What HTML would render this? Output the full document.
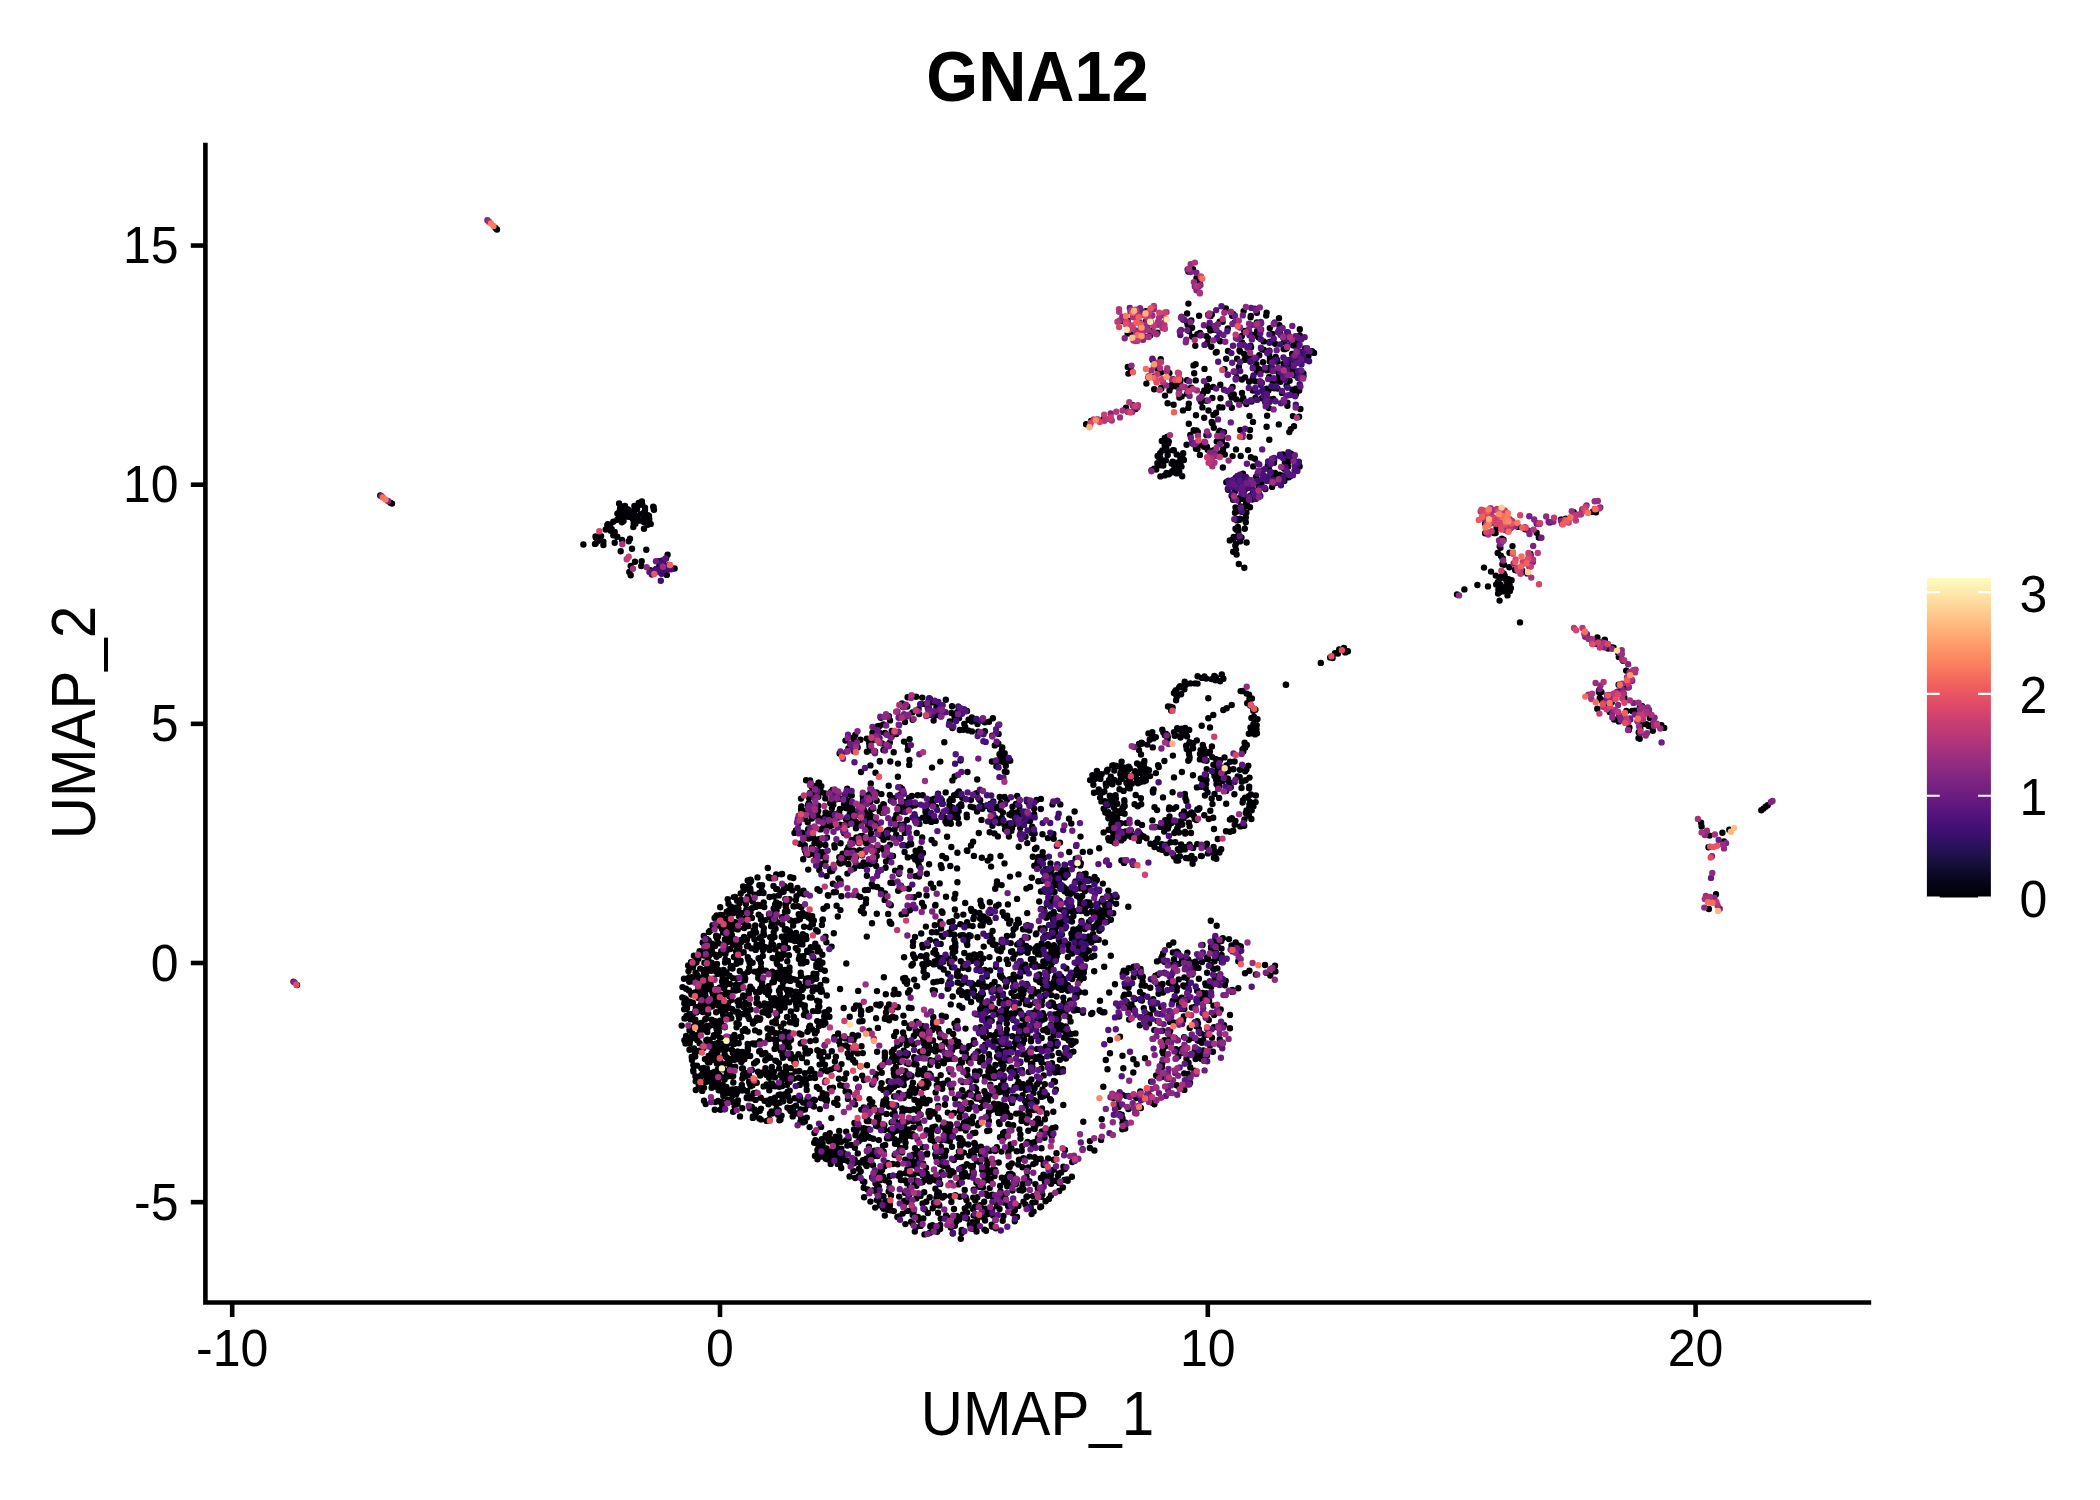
<!DOCTYPE html>
<html><head><meta charset="utf-8"><title>GNA12</title>
<style>
html,body{margin:0;padding:0;background:#fff;}
body{width:2100px;height:1500px;overflow:hidden;}
svg{display:block;font-family:"Liberation Sans",sans-serif;fill:#000;}
</style></head><body>
<svg width="2100" height="1500" viewBox="0 0 2100 1500">
<rect width="2100" height="1500" fill="#fff"/>
<g id="pts" fill="none" stroke-linecap="round" stroke-width="6.4">
<path d="M1193.0 269.2h0M1188.4 271.6h0M1196.5 278.3h0M1199.7 282.4h0M1196.4 285.0h0M1225.9 308.4h0M1150.9 309.0h0M1145.8 311.3h0M1243.6 311.1h0M1256.9 312.7h0M1266.6 312.8h0M1187.1 313.5h0M1208.2 314.7h0M1208.9 314.9h0M1211.8 314.5h0M1233.3 314.3h0M1139.1 315.2h0M1162.3 315.0h0M1199.1 315.7h0M1232.1 315.7h0M1250.8 315.9h0M1266.2 315.6h0M1210.7 316.1h0M1250.6 317.3h0M1279.0 318.3h0M1183.1 319.5h0M1122.3 321.0h0M1127.7 320.8h0M1191.3 320.4h0M1146.1 321.1h0M1219.7 321.6h0M1222.6 321.8h0M1150.1 322.5h0M1187.1 322.4h0M1188.5 322.1h0M1234.6 322.4h0M1256.8 322.5h0M1235.3 323.6h0M1187.6 324.8h0M1188.7 325.9h0M1258.6 325.1h0M1279.4 325.2h0M1208.7 326.6h0M1147.0 328.0h0M1192.1 327.8h0M1227.8 328.4h0M1269.8 328.1h0M1132.6 329.7h0M1212.8 329.8h0M1299.8 329.3h0M1151.0 330.7h0M1210.3 330.6h0M1216.1 330.1h0M1258.0 330.6h0M1189.1 331.3h0M1244.2 331.0h0M1257.2 331.0h0M1157.4 332.7h0M1200.0 332.9h0M1127.7 333.6h0M1280.2 333.4h0M1132.2 334.7h0M1197.4 334.3h0M1253.7 334.9h0M1272.4 334.0h0M1150.3 335.3h0M1241.8 335.9h0M1299.8 335.4h0M1141.0 336.2h0M1192.1 336.6h0M1206.3 336.1h0M1252.7 336.6h0M1299.4 336.1h0M1258.8 337.5h0M1208.0 338.1h0M1217.0 338.6h0M1237.2 338.6h0M1134.5 339.3h0M1290.9 339.9h0M1297.9 339.4h0M1220.2 341.2h0M1263.7 341.4h0M1271.3 341.8h0M1297.7 341.9h0M1242.0 342.5h0M1269.6 342.0h0M1283.9 342.4h0M1207.2 343.2h0M1275.1 343.7h0M1295.7 343.9h0M1195.3 345.7h0M1250.6 345.8h0M1293.5 345.5h0M1211.3 346.8h0M1251.1 347.2h0M1261.7 348.9h0M1286.5 348.5h0M1305.0 348.4h0M1263.7 349.8h0M1283.6 349.1h0M1285.5 349.1h0M1228.0 351.0h0M1239.5 350.4h0M1269.4 350.7h0M1304.2 350.6h0M1216.7 351.9h0M1240.1 351.5h0M1302.9 352.0h0M1312.0 351.2h0M1215.8 352.6h0M1314.1 352.9h0M1244.2 354.0h0M1269.2 354.6h0M1292.1 354.0h0M1259.3 355.3h0M1299.4 355.8h0M1245.6 356.5h0M1250.0 356.8h0M1275.7 356.9h0M1308.4 356.3h0M1226.2 358.7h0M1237.1 358.8h0M1269.9 358.4h0M1295.8 358.9h0M1296.0 358.5h0M1160.7 359.1h0M1244.7 359.9h0M1244.6 359.8h0M1276.9 359.7h0M1152.7 360.1h0M1272.6 360.5h0M1275.1 360.8h0M1287.9 360.2h0M1289.8 360.9h0M1269.7 361.6h0M1277.5 361.8h0M1263.0 362.2h0M1290.6 362.2h0M1283.7 363.8h0M1195.6 364.2h0M1256.4 364.2h0M1193.5 365.4h0M1293.0 365.3h0M1127.8 366.9h0M1238.9 366.8h0M1129.1 367.1h0M1130.5 367.3h0M1252.9 367.8h0M1253.4 367.9h0M1269.1 368.0h0M1287.8 367.7h0M1130.4 368.2h0M1157.6 368.7h0M1204.5 368.9h0M1258.4 368.8h0M1288.6 368.1h0M1293.0 368.9h0M1224.5 369.1h0M1261.9 369.9h0M1271.2 369.8h0M1167.2 370.5h0M1266.9 370.3h0M1284.4 370.4h0M1284.5 370.3h0M1160.1 371.8h0M1234.1 371.7h0M1256.9 371.8h0M1278.2 371.9h0M1292.6 371.7h0M1296.6 371.8h0M1160.9 372.5h0M1128.4 373.6h0M1169.4 373.1h0M1194.2 373.2h0M1303.4 373.4h0M1294.5 375.2h0M1303.5 376.0h0M1154.2 376.7h0M1269.2 377.0h0M1279.0 376.7h0M1148.5 377.6h0M1236.6 377.7h0M1245.1 377.4h0M1252.9 378.1h0M1282.4 378.9h0M1172.8 379.1h0M1180.6 379.9h0M1208.9 379.0h0M1241.9 379.5h0M1172.5 380.3h0M1187.1 380.3h0M1195.7 380.4h0M1252.6 380.3h0M1289.6 380.7h0M1178.5 381.9h0M1180.1 382.0h0M1249.1 381.8h0M1255.9 381.4h0M1272.6 381.3h0M1274.8 381.9h0M1280.5 381.8h0M1172.7 382.7h0M1261.8 382.9h0M1146.4 383.6h0M1220.3 384.8h0M1170.9 385.8h0M1207.0 385.8h0M1286.6 385.6h0M1175.8 386.3h0M1176.6 386.6h0M1232.6 386.9h0M1272.5 386.5h0M1161.2 387.8h0M1170.9 387.3h0M1191.3 387.7h0M1213.1 387.0h0M1287.4 387.2h0M1161.3 388.4h0M1189.9 388.5h0M1266.6 388.7h0M1274.2 388.3h0M1277.6 388.6h0M1295.9 388.7h0M1154.2 389.3h0M1191.7 389.0h0M1292.3 389.7h0M1169.5 390.4h0M1204.3 390.4h0M1207.7 390.8h0M1252.8 390.6h0M1268.6 390.3h0M1299.2 390.5h0M1263.1 391.4h0M1296.5 391.0h0M1242.0 393.0h0M1282.0 392.9h0M1187.1 393.7h0M1202.8 393.8h0M1296.1 393.9h0M1230.7 394.5h0M1233.8 394.4h0M1165.0 395.6h0M1181.6 396.4h0M1179.4 397.6h0M1231.7 397.5h0M1243.2 397.9h0M1255.4 398.0h0M1212.4 398.0h0M1220.5 398.2h0M1261.9 398.3h0M1273.3 398.9h0M1201.5 399.3h0M1236.4 399.4h0M1270.1 399.4h0M1200.5 400.4h0M1206.3 400.8h0M1201.1 401.7h0M1240.2 401.5h0M1251.6 401.5h0M1287.4 402.6h0M1167.6 403.2h0M1188.8 403.7h0M1229.5 403.8h0M1173.6 404.8h0M1246.3 404.1h0M1132.9 405.2h0M1287.4 405.7h0M1126.0 407.8h0M1188.3 407.9h0M1202.4 407.4h0M1219.3 407.3h0M1222.4 407.4h0M1231.8 407.8h0M1135.0 408.9h0M1135.6 409.0h0M1269.0 408.1h0M1300.4 409.0h0M1183.0 410.4h0M1208.5 410.5h0M1127.9 411.8h0M1216.1 412.7h0M1213.5 414.9h0M1196.0 415.3h0M1249.5 415.9h0M1267.1 415.8h0M1292.9 416.1h0M1299.1 416.7h0M1204.2 417.7h0M1103.3 419.2h0M1091.1 421.0h0M1211.7 422.0h0M1253.0 421.9h0M1188.8 423.7h0M1212.0 423.1h0M1212.6 423.5h0M1086.1 424.3h0M1278.8 424.4h0M1266.6 426.7h0M1294.0 426.3h0M1213.8 427.8h0M1240.3 429.9h0M1250.0 429.9h0M1290.8 429.1h0M1193.7 430.2h0M1194.7 430.6h0M1196.6 430.4h0M1219.9 430.6h0M1197.8 431.9h0M1220.6 431.6h0M1218.8 432.6h0M1224.0 432.1h0M1289.3 432.1h0M1206.4 435.0h0M1221.0 434.6h0M1190.3 435.0h0M1167.6 436.6h0M1222.3 436.6h0M1249.6 436.7h0M1164.8 437.9h0M1218.6 437.6h0M1219.2 438.2h0M1221.8 438.6h0M1269.3 439.7h0M1161.8 441.0h0M1220.8 440.1h0M1221.9 440.9h0M1168.8 441.6h0M1216.7 441.6h0M1220.3 442.2h0M1165.1 443.8h0M1168.2 443.6h0M1193.0 443.8h0M1186.6 444.8h0M1201.1 444.5h0M1164.7 445.6h0M1226.6 445.2h0M1204.1 446.8h0M1206.9 446.7h0M1195.8 447.2h0M1196.0 448.7h0M1166.5 449.0h0M1197.5 449.0h0M1207.8 449.8h0M1223.0 449.5h0M1236.0 449.4h0M1162.3 450.5h0M1173.8 450.3h0M1173.0 450.2h0M1213.9 450.2h0M1248.0 450.1h0M1167.6 451.6h0M1160.2 453.2h0M1183.2 453.3h0M1220.2 453.2h0M1291.0 453.8h0M1167.7 454.9h0M1176.7 454.4h0M1199.9 454.9h0M1212.3 454.6h0M1224.8 454.5h0M1283.0 454.4h0M1157.6 456.0h0M1182.3 455.2h0M1240.7 456.0h0M1282.5 455.8h0M1291.7 455.4h0M1179.9 456.3h0M1232.6 456.1h0M1285.5 456.5h0M1159.2 457.4h0M1181.8 457.6h0M1182.1 457.3h0M1250.9 457.2h0M1283.9 457.6h0M1159.4 458.5h0M1160.4 458.1h0M1254.9 458.8h0M1211.6 459.1h0M1289.6 459.3h0M1293.3 459.5h0M1165.8 460.3h0M1183.9 460.0h0M1274.2 460.0h0M1172.6 461.8h0M1179.7 461.5h0M1212.1 461.6h0M1270.6 461.9h0M1273.2 461.7h0M1175.6 462.7h0M1180.4 462.9h0M1274.0 462.8h0M1284.9 462.4h0M1288.1 462.0h0M1298.8 462.4h0M1157.4 463.2h0M1162.4 463.8h0M1171.6 463.6h0M1158.1 464.7h0M1173.6 464.9h0M1160.9 465.3h0M1163.3 465.6h0M1267.8 465.4h0M1287.6 465.6h0M1295.6 465.3h0M1181.5 466.6h0M1253.2 466.4h0M1288.2 466.4h0M1299.6 466.5h0M1222.9 467.5h0M1284.2 467.0h0M1154.1 468.6h0M1175.8 468.3h0M1268.9 468.7h0M1284.2 468.7h0M1156.2 469.5h0M1151.5 470.1h0M1172.2 471.1h0M1179.3 471.9h0M1166.5 472.9h0M1270.6 472.0h0M1275.1 473.0h0M1287.5 472.6h0M1170.2 473.1h0M1176.0 473.2h0M1177.4 473.3h0M1243.0 473.8h0M1168.8 474.3h0M1274.2 474.4h0M1279.4 474.8h0M1286.5 474.3h0M1288.6 474.2h0M1164.7 475.4h0M1275.9 475.8h0M1280.9 475.1h0M1160.4 476.4h0M1182.2 476.2h0M1256.0 477.0h0M1282.2 476.2h0M1290.2 476.1h0M1273.9 477.5h0M1288.8 477.2h0M1235.6 478.0h0M1264.3 478.0h0M1240.9 479.2h0M1263.4 479.9h0M1275.9 479.9h0M1276.7 480.7h0M1276.7 480.3h0M1284.3 480.9h0M1230.8 481.2h0M1235.7 481.5h0M1260.4 481.7h0M1226.3 482.2h0M1247.0 482.3h0M1261.5 483.2h0M1242.0 484.9h0M1258.6 484.8h0M1261.2 485.0h0M1243.8 485.2h0M1258.7 486.5h0M1272.1 486.9h0M1265.4 489.0h0M1228.1 489.7h0M1244.8 489.8h0M1235.0 491.3h0M1243.0 492.5h0M1253.2 492.7h0M1231.6 495.7h0M1250.9 495.5h0M1239.9 497.6h0M1243.4 498.9h0M1253.6 498.4h0M1233.1 499.8h0M1252.3 499.6h0M1238.2 500.6h0M641.9 501.4h0M619.1 503.5h0M638.7 503.0h0M1246.0 503.3h0M642.3 504.6h0M625.0 505.9h0M634.4 505.9h0M638.3 505.6h0M1247.3 505.4h0M620.9 506.2h0M653.2 506.8h0M1240.6 506.4h0M1244.5 506.9h0M1247.9 506.2h0M645.0 507.8h0M653.7 507.1h0M1235.5 507.5h0M1250.0 507.3h0M620.1 508.3h0M637.0 508.9h0M653.6 508.6h0M1241.7 508.8h0M623.5 509.5h0M627.5 509.1h0M628.6 510.0h0M654.0 509.8h0M1239.0 509.3h0M619.7 510.9h0M645.0 510.2h0M630.7 511.4h0M634.0 511.5h0M633.3 511.3h0M1237.4 511.2h0M1241.8 511.7h0M1592.6 511.9h0M618.6 512.6h0M621.6 512.5h0M1235.0 512.7h0M1246.4 512.7h0M1573.7 512.3h0M1596.0 512.2h0M617.4 513.6h0M626.5 513.2h0M630.1 513.7h0M643.1 513.3h0M644.9 513.4h0M1245.4 513.3h0M624.1 514.5h0M634.5 514.5h0M640.6 514.1h0M619.5 515.6h0M619.4 515.3h0M636.9 515.5h0M645.7 515.3h0M647.9 515.1h0M649.0 515.9h0M618.8 516.5h0M627.9 516.6h0M628.9 516.9h0M628.6 516.5h0M632.3 516.8h0M643.8 516.2h0M646.5 516.4h0M1245.8 517.4h0M632.8 518.7h0M1240.1 518.8h0M1565.7 518.8h0M617.3 519.8h0M622.9 520.0h0M633.0 519.2h0M637.9 520.0h0M649.3 519.2h0M1237.0 519.3h0M1239.7 519.8h0M1560.9 519.6h0M1561.7 519.8h0M623.5 520.9h0M639.6 520.5h0M1237.1 520.4h0M1568.0 520.9h0M613.3 521.8h0M621.9 522.3h0M643.9 522.1h0M1245.8 522.3h0M1549.6 522.4h0M633.7 523.5h0M635.4 523.8h0M650.7 523.9h0M1485.1 523.6h0M1536.8 523.5h0M607.3 524.9h0M607.8 524.2h0M610.3 524.5h0M647.8 524.8h0M649.1 524.1h0M1237.9 527.0h0M1518.4 526.9h0M1235.5 528.8h0M1244.8 528.6h0M1244.7 528.8h0M1496.5 528.2h0M605.7 529.5h0M611.8 529.2h0M1236.7 529.2h0M1236.5 529.8h0M1504.6 529.6h0M1509.5 529.1h0M1525.1 529.3h0M1238.3 530.5h0M1494.0 533.0h0M1536.6 532.7h0M1485.1 533.3h0M1495.6 533.1h0M1238.6 534.3h0M595.5 536.5h0M601.1 536.1h0M1233.7 537.0h0M1237.3 536.8h0M595.8 537.5h0M598.8 537.0h0M1241.5 537.4h0M1538.8 537.5h0M1233.3 538.6h0M1240.9 538.3h0M1501.9 538.8h0M1503.5 539.7h0M1229.8 540.4h0M597.4 541.3h0M603.4 541.7h0M1240.1 541.4h0M1246.6 542.5h0M1501.3 542.1h0M595.7 543.6h0M595.0 543.9h0M1236.0 543.5h0M583.4 544.5h0M603.4 545.0h0M1235.3 545.5h0M1499.7 546.3h0M1512.5 546.1h0M1500.4 547.7h0M1236.0 549.6h0M1233.2 551.7h0M1497.7 552.9h0M1509.5 552.7h0M1530.4 553.9h0M667.6 554.7h0M1236.6 554.5h0M1500.9 555.7h0M666.0 558.4h0M1502.8 558.4h0M1502.6 558.8h0M1531.3 560.1h0M658.9 561.3h0M1529.7 561.6h0M659.4 563.9h0M660.8 563.6h0M1502.4 564.2h0M1504.0 564.8h0M665.2 566.2h0M1509.3 567.2h0M674.6 568.5h0M656.4 569.0h0M1515.1 570.0h0M650.2 570.3h0M1516.6 570.4h0M1518.3 570.5h0M1522.2 570.7h0M654.0 571.8h0M654.8 572.8h0M1521.2 572.8h0M661.4 573.3h0M1503.7 573.5h0M1527.3 573.4h0M666.8 574.9h0M1495.8 575.6h0M1502.0 575.9h0M1504.7 575.6h0M1502.9 577.6h0M1499.7 578.2h0M1506.1 578.6h0M1508.6 579.1h0M1511.6 580.2h0M1506.5 581.1h0M1497.8 582.2h0M1496.2 584.4h0M1500.0 584.3h0M1508.3 584.8h0M1509.6 584.5h0M1500.7 585.3h0M1506.9 585.5h0M1504.5 587.7h0M1508.2 587.6h0M1510.9 588.1h0M1498.4 589.5h0M1502.3 589.1h0M1498.7 590.3h0M1499.6 590.7h0M1508.9 590.8h0M1509.9 590.9h0M1503.3 591.2h0M1499.3 592.2h0M1499.2 592.4h0M1498.1 593.5h0M1507.5 595.4h0M1585.5 634.9h0M1597.4 637.4h0M1588.8 638.6h0M1590.8 639.3h0M1604.8 639.8h0M1594.6 640.4h0M1592.3 642.2h0M1602.3 642.1h0M1596.1 643.9h0M1608.0 646.4h0M1610.2 647.6h0M1611.9 647.4h0M1612.3 647.6h0M1613.6 647.8h0M1608.2 648.5h0M1618.2 653.0h0M1618.8 656.9h0M1623.1 660.7h0M1626.2 670.6h0M1626.3 670.6h0M1221.8 674.4h0M1214.3 675.9h0M1197.6 676.3h0M1204.5 676.4h0M1215.6 677.0h0M1202.0 677.9h0M1206.2 678.6h0M1216.1 678.0h0M1223.4 678.8h0M1211.5 679.1h0M1215.5 680.3h0M1184.7 681.7h0M1220.1 681.2h0M1629.0 681.8h0M1190.4 683.4h0M1195.2 683.4h0M1197.5 683.6h0M1185.7 684.7h0M1618.6 684.8h0M1621.6 684.5h0M1180.0 686.3h0M1183.8 686.4h0M1179.0 687.6h0M1626.8 687.3h0M1628.5 687.2h0M1184.4 689.3h0M1621.8 690.0h0M1175.9 690.3h0M1242.7 691.0h0M1599.0 690.6h0M1175.2 691.2h0M1240.6 691.1h0M1598.9 691.9h0M1617.6 691.7h0M1601.5 692.1h0M1173.9 693.1h0M1175.5 693.9h0M1246.6 693.6h0M1181.1 694.3h0M1249.1 694.8h0M1177.5 695.4h0M916.1 696.8h0M907.6 697.3h0M922.3 697.6h0M1176.7 697.0h0M1624.4 697.6h0M929.9 698.6h0M1249.5 698.7h0M1250.1 698.6h0M1251.9 698.5h0M1599.7 698.0h0M945.8 699.8h0M928.7 700.5h0M1176.1 700.2h0M1601.7 700.2h0M930.0 701.9h0M931.3 702.6h0M1611.8 702.2h0M902.0 703.5h0M1247.2 703.2h0M904.2 704.8h0M921.8 704.1h0M926.0 704.3h0M904.7 705.6h0M1250.3 705.5h0M1251.1 705.6h0M1606.9 705.7h0M907.3 706.5h0M936.6 706.3h0M952.0 706.3h0M1168.0 706.5h0M1170.1 706.6h0M1642.1 706.2h0M902.9 707.1h0M936.4 707.7h0M1172.6 707.4h0M1605.9 707.4h0M1606.9 707.5h0M1639.8 707.7h0M1254.5 709.0h0M1597.3 708.8h0M918.6 709.3h0M1255.4 709.8h0M966.0 710.7h0M967.0 710.9h0M1171.2 710.5h0M1253.3 710.7h0M1626.4 710.9h0M1632.1 710.9h0M1634.8 710.8h0M1639.3 710.3h0M928.9 711.5h0M1609.7 712.0h0M912.4 712.4h0M935.9 712.5h0M951.4 712.9h0M957.1 712.3h0M1635.7 712.6h0M919.2 714.1h0M928.0 715.0h0M935.4 715.5h0M1638.2 715.4h0M888.9 716.2h0M954.5 716.6h0M1254.0 716.8h0M880.9 717.8h0M901.1 717.1h0M971.9 717.4h0M954.8 718.9h0M959.1 718.1h0M992.9 718.2h0M1251.4 718.0h0M1253.7 718.0h0M1649.8 718.1h0M912.6 719.8h0M968.6 719.8h0M970.6 719.7h0M1257.5 719.1h0M1614.2 719.5h0M1626.0 719.2h0M1630.2 719.2h0M890.0 720.4h0M933.6 720.6h0M905.0 722.0h0M949.8 721.5h0M971.8 721.6h0M989.0 721.7h0M1618.8 721.4h0M984.8 722.2h0M964.3 724.0h0M1642.2 723.9h0M883.3 724.4h0M977.5 724.1h0M1253.4 724.3h0M1646.3 724.3h0M1651.9 724.8h0M998.4 725.1h0M1256.7 725.1h0M1659.8 725.8h0M1661.4 725.3h0M877.8 726.1h0M879.5 726.0h0M965.2 727.0h0M1648.6 726.0h0M1185.2 728.0h0M1250.5 727.5h0M1629.4 727.5h0M1664.2 727.9h0M952.4 728.1h0M1177.2 728.3h0M1181.7 728.8h0M1252.6 728.2h0M1256.5 728.9h0M1640.3 728.4h0M963.3 729.8h0M1162.3 729.7h0M1179.9 729.8h0M1183.9 729.9h0M1189.2 729.9h0M1251.0 729.6h0M1628.8 729.9h0M891.7 730.9h0M959.8 730.0h0M968.2 730.4h0M1183.4 730.8h0M1652.8 730.8h0M971.9 731.4h0M978.3 731.6h0M984.9 731.3h0M1186.2 731.7h0M1252.0 731.2h0M872.5 732.7h0M879.5 732.6h0M885.0 733.0h0M895.0 732.7h0M1152.3 732.2h0M1163.4 732.6h0M1174.0 732.1h0M1638.7 732.3h0M1640.2 732.4h0M998.6 733.9h0M1148.5 733.4h0M1165.8 733.8h0M1248.8 733.8h0M1252.0 733.2h0M1257.0 733.3h0M855.3 734.9h0M896.3 734.1h0M1151.7 734.6h0M1255.2 734.4h0M872.5 735.7h0M992.2 735.8h0M1164.9 735.3h0M1167.4 735.2h0M1174.7 735.7h0M1175.8 735.4h0M1181.2 735.9h0M1185.7 735.3h0M1185.8 735.2h0M848.3 736.9h0M874.6 736.2h0M891.7 736.5h0M1187.1 736.4h0M853.7 737.5h0M1155.8 737.1h0M1167.8 737.2h0M1180.5 737.5h0M866.8 738.6h0M1153.6 738.4h0M1638.5 738.1h0M1639.7 738.7h0M853.7 739.4h0M860.4 739.7h0M868.2 739.6h0M909.6 739.1h0M1149.7 739.7h0M1167.5 739.5h0M845.5 740.6h0M872.3 740.6h0M1196.8 740.4h0M855.1 741.8h0M904.0 741.6h0M889.8 742.6h0M944.3 742.2h0M1141.5 742.7h0M1189.6 742.2h0M1244.6 742.8h0M869.1 743.0h0M882.1 743.4h0M998.4 743.8h0M1139.0 744.0h0M1142.4 743.5h0M1193.3 743.1h0M1140.7 744.0h0M1147.3 744.6h0M1192.2 744.5h0M1202.8 744.9h0M1246.8 744.9h0M852.1 745.3h0M908.1 745.7h0M994.8 745.4h0M1186.1 745.8h0M869.5 746.4h0M1211.9 746.4h0M857.6 747.4h0M1002.3 747.5h0M1152.8 747.4h0M1245.1 747.7h0M848.4 748.5h0M1186.7 749.0h0M1193.1 748.3h0M1203.9 748.6h0M1243.6 748.1h0M883.8 749.8h0M907.7 749.7h0M1242.5 749.5h0M872.0 750.4h0M883.4 750.1h0M1001.8 750.3h0M1139.0 750.1h0M1200.6 750.1h0M854.2 751.4h0M866.9 751.8h0M875.1 751.5h0M1188.8 751.8h0M1205.0 751.2h0M1209.9 751.8h0M1242.6 751.8h0M1243.3 751.4h0M893.7 752.3h0M839.6 753.5h0M1004.7 753.3h0M1200.0 754.0h0M1208.3 753.1h0M842.1 754.3h0M999.5 754.2h0M1003.7 754.6h0M1141.0 754.5h0M1189.0 754.0h0M1172.9 755.6h0M1204.3 755.4h0M1001.7 757.3h0M1189.6 757.1h0M1212.3 757.1h0M1224.5 757.4h0M909.5 759.9h0M1006.3 759.5h0M1189.4 759.0h0M1199.9 759.4h0M1204.8 759.1h0M1216.1 759.2h0M879.8 761.0h0M960.5 760.6h0M998.8 760.2h0M1010.2 760.7h0M1144.4 761.0h0M1188.3 760.7h0M1204.3 760.4h0M1206.5 760.7h0M1220.1 760.3h0M879.9 761.6h0M890.3 761.5h0M940.3 761.6h0M991.9 761.5h0M1001.3 761.5h0M1003.0 761.7h0M1121.6 761.6h0M1144.3 761.7h0M1164.4 761.0h0M1230.0 761.8h0M1234.6 761.5h0M1216.4 762.3h0M898.0 763.6h0M1137.1 763.4h0M1143.1 763.8h0M909.2 764.9h0M1213.4 764.7h0M870.4 765.4h0M1005.8 765.7h0M1112.3 765.5h0M1113.1 765.2h0M1116.0 765.6h0M1139.6 765.2h0M1140.8 765.5h0M1143.8 765.2h0M1158.1 765.2h0M1226.6 765.2h0M1248.3 765.7h0M996.4 766.3h0M1119.7 766.5h0M1128.7 766.8h0M932.0 767.6h0M1123.8 767.4h0M1158.8 767.0h0M1222.2 767.7h0M1129.7 768.1h0M1227.8 768.5h0M1107.7 769.7h0M1123.5 770.0h0M1128.8 769.2h0M1143.5 769.5h0M1147.2 769.4h0M1206.7 769.1h0M1217.4 769.4h0M1233.4 769.3h0M1239.9 769.8h0M1246.4 769.4h0M1096.9 771.0h0M1107.1 770.3h0M1114.3 770.5h0M1149.0 770.2h0M1228.0 770.6h0M1228.2 771.0h0M967.5 772.0h0M1004.8 771.6h0M1106.7 771.6h0M1135.2 771.1h0M1139.6 771.1h0M1147.4 772.0h0M1220.4 771.2h0M1245.2 771.3h0M861.0 772.0h0M875.5 772.8h0M1006.5 772.1h0M1121.0 772.3h0M1144.7 772.1h0M1181.9 772.0h0M1213.6 772.4h0M1216.1 772.9h0M1224.5 772.5h0M1140.7 773.1h0M1155.9 773.1h0M1214.9 773.7h0M1221.6 773.9h0M1101.6 774.3h0M1101.0 774.7h0M1120.3 774.0h0M1125.0 774.8h0M1133.9 774.8h0M1146.4 774.7h0M1215.1 774.1h0M1092.4 775.1h0M1097.5 775.9h0M1098.3 775.7h0M1128.2 775.4h0M1135.9 775.4h0M1193.0 775.3h0M1205.9 775.1h0M897.9 776.8h0M954.7 776.5h0M1096.9 776.2h0M1110.8 776.6h0M1126.6 776.1h0M1135.6 776.5h0M1150.1 776.1h0M1214.5 776.1h0M1237.7 776.5h0M1239.7 776.9h0M1130.6 777.5h0M1174.0 777.4h0M1221.2 777.3h0M1249.5 777.6h0M1094.8 778.9h0M1095.4 778.6h0M1099.4 778.6h0M1100.4 778.9h0M1121.6 778.5h0M1121.2 778.3h0M1128.6 778.7h0M1142.4 778.6h0M1200.8 778.4h0M1219.3 778.6h0M1221.7 778.5h0M1222.9 778.8h0M1227.3 778.5h0M1228.1 779.0h0M977.2 779.5h0M1114.3 779.9h0M1120.7 779.2h0M1216.1 779.6h0M1217.4 779.7h0M1221.7 779.3h0M806.1 780.3h0M810.1 780.5h0M952.4 780.4h0M1090.1 780.1h0M1109.0 780.1h0M1129.8 780.2h0M1140.5 780.0h0M1145.8 780.6h0M1206.5 780.0h0M1245.6 780.3h0M1136.8 781.1h0M1140.1 781.6h0M1141.1 781.7h0M1144.4 781.3h0M1204.5 781.7h0M1222.8 781.1h0M1241.8 781.8h0M818.5 782.7h0M819.1 782.6h0M1111.2 782.5h0M1118.8 782.6h0M1126.4 782.5h0M1202.6 783.0h0M1229.2 782.2h0M870.8 783.5h0M1105.8 783.7h0M1107.7 783.6h0M1127.0 783.6h0M1131.8 783.8h0M1138.0 783.3h0M1093.4 784.8h0M1112.4 784.2h0M1206.1 784.1h0M1216.5 784.1h0M888.7 785.8h0M1106.1 785.8h0M1217.6 785.5h0M811.9 786.9h0M814.5 786.1h0M821.3 786.1h0M1201.1 786.8h0M1219.2 786.1h0M1249.2 786.6h0M900.4 787.5h0M1128.0 787.4h0M1196.9 787.4h0M1230.8 787.3h0M813.1 788.9h0M847.2 788.6h0M1129.8 788.4h0M1205.7 788.1h0M1218.3 788.7h0M1241.5 788.0h0M1249.1 788.3h0M819.1 789.2h0M832.6 789.9h0M902.1 789.0h0M1098.8 789.5h0M1119.5 789.3h0M1153.6 789.4h0M1123.6 790.9h0M1152.8 790.9h0M1226.1 790.9h0M818.9 791.9h0M821.3 792.0h0M831.8 791.5h0M831.1 791.6h0M959.0 791.4h0M1104.4 791.4h0M811.1 792.8h0M812.7 792.8h0M834.6 792.2h0M849.0 792.1h0M870.7 792.1h0M876.6 792.4h0M945.7 792.4h0M1094.0 792.8h0M1099.1 792.1h0M1102.5 792.6h0M1153.1 792.5h0M1172.6 792.3h0M1207.6 792.4h0M809.9 793.0h0M814.9 793.8h0M824.9 793.5h0M938.1 793.8h0M957.5 793.7h0M957.5 793.3h0M976.6 793.3h0M1184.9 793.9h0M1214.5 793.9h0M815.8 794.1h0M881.4 794.1h0M889.8 794.9h0M900.5 794.5h0M975.5 794.0h0M975.4 794.3h0M1135.7 795.0h0M1234.4 794.2h0M1250.9 794.5h0M810.8 795.6h0M845.5 795.4h0M851.7 795.5h0M862.8 796.0h0M867.5 795.5h0M917.7 795.2h0M922.7 795.2h0M954.1 795.1h0M957.5 795.1h0M975.3 795.1h0M1017.2 795.9h0M1109.8 795.7h0M1115.6 795.3h0M1204.9 795.5h0M1255.8 795.5h0M815.6 796.2h0M818.3 796.7h0M869.7 796.8h0M911.8 796.0h0M1111.2 796.3h0M1248.8 796.1h0M809.1 797.7h0M909.2 797.6h0M962.3 797.8h0M999.7 797.0h0M1004.5 797.0h0M1100.1 797.6h0M1163.0 797.4h0M1219.1 797.9h0M1245.1 797.7h0M801.0 798.6h0M825.3 798.4h0M835.8 799.0h0M838.9 798.7h0M840.7 798.7h0M893.9 798.1h0M934.5 798.8h0M937.7 799.0h0M951.2 798.6h0M1040.9 798.9h0M1115.9 798.6h0M1140.9 798.3h0M1185.4 798.3h0M1211.7 798.4h0M836.2 799.2h0M863.0 799.2h0M931.6 799.8h0M935.4 800.0h0M952.7 799.9h0M970.9 799.8h0M979.3 799.7h0M1006.9 799.8h0M847.7 800.4h0M876.7 800.8h0M890.8 800.6h0M941.8 800.1h0M949.5 800.9h0M980.2 800.3h0M1019.6 800.3h0M1036.5 800.0h0M1109.8 800.9h0M1124.3 800.2h0M1186.4 800.9h0M1243.0 800.1h0M993.3 801.4h0M1027.0 801.5h0M1101.4 801.4h0M1104.9 801.3h0M1124.4 801.4h0M1250.0 801.9h0M808.8 803.0h0M830.9 802.9h0M862.6 802.4h0M867.5 802.9h0M870.2 802.0h0M906.0 802.0h0M1000.8 802.9h0M1028.7 802.9h0M1112.8 802.2h0M1113.6 802.8h0M1114.3 802.4h0M1242.6 802.5h0M1255.6 802.1h0M830.2 803.2h0M844.0 803.7h0M930.3 803.8h0M942.1 803.7h0M942.6 803.4h0M990.5 803.6h0M1016.0 804.0h0M1106.0 803.5h0M1112.4 803.8h0M1117.2 803.7h0M1226.2 803.8h0M807.9 804.9h0M833.3 804.8h0M883.8 804.5h0M883.3 804.2h0M901.8 804.6h0M961.1 804.2h0M1029.6 804.3h0M1032.1 804.6h0M1052.5 804.4h0M1060.3 804.4h0M1134.6 804.2h0M1141.2 804.3h0M1212.5 804.1h0M1249.4 804.5h0M814.6 805.6h0M818.2 805.8h0M846.7 805.5h0M915.0 805.3h0M933.5 805.7h0M949.4 805.3h0M961.4 805.9h0M981.3 805.5h0M992.5 805.2h0M1001.0 805.2h0M1107.6 805.5h0M1124.0 805.8h0M1124.7 805.9h0M801.3 806.5h0M898.9 806.8h0M905.3 806.4h0M911.0 806.6h0M926.1 806.2h0M936.0 806.9h0M959.1 806.1h0M970.7 806.6h0M988.0 806.2h0M998.2 806.6h0M1012.5 806.8h0M1019.3 806.4h0M1137.8 806.3h0M1253.5 806.2h0M831.9 808.0h0M845.8 808.0h0M852.1 807.0h0M860.3 807.1h0M861.5 807.9h0M880.9 807.2h0M951.6 807.4h0M952.5 807.4h0M973.6 807.4h0M1113.8 807.2h0M1114.0 807.0h0M1122.6 807.9h0M1123.2 807.7h0M1154.5 807.2h0M1169.3 807.4h0M1176.2 807.1h0M1249.3 807.2h0M801.1 808.9h0M848.6 808.8h0M873.2 808.6h0M925.5 808.8h0M926.3 808.1h0M982.4 808.8h0M994.3 808.4h0M1034.1 808.5h0M1040.8 809.0h0M1103.7 808.8h0M1173.6 808.8h0M1199.4 808.2h0M801.6 809.5h0M813.5 809.4h0M840.0 809.0h0M852.7 809.8h0M863.8 809.7h0M871.3 809.6h0M955.1 809.7h0M990.1 809.5h0M999.8 809.1h0M1000.6 809.8h0M1169.0 809.3h0M1197.3 809.4h0M1198.0 809.8h0M898.1 810.9h0M949.2 810.9h0M1115.4 810.8h0M1120.8 810.7h0M1122.2 810.6h0M1157.1 810.1h0M1210.3 810.8h0M1246.5 810.4h0M1251.7 810.3h0M806.1 811.1h0M818.2 811.1h0M864.5 811.1h0M879.6 811.3h0M902.2 811.6h0M925.5 811.8h0M927.5 811.8h0M954.6 811.9h0M958.7 811.1h0M977.1 811.6h0M1025.3 811.7h0M1074.6 811.5h0M1120.5 811.1h0M1121.1 811.4h0M1184.0 811.5h0M801.2 812.6h0M825.6 812.5h0M839.2 812.3h0M865.3 812.5h0M882.3 812.9h0M927.1 812.1h0M1002.9 812.6h0M1012.1 812.4h0M1017.4 812.2h0M1105.3 812.6h0M1108.4 812.1h0M1120.2 812.8h0M1120.9 812.9h0M1191.4 812.4h0M1245.8 813.0h0M808.0 813.5h0M817.4 813.5h0M827.7 813.5h0M833.1 813.6h0M953.8 813.6h0M1014.4 813.1h0M1107.4 813.3h0M1124.6 813.8h0M831.4 814.0h0M837.2 814.6h0M849.7 814.2h0M857.4 814.1h0M870.0 815.0h0M896.3 814.9h0M942.5 814.4h0M951.8 814.4h0M957.2 815.0h0M966.7 814.6h0M1009.4 814.4h0M1034.2 814.1h0M1112.6 814.7h0M1181.6 814.8h0M1189.4 814.1h0M1248.4 814.8h0M801.9 815.2h0M813.8 815.2h0M826.5 815.1h0M827.9 815.7h0M832.1 815.5h0M834.0 815.6h0M853.9 815.3h0M1011.1 815.2h0M1020.4 815.6h0M1027.3 816.0h0M1111.2 815.8h0M1186.5 815.6h0M1193.2 815.0h0M1204.3 815.2h0M1249.0 815.7h0M817.5 816.7h0M825.1 816.5h0M872.3 816.8h0M1112.6 816.8h0M1114.1 816.3h0M1169.5 816.5h0M1193.9 816.1h0M802.7 817.4h0M804.6 817.8h0M805.0 817.5h0M805.1 817.6h0M838.4 817.6h0M867.4 817.1h0M922.8 817.6h0M930.3 817.1h0M931.7 817.9h0M944.9 817.8h0M950.8 817.4h0M956.2 817.5h0M966.9 817.3h0M1001.8 817.9h0M1114.4 817.0h0M1117.2 817.9h0M1213.2 817.8h0M804.8 818.8h0M811.8 818.5h0M821.2 818.6h0M924.6 818.0h0M927.1 818.8h0M957.9 818.1h0M995.7 818.2h0M1015.2 818.3h0M1022.8 818.6h0M1069.0 818.8h0M1108.3 818.0h0M1108.8 818.4h0M1183.6 818.3h0M1194.7 819.0h0M1231.8 818.1h0M1251.4 819.0h0M846.0 819.2h0M849.2 820.0h0M853.9 819.3h0M863.0 819.5h0M865.9 819.7h0M868.2 819.7h0M874.3 819.0h0M874.9 819.5h0M894.4 819.3h0M907.0 820.0h0M918.4 819.6h0M981.5 819.9h0M993.0 819.4h0M1001.0 819.6h0M1116.0 819.0h0M1208.8 819.0h0M1229.9 819.6h0M1244.4 819.5h0M935.7 820.9h0M1026.3 820.5h0M1152.4 820.4h0M1165.4 820.8h0M1165.2 820.2h0M1169.1 820.1h0M1196.4 820.0h0M1235.4 820.9h0M833.6 821.6h0M852.1 822.0h0M855.8 821.6h0M915.7 821.8h0M925.9 821.1h0M931.3 821.9h0M945.4 821.4h0M990.0 821.5h0M995.5 821.9h0M1018.8 821.8h0M1030.0 821.0h0M1114.3 821.8h0M1115.1 821.9h0M1117.1 821.3h0M1175.4 821.6h0M1179.7 821.5h0M807.7 822.3h0M950.5 822.6h0M1137.6 822.8h0M1171.4 822.9h0M1188.8 822.7h0M798.6 823.5h0M824.5 823.9h0M831.8 823.9h0M853.8 823.1h0M857.8 823.4h0M859.0 824.0h0M919.4 823.9h0M946.5 823.4h0M950.8 823.7h0M958.8 823.5h0M998.6 823.0h0M1009.1 823.5h0M1014.3 824.0h0M1016.0 823.1h0M1071.3 823.5h0M1113.0 823.5h0M1115.7 823.4h0M1120.9 823.1h0M1126.0 823.1h0M1162.3 823.0h0M832.2 824.9h0M839.8 824.8h0M845.6 824.4h0M845.5 824.8h0M847.4 824.9h0M869.5 824.3h0M877.5 824.7h0M899.4 824.8h0M903.6 824.5h0M1004.4 824.8h0M1111.4 824.3h0M1142.0 824.9h0M1182.2 824.5h0M1234.7 824.7h0M824.0 825.9h0M841.5 825.1h0M868.1 825.4h0M896.4 825.4h0M992.4 825.8h0M1116.5 825.8h0M1118.7 825.0h0M1168.7 825.7h0M1244.2 825.8h0M830.0 826.2h0M1032.2 826.7h0M1115.9 826.9h0M1160.3 826.9h0M1165.7 826.6h0M1165.2 826.7h0M1178.3 826.3h0M1189.6 826.3h0M1240.3 826.4h0M825.2 827.6h0M870.2 827.8h0M1012.1 827.9h0M1020.2 827.9h0M1112.7 827.9h0M1155.4 827.0h0M822.8 828.3h0M826.8 828.1h0M856.0 828.2h0M903.7 828.5h0M1008.8 828.4h0M1032.0 828.2h0M1112.3 828.2h0M1168.0 828.5h0M1177.1 828.7h0M808.2 829.2h0M820.4 829.4h0M876.8 829.5h0M888.8 829.8h0M894.6 829.5h0M1005.1 829.5h0M1108.7 829.7h0M1214.0 829.0h0M795.9 830.4h0M878.6 830.4h0M887.1 830.8h0M1011.4 830.8h0M1011.3 830.1h0M1033.8 830.1h0M1130.8 830.5h0M1233.2 830.7h0M808.0 831.6h0M1112.7 831.1h0M1121.7 832.0h0M1125.6 831.5h0M1164.2 831.6h0M1175.6 831.7h0M1185.1 831.9h0M1226.0 831.3h0M1229.9 831.7h0M794.5 832.9h0M801.9 832.8h0M811.5 832.0h0M885.7 833.0h0M904.8 832.9h0M916.7 833.0h0M978.8 833.0h0M989.7 832.2h0M1031.6 832.9h0M1103.6 832.4h0M1113.2 832.8h0M1139.2 832.9h0M1179.0 832.5h0M1191.0 833.0h0M803.1 833.2h0M812.9 833.4h0M844.2 833.2h0M871.0 833.1h0M994.5 833.4h0M1034.6 833.5h0M1053.4 833.9h0M1126.1 833.8h0M1174.3 833.1h0M1185.2 833.6h0M882.2 834.6h0M896.2 834.8h0M1042.5 834.2h0M1115.0 834.5h0M1119.3 834.9h0M1126.4 834.5h0M1140.5 834.4h0M862.5 835.9h0M880.4 835.0h0M881.5 835.9h0M1121.0 835.7h0M1127.8 835.4h0M1133.1 835.9h0M860.5 836.3h0M947.1 836.7h0M997.9 836.4h0M1008.9 836.5h0M1025.5 836.7h0M1080.5 836.6h0M1124.7 836.8h0M1131.0 836.7h0M1143.6 836.5h0M827.0 837.4h0M856.4 837.4h0M859.7 837.4h0M867.0 837.8h0M888.5 837.2h0M895.6 838.0h0M922.2 837.4h0M1112.9 837.3h0M1139.3 838.0h0M808.7 838.5h0M813.7 838.2h0M819.5 839.0h0M868.3 838.3h0M872.3 838.7h0M900.5 838.2h0M1033.3 838.9h0M1047.9 838.1h0M1053.7 838.8h0M1108.3 838.3h0M1112.3 838.5h0M1123.6 838.6h0M1138.8 838.1h0M1139.5 838.1h0M1146.5 838.3h0M1157.7 838.6h0M1217.8 839.0h0M851.7 839.9h0M862.9 840.0h0M870.7 839.8h0M883.5 839.8h0M931.6 839.9h0M1120.9 839.3h0M817.5 840.9h0M856.5 840.7h0M869.2 840.8h0M1109.0 840.3h0M1121.2 840.4h0M1138.9 840.9h0M860.6 841.6h0M973.1 841.8h0M1111.5 841.0h0M859.1 843.0h0M910.5 842.8h0M1060.0 842.6h0M1114.9 843.0h0M1155.7 842.5h0M1156.5 842.2h0M1170.6 842.2h0M1175.3 842.2h0M799.9 843.8h0M814.5 843.3h0M840.6 843.2h0M866.3 843.5h0M867.3 843.1h0M934.6 843.3h0M1027.3 843.1h0M1150.4 843.7h0M1206.9 843.7h0M820.0 844.1h0M825.4 844.9h0M889.9 844.8h0M911.2 844.3h0M1161.8 844.1h0M1164.7 845.0h0M1166.8 844.7h0M1181.2 844.4h0M1189.5 844.4h0M1197.2 844.1h0M804.8 845.3h0M819.4 845.1h0M834.4 845.1h0M903.6 845.1h0M907.1 845.6h0M971.0 845.5h0M1165.1 845.1h0M1018.7 846.8h0M1190.1 846.5h0M1206.3 846.7h0M1213.6 846.9h0M811.8 847.7h0M834.7 847.6h0M848.3 847.2h0M876.1 848.0h0M951.3 847.0h0M1036.5 847.7h0M1154.5 847.1h0M1184.8 847.3h0M1193.2 847.9h0M804.4 848.3h0M881.6 848.1h0M920.3 848.8h0M1035.0 849.0h0M883.7 849.9h0M1159.4 849.1h0M1162.0 849.8h0M1177.9 849.1h0M1180.4 849.9h0M1180.7 849.8h0M1184.8 849.4h0M1221.2 849.2h0M805.0 850.6h0M814.6 851.0h0M827.5 850.6h0M847.0 850.3h0M853.8 850.7h0M859.6 850.2h0M864.8 850.3h0M876.3 850.5h0M877.1 850.8h0M915.6 850.8h0M966.9 850.4h0M967.4 850.9h0M1178.5 850.1h0M818.2 851.0h0M853.6 852.0h0M904.6 852.0h0M1069.2 852.0h0M1082.8 851.9h0M1210.8 851.8h0M1214.9 851.2h0M822.7 852.2h0M849.6 852.7h0M918.4 852.9h0M923.0 853.0h0M957.4 852.7h0M1042.7 852.2h0M1219.5 852.5h0M806.0 853.3h0M810.1 854.0h0M810.8 853.7h0M842.6 853.7h0M917.0 853.2h0M1166.4 853.0h0M1207.9 853.4h0M808.7 854.7h0M845.3 854.8h0M852.0 854.8h0M919.1 854.5h0M1173.2 854.8h0M820.1 855.6h0M822.9 855.0h0M893.0 855.9h0M973.9 855.9h0M1191.6 855.9h0M1201.0 855.9h0M1214.5 855.3h0M815.9 856.4h0M821.1 856.3h0M849.5 856.9h0M875.3 856.5h0M876.7 856.1h0M913.6 856.8h0M942.3 856.0h0M990.4 856.6h0M1000.5 856.0h0M1032.8 856.7h0M1174.0 856.5h0M1179.8 856.2h0M1201.8 856.1h0M839.3 857.3h0M849.1 857.2h0M852.6 857.7h0M856.2 857.1h0M888.7 857.5h0M907.8 857.4h0M981.8 857.7h0M1038.6 857.0h0M1044.4 857.6h0M1185.9 858.0h0M1213.9 857.7h0M946.1 858.3h0M990.3 858.2h0M1038.2 858.4h0M1043.3 858.4h0M1075.7 858.7h0M1078.8 858.7h0M1175.9 858.3h0M1188.5 858.3h0M1190.8 858.3h0M1194.5 858.9h0M1216.3 858.7h0M803.2 859.2h0M915.2 859.4h0M916.7 860.0h0M920.8 859.2h0M841.2 860.5h0M843.9 860.5h0M875.0 860.2h0M919.0 860.5h0M987.7 860.6h0M1121.4 860.4h0M1176.5 860.6h0M1178.2 860.6h0M825.5 861.1h0M886.0 861.5h0M1037.6 861.7h0M839.2 862.4h0M843.0 862.6h0M863.6 862.5h0M870.1 862.7h0M918.2 862.3h0M1076.8 862.8h0M1124.0 862.9h0M840.3 863.5h0M848.3 863.9h0M1004.5 863.4h0M1040.8 863.2h0M1050.5 863.4h0M1080.8 863.3h0M1192.6 863.7h0M821.1 864.0h0M848.4 864.3h0M870.5 864.1h0M929.1 864.3h0M1133.1 864.8h0M855.8 865.6h0M859.6 865.8h0M863.5 865.9h0M865.3 865.0h0M876.2 866.0h0M919.1 865.8h0M940.8 865.2h0M1034.3 865.8h0M1057.6 865.5h0M1074.0 865.3h0M1080.3 865.5h0M819.2 866.1h0M950.3 866.0h0M991.1 866.6h0M1039.1 866.5h0M885.6 867.8h0M900.3 867.9h0M941.7 868.0h0M767.8 868.0h0M830.9 868.7h0M854.2 868.5h0M957.1 868.4h0M808.2 869.6h0M831.1 870.0h0M1045.5 869.3h0M1051.7 869.2h0M1063.8 869.2h0M819.3 870.1h0M830.0 870.5h0M832.4 870.8h0M895.1 870.6h0M910.3 870.9h0M1061.0 870.8h0M1067.7 870.2h0M830.6 871.3h0M1050.8 871.6h0M1062.7 871.6h0M1045.0 872.7h0M847.4 873.6h0M899.1 873.8h0M926.9 873.7h0M1044.8 873.7h0M1062.0 873.2h0M1084.5 873.9h0M1085.6 873.8h0M776.2 874.4h0M781.4 874.2h0M782.1 874.0h0M1018.5 874.4h0M1056.9 874.8h0M1064.1 874.1h0M1067.6 874.4h0M1079.6 874.6h0M866.9 875.8h0M918.6 875.1h0M1084.8 875.1h0M826.6 876.1h0M915.4 876.1h0M919.0 876.6h0M1010.0 876.6h0M1048.0 876.6h0M1054.5 876.6h0M1054.8 876.3h0M1063.5 876.1h0M1094.6 877.0h0M757.5 877.4h0M768.6 877.0h0M790.3 877.2h0M793.3 878.0h0M1031.8 877.7h0M1053.1 877.6h0M1064.8 877.5h0M769.4 878.1h0M771.8 878.2h0M775.1 878.0h0M838.4 878.4h0M750.4 879.8h0M1058.1 880.0h0M1089.1 879.1h0M1096.8 879.9h0M747.7 880.4h0M751.1 880.9h0M840.5 880.9h0M1041.4 880.9h0M1042.6 880.6h0M1045.1 880.4h0M1058.9 880.4h0M1089.5 880.3h0M997.0 881.4h0M1038.3 881.3h0M1075.5 881.5h0M1095.9 881.0h0M749.6 882.9h0M890.5 882.7h0M892.9 882.9h0M957.4 882.2h0M1053.0 882.3h0M832.9 883.7h0M839.9 883.3h0M930.9 883.7h0M939.7 883.4h0M1080.6 883.5h0M1102.9 883.6h0M871.8 884.3h0M996.7 884.9h0M1056.5 885.0h0M759.4 885.3h0M762.1 885.3h0M773.5 885.9h0M790.6 885.6h0M900.9 885.7h0M1001.6 885.1h0M1057.5 885.2h0M743.1 886.5h0M748.2 886.5h0M784.2 886.0h0M873.5 886.4h0M1062.8 886.2h0M1083.8 886.9h0M797.5 887.9h0M877.2 887.0h0M933.3 887.7h0M1030.1 887.0h0M1047.9 887.3h0M1052.3 887.2h0M1061.8 887.9h0M1064.4 887.6h0M747.6 888.4h0M750.2 888.4h0M776.2 888.9h0M784.1 888.5h0M788.5 888.1h0M908.8 888.7h0M995.2 888.7h0M1026.4 888.6h0M1060.4 888.6h0M1064.4 888.2h0M1080.4 888.1h0M1080.4 888.4h0M1089.2 888.0h0M777.4 889.1h0M817.5 889.2h0M867.9 889.9h0M899.8 889.6h0M1067.0 889.5h0M743.5 890.6h0M750.5 890.7h0M761.7 890.7h0M792.3 890.4h0M803.5 890.7h0M819.6 890.8h0M864.9 890.1h0M881.2 890.3h0M898.2 890.7h0M1072.9 890.8h0M1099.0 891.0h0M1108.3 890.6h0M749.9 891.3h0M783.6 891.8h0M1041.0 891.5h0M1043.5 891.4h0M1045.7 891.9h0M1046.2 891.3h0M1050.1 892.0h0M1054.5 892.0h0M1064.7 891.3h0M1070.9 891.4h0M1084.8 891.2h0M1093.3 891.1h0M759.4 893.0h0M781.5 892.2h0M833.8 892.2h0M835.9 892.1h0M740.7 893.4h0M763.5 893.0h0M799.8 893.3h0M801.2 893.2h0M885.1 893.4h0M955.3 893.9h0M1048.6 893.1h0M1067.6 893.4h0M1070.9 893.2h0M1070.1 894.0h0M754.6 894.7h0M804.4 894.2h0M885.1 894.4h0M918.8 894.8h0M778.8 895.4h0M827.9 895.3h0M828.3 895.7h0M856.6 895.1h0M926.6 895.4h0M1076.8 895.8h0M1082.2 895.9h0M1110.2 896.0h0M735.0 897.0h0M747.8 896.6h0M769.5 897.0h0M774.0 896.5h0M796.5 896.3h0M841.4 896.2h0M860.4 896.9h0M946.0 896.7h0M1112.0 896.8h0M1116.6 896.9h0M733.8 897.1h0M914.1 897.2h0M1048.4 898.0h0M1080.9 897.3h0M954.4 898.5h0M1017.1 898.9h0M1053.4 898.4h0M1079.7 898.2h0M1102.8 898.6h0M727.7 899.3h0M741.0 899.7h0M750.7 899.6h0M785.4 899.1h0M789.6 899.1h0M866.1 899.2h0M884.6 899.9h0M737.2 900.7h0M739.9 900.9h0M795.8 900.1h0M980.4 900.6h0M1059.2 900.8h0M752.7 901.6h0M788.4 901.2h0M1039.2 901.5h0M1059.7 901.4h0M1101.6 901.2h0M1110.7 901.4h0M763.7 902.4h0M776.1 902.5h0M922.0 902.9h0M989.8 902.3h0M1051.5 902.2h0M1070.8 902.5h0M1080.4 902.7h0M1086.5 902.2h0M1089.2 902.5h0M728.5 903.7h0M739.4 903.2h0M779.4 903.9h0M785.8 903.8h0M865.9 903.2h0M965.2 903.0h0M1051.3 903.1h0M1070.7 903.1h0M1106.0 903.9h0M1116.1 903.8h0M745.9 904.0h0M758.4 904.9h0M775.1 904.4h0M785.9 904.5h0M889.0 904.2h0M890.3 904.8h0M935.5 905.0h0M981.0 904.2h0M998.6 904.6h0M1007.9 904.4h0M1046.9 904.2h0M1080.3 904.9h0M1104.6 904.3h0M1106.4 904.3h0M757.2 905.0h0M836.6 905.7h0M890.8 905.2h0M935.2 905.5h0M1091.1 905.5h0M1097.3 905.4h0M731.0 906.8h0M755.7 906.9h0M760.1 906.1h0M778.4 906.2h0M785.7 906.3h0M794.0 906.6h0M793.5 906.2h0M797.9 906.1h0M827.0 906.3h0M923.8 906.6h0M982.1 906.2h0M996.1 906.3h0M1069.3 906.3h0M1070.7 906.9h0M1071.7 906.8h0M1086.1 906.2h0M720.2 907.2h0M735.3 907.8h0M764.3 907.1h0M801.3 907.3h0M862.6 907.4h0M910.2 907.0h0M1069.5 907.6h0M738.4 908.6h0M751.1 908.7h0M752.0 908.3h0M773.7 908.5h0M823.5 908.7h0M910.8 908.7h0M971.0 909.0h0M1041.2 908.9h0M1060.2 908.3h0M1071.4 908.7h0M1109.0 908.2h0M730.5 909.4h0M731.7 909.3h0M734.2 909.5h0M746.3 909.7h0M786.3 909.1h0M954.9 909.5h0M1044.0 910.0h0M1060.2 909.1h0M1098.3 909.3h0M729.1 910.3h0M746.5 910.4h0M776.6 910.3h0M840.4 910.1h0M860.9 910.7h0M909.8 910.3h0M971.7 910.9h0M1063.0 910.1h0M1065.8 910.5h0M1081.0 910.4h0M1098.5 910.5h0M1103.2 910.3h0M726.8 911.6h0M729.8 911.6h0M750.5 912.0h0M785.0 911.8h0M787.5 911.5h0M941.7 911.4h0M974.4 911.9h0M1044.3 911.2h0M1053.7 912.0h0M1076.2 911.1h0M1080.8 911.1h0M1085.1 911.2h0M1091.5 911.6h0M1096.6 911.7h0M1096.1 911.3h0M728.0 912.2h0M737.9 912.9h0M741.2 912.9h0M802.7 912.9h0M942.5 912.8h0M979.4 912.9h0M990.8 912.9h0M1002.6 912.2h0M1066.7 912.3h0M1072.9 912.3h0M1098.2 912.3h0M731.0 913.9h0M733.1 913.3h0M740.9 913.1h0M740.6 913.4h0M769.0 914.0h0M774.1 913.3h0M863.9 913.3h0M876.8 913.7h0M888.2 913.9h0M906.0 913.7h0M1027.2 913.1h0M1086.7 913.3h0M1093.4 913.4h0M1104.3 913.1h0M1113.2 913.2h0M738.8 914.3h0M758.7 914.8h0M775.7 914.5h0M776.3 914.5h0M798.7 914.3h0M808.0 914.5h0M901.6 914.4h0M963.3 914.6h0M1050.8 914.2h0M1107.6 914.7h0M716.7 915.5h0M720.3 915.0h0M722.3 915.3h0M747.2 915.6h0M803.8 915.7h0M806.4 915.5h0M956.7 915.8h0M1004.1 915.8h0M1007.2 915.6h0M1049.5 915.2h0M1055.7 915.8h0M729.3 916.8h0M729.7 916.9h0M739.0 916.2h0M749.8 916.8h0M760.7 916.4h0M769.6 916.7h0M775.3 916.9h0M812.2 916.2h0M837.8 916.5h0M983.3 916.4h0M1073.4 916.1h0M1096.2 917.0h0M1099.9 916.0h0M1101.9 916.2h0M714.6 918.0h0M715.3 917.1h0M751.9 917.9h0M772.2 917.7h0M782.2 917.3h0M808.5 917.5h0M973.9 917.2h0M1046.3 917.7h0M1052.4 917.7h0M1066.4 917.7h0M719.8 918.7h0M724.7 918.5h0M741.6 918.4h0M811.2 918.1h0M973.4 919.0h0M980.1 918.5h0M986.0 918.3h0M1007.0 918.3h0M1069.4 918.7h0M1099.6 918.1h0M720.9 920.0h0M725.0 919.4h0M747.8 919.3h0M760.9 919.3h0M799.9 919.2h0M810.7 919.1h0M822.5 919.9h0M822.9 919.4h0M981.8 919.8h0M988.1 919.5h0M1017.9 919.7h0M1053.2 919.9h0M1102.8 919.6h0M1110.9 919.8h0M765.4 920.1h0M790.1 920.3h0M797.8 920.2h0M813.8 920.5h0M1010.4 920.8h0M1069.4 920.5h0M1101.1 920.5h0M732.3 921.8h0M776.0 921.5h0M794.8 921.0h0M889.7 921.8h0M940.4 921.8h0M952.5 921.3h0M989.5 922.0h0M1062.2 921.4h0M1072.0 921.6h0M1081.5 921.0h0M1088.8 922.0h0M1098.5 921.5h0M1100.3 921.8h0M1107.0 921.7h0M725.2 922.4h0M731.2 922.7h0M732.8 922.1h0M735.2 922.2h0M740.1 922.1h0M771.7 922.5h0M777.5 922.6h0M949.4 922.1h0M967.1 922.3h0M983.1 922.3h0M1018.9 922.8h0M1058.8 922.8h0M1097.5 923.0h0M730.8 923.9h0M745.4 923.8h0M772.3 923.3h0M772.8 923.1h0M872.0 923.3h0M890.3 923.2h0M891.2 923.7h0M1009.2 923.5h0M1062.7 923.8h0M1098.7 923.6h0M761.8 925.0h0M782.3 924.6h0M811.7 924.5h0M812.9 924.3h0M821.9 924.9h0M960.3 924.3h0M965.8 924.9h0M1016.3 924.8h0M1063.8 924.2h0M712.5 925.2h0M718.6 925.5h0M755.2 925.5h0M793.1 925.6h0M934.8 925.2h0M940.8 925.3h0M968.0 925.4h0M980.6 925.4h0M982.5 925.4h0M1027.6 925.3h0M1059.0 925.7h0M1096.3 925.1h0M1098.1 925.1h0M726.4 926.0h0M748.5 926.0h0M771.1 926.3h0M804.1 926.7h0M925.9 926.6h0M972.6 926.1h0M1061.6 926.8h0M1080.5 926.6h0M729.5 927.1h0M734.1 927.0h0M744.1 928.0h0M809.8 927.3h0M954.6 927.1h0M1015.6 927.7h0M1092.6 927.1h0M738.2 928.2h0M754.9 929.0h0M763.8 928.2h0M775.6 928.8h0M941.1 928.5h0M951.9 928.3h0M1040.6 928.5h0M1044.1 928.3h0M1062.3 928.2h0M1064.9 928.0h0M1065.0 928.3h0M1078.1 929.0h0M1078.7 928.8h0M1093.0 928.1h0M1099.2 928.4h0M721.9 929.1h0M722.6 929.4h0M732.1 929.5h0M737.8 929.4h0M784.8 929.7h0M786.4 929.1h0M1013.6 929.4h0M1023.0 929.2h0M1026.9 929.6h0M1044.6 929.0h0M1055.0 929.3h0M1073.3 929.4h0M1084.7 929.1h0M1101.2 929.1h0M710.2 930.8h0M753.7 930.4h0M788.7 930.5h0M816.1 930.1h0M992.6 931.0h0M1029.4 930.5h0M1052.1 930.4h0M1076.6 930.9h0M1099.3 930.8h0M763.6 932.0h0M789.9 931.4h0M817.7 931.5h0M708.9 932.0h0M723.2 932.6h0M726.8 932.9h0M756.1 932.6h0M773.7 932.5h0M931.9 932.3h0M936.5 932.2h0M949.2 932.5h0M1053.9 932.7h0M1055.4 932.7h0M1072.9 932.5h0M1078.9 932.2h0M753.3 933.9h0M796.0 933.0h0M833.8 933.3h0M921.2 933.5h0M1036.4 933.5h0M1071.4 933.7h0M1093.0 934.0h0M726.2 934.6h0M726.9 934.4h0M731.8 935.0h0M750.1 934.3h0M791.9 934.2h0M802.8 934.3h0M950.2 934.1h0M954.2 934.8h0M1035.9 934.3h0M1061.9 934.4h0M1061.5 934.8h0M716.2 935.6h0M751.2 935.2h0M764.0 935.1h0M941.8 935.6h0M960.5 935.4h0M962.7 935.1h0M963.2 935.2h0M969.2 935.2h0M970.6 936.0h0M990.3 935.4h0M1006.9 935.9h0M1012.6 935.2h0M1045.0 935.9h0M1047.2 935.1h0M1052.8 935.1h0M1053.5 935.7h0M703.8 936.0h0M716.2 936.4h0M718.1 936.4h0M727.2 936.4h0M744.1 936.9h0M762.0 936.1h0M774.5 936.9h0M781.8 936.7h0M785.1 936.2h0M788.3 936.0h0M793.4 936.2h0M797.5 936.8h0M803.3 936.4h0M805.9 936.0h0M825.5 936.6h0M866.8 936.6h0M943.0 936.7h0M1050.2 936.8h0M1080.0 936.1h0M1088.8 936.9h0M1088.7 936.5h0M770.2 937.3h0M783.2 937.9h0M915.0 937.0h0M963.9 937.1h0M965.6 937.1h0M977.5 937.2h0M1027.8 937.6h0M1044.7 937.5h0M1074.7 937.4h0M706.7 939.0h0M717.1 938.4h0M732.5 938.7h0M734.2 938.9h0M759.8 938.1h0M1043.3 938.5h0M1071.8 938.4h0M1079.0 938.9h0M1092.5 938.7h0M1215.3 938.3h0M1222.8 938.2h0M705.8 939.4h0M724.9 939.4h0M731.1 940.0h0M741.6 939.7h0M744.8 939.9h0M746.9 939.8h0M754.4 939.2h0M771.7 939.0h0M789.8 939.6h0M806.4 939.0h0M929.8 939.9h0M954.4 939.9h0M967.3 940.0h0M992.4 939.4h0M1058.9 939.9h0M1094.9 940.0h0M1098.7 939.7h0M1229.0 939.1h0M708.6 940.4h0M793.7 940.6h0M794.7 941.0h0M802.7 940.5h0M1021.8 940.8h0M1216.0 941.0h0M726.6 941.1h0M728.4 941.4h0M762.0 941.7h0M784.1 941.3h0M798.8 941.6h0M913.1 941.7h0M936.0 941.5h0M966.3 941.6h0M989.9 941.6h0M1084.0 941.3h0M1086.1 941.0h0M1214.0 941.6h0M1215.0 941.2h0M1221.4 941.1h0M702.7 942.4h0M726.2 942.7h0M741.1 942.3h0M826.4 942.2h0M1001.7 942.5h0M1022.0 942.4h0M1060.3 942.9h0M1091.2 942.6h0M1235.7 942.5h0M708.5 944.0h0M711.9 943.6h0M718.7 943.4h0M732.3 943.0h0M771.6 943.2h0M785.0 943.1h0M815.3 943.8h0M940.7 943.9h0M955.3 943.5h0M966.9 943.5h0M1010.7 943.1h0M1018.8 943.4h0M1041.6 943.5h0M1065.6 943.0h0M1084.3 943.9h0M1216.7 943.9h0M704.5 944.8h0M715.1 944.8h0M724.2 944.6h0M735.5 945.0h0M756.5 944.4h0M772.5 944.5h0M773.0 944.6h0M800.5 944.0h0M802.4 944.4h0M992.8 944.4h0M993.2 944.8h0M995.6 944.6h0M1002.5 944.1h0M1017.2 944.6h0M1047.9 944.3h0M1066.3 944.5h0M1068.6 944.5h0M1076.2 944.8h0M1080.2 944.0h0M704.7 945.9h0M710.5 945.0h0M724.4 946.0h0M748.1 945.5h0M760.1 945.2h0M912.9 945.9h0M922.3 945.0h0M927.9 945.7h0M967.3 945.0h0M1021.5 945.3h0M1026.2 945.9h0M1047.7 946.0h0M1053.9 945.3h0M1077.2 945.2h0M1169.1 945.1h0M1231.5 945.5h0M1238.1 945.4h0M706.9 946.2h0M715.0 946.1h0M747.0 946.2h0M758.1 946.7h0M764.7 947.0h0M779.4 946.0h0M831.6 946.6h0M983.7 946.6h0M1037.3 946.1h0M1043.5 946.4h0M1211.1 946.7h0M1217.6 946.2h0M1240.8 946.4h0M739.4 947.2h0M768.3 947.8h0M810.8 947.3h0M815.0 947.3h0M817.7 947.3h0M922.8 947.4h0M955.4 947.0h0M1002.3 947.7h0M1040.2 947.1h0M1053.2 947.6h0M1233.9 947.0h0M704.5 948.7h0M706.4 948.3h0M725.2 948.1h0M730.3 949.0h0M737.1 948.8h0M751.5 948.4h0M786.0 948.3h0M787.9 948.1h0M795.8 948.1h0M952.2 948.0h0M1029.2 948.5h0M1029.4 948.2h0M1035.6 948.3h0M1053.2 948.9h0M1057.4 948.3h0M1085.5 948.2h0M1211.1 948.2h0M1221.5 948.6h0M1235.2 948.9h0M726.0 949.4h0M755.7 949.9h0M775.3 949.4h0M997.3 949.5h0M1039.9 949.6h0M1079.6 949.9h0M1231.3 949.4h0M1237.3 950.0h0M711.8 950.2h0M724.0 951.0h0M762.9 950.3h0M769.5 950.1h0M783.7 950.0h0M797.7 950.3h0M807.2 950.6h0M935.0 950.2h0M998.1 950.4h0M1023.3 950.5h0M1051.4 950.3h0M1068.9 950.2h0M1088.6 950.8h0M1089.0 950.8h0M1235.9 950.8h0M699.6 951.3h0M721.3 951.3h0M726.2 951.2h0M736.2 951.7h0M807.2 951.8h0M817.7 951.4h0M819.7 951.3h0M955.2 951.2h0M1000.7 951.3h0M1011.1 951.7h0M1012.2 951.1h0M1035.3 951.8h0M1076.2 951.1h0M1077.7 951.3h0M1176.9 951.7h0M710.3 952.1h0M711.1 952.8h0M723.6 952.5h0M743.7 952.3h0M933.4 952.6h0M964.3 953.0h0M1019.7 952.5h0M1020.7 952.2h0M1027.6 952.8h0M1041.6 952.2h0M1051.7 952.4h0M1056.2 952.7h0M1058.2 952.3h0M1079.6 952.3h0M1083.0 952.0h0M1086.4 952.1h0M1172.9 952.5h0M1177.9 952.8h0M1187.4 952.6h0M1216.0 952.6h0M703.1 953.7h0M741.4 953.1h0M811.3 953.3h0M952.7 953.5h0M980.5 953.9h0M1072.2 953.5h0M1085.4 953.8h0M1163.1 953.4h0M1178.2 953.3h0M1211.4 953.1h0M715.1 954.6h0M719.2 954.9h0M725.4 954.0h0M778.2 954.4h0M780.5 954.9h0M783.9 954.7h0M822.4 954.7h0M913.1 954.5h0M936.4 954.5h0M974.2 954.4h0M1014.8 954.5h0M1038.1 954.2h0M1040.3 954.6h0M1047.6 954.6h0M693.9 955.7h0M703.9 955.5h0M709.1 955.8h0M762.8 955.9h0M788.9 955.2h0M926.5 955.3h0M969.8 955.7h0M977.5 955.4h0M1046.9 956.0h0M1094.3 955.7h0M1198.9 955.2h0M1221.6 955.0h0M716.6 956.8h0M737.2 956.7h0M799.6 956.1h0M803.4 956.1h0M914.0 956.6h0M920.8 956.1h0M925.1 956.7h0M1053.9 956.4h0M1056.7 956.2h0M1162.3 956.3h0M708.4 957.0h0M734.0 957.0h0M747.8 957.2h0M777.7 957.6h0M813.3 957.7h0M904.1 957.2h0M968.6 957.7h0M989.5 957.1h0M1051.5 957.1h0M1067.9 957.0h0M1091.7 957.0h0M1161.5 958.0h0M1207.0 957.5h0M1217.5 957.9h0M698.4 958.8h0M758.6 958.3h0M772.6 958.0h0M779.7 958.1h0M780.9 958.6h0M798.9 958.9h0M915.1 958.3h0M940.6 958.0h0M943.4 958.8h0M948.1 958.5h0M954.4 958.5h0M970.0 959.0h0M983.2 958.5h0M1013.2 958.5h0M1080.8 958.3h0M1086.3 958.8h0M708.0 959.3h0M725.4 959.8h0M736.8 959.4h0M748.4 959.4h0M759.8 959.6h0M803.2 959.9h0M926.4 959.5h0M938.3 959.8h0M975.9 960.0h0M999.1 959.2h0M1006.7 959.8h0M1030.9 959.3h0M1031.7 959.1h0M1033.5 959.3h0M1051.5 959.8h0M1055.9 959.5h0M1174.1 959.3h0M1182.0 959.0h0M1188.2 959.4h0M1206.9 959.0h0M1208.3 959.3h0M696.7 960.6h0M727.9 961.0h0M736.9 960.0h0M740.6 960.7h0M749.8 960.7h0M819.3 960.6h0M1214.4 960.9h0M787.3 961.3h0M806.5 961.9h0M934.7 961.4h0M943.2 961.7h0M960.8 961.2h0M971.6 961.1h0M979.0 961.7h0M1020.5 961.3h0M1043.3 961.5h0M1044.8 961.8h0M1047.3 961.7h0M1079.9 961.4h0M1157.0 961.4h0M1164.4 961.7h0M1195.3 961.6h0M1214.5 961.2h0M1238.3 961.2h0M1239.1 961.6h0M691.0 962.2h0M694.8 962.6h0M696.5 962.6h0M704.4 962.7h0M711.5 962.6h0M725.0 962.6h0M740.2 962.3h0M749.5 962.5h0M752.6 962.8h0M761.0 963.0h0M776.7 962.6h0M817.6 962.1h0M817.3 962.9h0M818.3 962.8h0M822.4 962.8h0M928.9 962.9h0M1052.1 962.7h0M1077.7 962.5h0M1188.4 962.1h0M1191.9 962.7h0M1196.0 962.9h0M1202.0 962.0h0M1221.8 962.0h0M736.5 963.7h0M800.9 963.4h0M803.0 963.3h0M846.3 963.5h0M912.8 963.9h0M927.1 964.0h0M949.9 963.6h0M963.4 963.8h0M980.8 963.1h0M1008.1 963.9h0M1045.2 963.7h0M1077.3 963.7h0M1179.1 963.8h0M709.9 964.6h0M717.0 964.0h0M777.2 964.1h0M816.3 964.6h0M922.4 964.3h0M933.8 964.4h0M938.1 964.2h0M966.4 964.1h0M1019.1 964.1h0M1025.4 964.6h0M1035.4 964.1h0M1172.7 964.5h0M1192.6 964.5h0M1195.2 964.2h0M688.2 965.5h0M693.4 965.2h0M707.6 965.9h0M713.3 965.1h0M731.0 965.9h0M819.8 965.3h0M911.5 965.5h0M1032.0 965.1h0M1034.6 965.2h0M1043.3 966.0h0M1210.6 965.2h0M707.4 966.3h0M711.2 966.2h0M712.3 966.2h0M716.4 966.5h0M779.8 966.5h0M816.3 966.8h0M940.2 966.5h0M978.8 966.7h0M996.0 966.8h0M1038.1 966.3h0M1042.7 966.3h0M1133.7 966.8h0M1185.7 966.9h0M1194.2 966.9h0M692.9 967.2h0M714.2 967.9h0M730.6 967.5h0M749.2 967.6h0M761.1 967.4h0M789.5 967.4h0M923.7 967.4h0M952.0 967.2h0M963.0 967.7h0M1050.9 967.5h0M1198.5 967.9h0M700.2 968.6h0M707.9 969.0h0M713.5 968.1h0M732.5 968.5h0M820.0 968.0h0M820.7 969.0h0M1020.3 968.0h0M1020.7 968.5h0M1066.4 968.4h0M1084.0 968.0h0M1084.3 968.4h0M1128.7 968.1h0M1140.6 969.0h0M1173.9 968.4h0M1193.9 968.5h0M1213.1 968.6h0M1217.4 968.4h0M709.1 969.5h0M723.6 969.9h0M784.8 969.9h0M943.7 969.5h0M968.3 969.0h0M984.9 970.0h0M1048.0 969.8h0M1076.8 969.9h0M1213.8 969.2h0M704.0 970.1h0M707.5 970.9h0M707.5 970.4h0M711.2 970.8h0M720.0 970.5h0M722.3 970.5h0M739.8 970.9h0M758.9 970.9h0M761.7 970.8h0M765.9 970.8h0M780.9 970.2h0M824.8 970.7h0M990.1 970.5h0M1079.4 970.5h0M1123.7 970.6h0M1249.4 970.7h0M688.5 971.1h0M705.7 972.0h0M716.2 971.6h0M718.2 971.2h0M747.7 972.0h0M749.0 971.0h0M754.7 971.6h0M772.3 971.7h0M788.7 971.3h0M789.5 971.2h0M923.6 971.6h0M957.7 971.3h0M980.3 971.1h0M1024.2 971.3h0M1048.7 971.1h0M1076.2 971.1h0M1133.6 971.2h0M1275.4 971.4h0M695.6 972.6h0M703.9 972.2h0M721.4 972.7h0M726.5 972.1h0M770.3 972.9h0M777.1 972.6h0M788.7 972.8h0M800.7 972.7h0M957.1 972.7h0M1083.8 972.4h0M1126.4 972.6h0M1207.1 972.7h0M1266.6 972.9h0M717.6 973.9h0M724.5 973.4h0M813.6 973.6h0M816.4 974.0h0M948.0 973.8h0M1071.0 973.1h0M1122.7 973.8h0M1135.4 973.2h0M697.1 975.0h0M744.7 974.1h0M758.3 974.7h0M775.2 974.9h0M786.8 974.0h0M813.9 974.9h0M1000.8 974.4h0M1000.0 975.0h0M1013.6 974.8h0M1039.2 974.5h0M1075.5 974.8h0M1077.9 974.8h0M1079.8 974.9h0M1157.7 974.7h0M1191.9 974.4h0M1255.9 974.5h0M704.8 975.4h0M729.5 975.7h0M779.5 975.0h0M784.5 975.2h0M801.1 975.9h0M927.0 975.3h0M957.0 975.8h0M1038.4 975.7h0M1056.0 975.4h0M1080.5 975.7h0M1155.4 975.6h0M1171.1 975.4h0M1270.3 975.5h0M706.4 976.7h0M774.8 977.0h0M783.4 976.2h0M960.0 976.1h0M986.7 976.6h0M1000.9 976.7h0M1019.5 976.4h0M1020.0 976.5h0M1061.1 976.8h0M1140.5 976.4h0M1142.8 976.8h0M1170.5 976.5h0M1215.9 976.3h0M689.2 977.2h0M691.4 977.2h0M692.1 977.7h0M700.1 977.5h0M704.4 977.9h0M742.1 977.1h0M762.6 977.8h0M775.5 977.2h0M789.6 977.4h0M812.7 977.3h0M883.9 977.2h0M905.2 977.9h0M924.6 977.3h0M1046.8 978.0h0M1083.7 977.9h0M1133.6 977.2h0M1184.4 977.4h0M684.0 978.7h0M713.7 978.6h0M722.7 978.1h0M732.8 978.1h0M736.8 978.4h0M745.2 978.5h0M758.2 978.1h0M774.0 978.2h0M779.8 978.8h0M806.2 978.7h0M808.4 978.2h0M816.3 978.7h0M903.2 978.5h0M1002.6 978.0h0M1014.2 978.1h0M1054.8 978.0h0M1061.5 978.4h0M1186.7 978.1h0M1198.9 978.7h0M1214.8 978.2h0M1221.9 978.9h0M698.4 979.5h0M711.0 979.8h0M760.0 979.6h0M793.5 979.3h0M796.4 979.9h0M825.0 979.9h0M914.2 979.6h0M1009.7 979.3h0M1036.2 979.5h0M1041.0 979.7h0M1062.9 979.5h0M1064.5 979.1h0M1072.3 979.1h0M1080.2 979.8h0M1178.7 979.4h0M689.6 980.5h0M711.3 980.4h0M725.8 980.3h0M744.5 980.2h0M745.0 980.3h0M786.0 980.2h0M790.2 980.9h0M811.8 980.7h0M826.3 980.4h0M907.3 980.9h0M941.4 981.0h0M1004.8 980.3h0M1059.1 980.6h0M1079.3 980.8h0M689.2 981.4h0M689.4 981.7h0M690.4 981.4h0M694.1 981.6h0M706.3 981.2h0M722.1 981.5h0M762.2 982.0h0M805.7 981.4h0M808.2 981.2h0M904.8 981.5h0M937.1 981.6h0M949.5 981.6h0M994.6 981.9h0M1053.9 981.8h0M1060.3 981.6h0M1064.6 981.6h0M1142.6 981.7h0M1154.7 981.3h0M1154.4 981.1h0M1225.7 981.0h0M699.4 982.8h0M704.0 982.8h0M772.4 982.2h0M773.9 982.0h0M773.7 982.0h0M783.0 982.4h0M933.4 982.2h0M957.7 982.5h0M967.5 982.6h0M968.6 983.0h0M979.2 982.4h0M982.6 982.2h0M1006.7 982.5h0M1014.3 982.5h0M1039.6 982.1h0M1055.9 982.9h0M1169.0 982.7h0M798.9 983.5h0M906.9 983.7h0M961.6 984.0h0M971.8 983.3h0M1026.6 983.9h0M1042.6 983.4h0M1047.8 983.4h0M1162.5 984.0h0M1188.7 983.8h0M1205.3 983.4h0M707.5 984.2h0M710.7 985.0h0M729.9 984.0h0M736.0 984.7h0M740.5 984.8h0M798.6 984.7h0M820.4 985.0h0M972.6 984.8h0M978.1 984.1h0M982.0 984.2h0M982.5 984.9h0M1022.7 984.8h0M1157.6 984.5h0M1162.4 984.5h0M1172.2 984.4h0M1175.3 984.7h0M1210.8 984.5h0M698.7 985.9h0M702.8 985.4h0M703.1 985.3h0M724.8 986.0h0M761.9 985.4h0M807.4 985.5h0M916.3 985.9h0M991.8 985.0h0M1014.5 985.1h0M1027.6 985.7h0M1051.0 985.4h0M1056.1 985.8h0M1065.3 986.0h0M1067.9 985.3h0M1129.2 985.3h0M1141.7 985.4h0M1145.1 985.7h0M1183.3 985.4h0M1205.9 985.3h0M1209.1 985.7h0M1224.9 985.3h0M704.8 986.2h0M709.5 986.9h0M721.7 986.6h0M750.3 986.7h0M768.4 986.2h0M801.7 986.6h0M917.1 986.3h0M972.5 986.5h0M986.4 986.6h0M1005.9 986.5h0M1023.9 986.3h0M1053.7 986.8h0M1054.9 986.1h0M1063.2 986.2h0M1125.1 986.3h0M1184.4 986.5h0M1211.2 986.9h0M682.5 987.1h0M710.8 987.6h0M719.8 987.4h0M740.3 987.2h0M742.9 987.6h0M763.3 987.6h0M780.8 987.6h0M782.5 987.3h0M813.1 987.4h0M815.4 987.5h0M982.6 987.9h0M983.1 987.7h0M998.5 987.1h0M1058.7 988.0h0M1062.6 987.0h0M1069.2 987.7h0M1128.4 987.8h0M1150.3 987.7h0M1161.1 987.6h0M1177.0 987.5h0M686.1 988.8h0M724.0 988.2h0M760.3 988.8h0M803.1 988.6h0M947.7 988.8h0M948.3 988.3h0M990.6 988.0h0M1043.2 988.8h0M1050.9 988.8h0M701.0 990.0h0M702.6 989.1h0M706.6 989.2h0M707.5 989.3h0M716.0 989.1h0M717.3 989.0h0M733.6 989.5h0M738.5 989.8h0M752.2 989.1h0M763.2 990.0h0M779.6 989.8h0M786.8 990.0h0M801.9 989.9h0M818.0 989.2h0M821.3 989.4h0M840.1 989.0h0M894.5 989.6h0M1020.3 989.4h0M1033.3 989.4h0M1049.2 989.6h0M1061.6 989.9h0M1066.6 989.3h0M688.9 990.4h0M697.7 990.8h0M733.5 990.2h0M735.9 990.5h0M748.6 991.0h0M769.2 990.8h0M779.0 990.7h0M788.4 990.1h0M790.6 990.4h0M858.2 990.9h0M909.7 990.1h0M932.8 990.2h0M934.9 990.8h0M959.8 990.1h0M974.0 990.6h0M1013.9 990.2h0M1024.1 990.1h0M1068.0 990.7h0M1070.2 990.3h0M1077.7 990.4h0M1176.7 990.8h0M1188.8 990.8h0M1197.1 990.8h0M1197.4 990.7h0M1232.3 990.0h0M715.6 991.8h0M759.3 991.9h0M795.9 991.8h0M812.6 991.3h0M821.0 991.8h0M822.0 991.6h0M877.0 991.1h0M959.0 991.7h0M961.4 991.4h0M995.4 991.0h0M1075.9 991.2h0M1232.2 991.9h0M694.8 992.4h0M700.0 992.2h0M712.5 992.4h0M726.2 992.4h0M728.9 992.9h0M756.1 992.2h0M765.5 992.1h0M908.1 992.8h0M966.7 992.5h0M967.3 992.1h0M969.8 992.4h0M1000.1 992.1h0M1011.5 992.9h0M1035.5 992.4h0M1038.4 992.3h0M1079.6 992.1h0M1140.0 992.0h0M1163.0 992.6h0M1202.7 993.0h0M705.1 993.5h0M717.4 993.2h0M748.9 993.8h0M779.8 993.4h0M788.1 994.0h0M798.7 993.0h0M898.5 993.9h0M981.0 993.6h0M1002.9 993.8h0M1023.3 993.7h0M1036.7 993.4h0M1129.0 993.9h0M1158.8 993.0h0M1158.6 993.7h0M1206.3 993.1h0M691.4 994.6h0M715.3 994.2h0M721.0 994.8h0M724.8 994.5h0M768.1 994.7h0M789.6 994.2h0M885.8 994.3h0M893.5 994.2h0M962.0 995.0h0M982.3 994.7h0M982.9 994.1h0M999.6 994.6h0M1075.4 994.8h0M1076.6 994.8h0M1124.5 994.6h0M698.3 995.0h0M743.2 995.5h0M826.8 995.5h0M998.5 995.8h0M1019.0 995.4h0M1044.7 995.1h0M1051.3 995.1h0M1143.2 995.1h0M701.6 996.7h0M705.5 996.3h0M713.1 996.1h0M729.4 996.2h0M744.5 996.6h0M795.0 996.4h0M797.3 996.6h0M798.4 996.5h0M952.7 996.5h0M975.1 996.2h0M976.4 996.2h0M1014.2 996.6h0M1019.7 996.4h0M1021.1 996.2h0M1031.4 996.6h0M1044.6 996.1h0M1056.6 996.5h0M1205.6 996.9h0M682.3 997.5h0M699.7 997.7h0M702.4 997.4h0M715.1 997.1h0M742.8 997.1h0M756.9 997.9h0M786.3 997.8h0M802.1 997.0h0M809.8 997.5h0M811.7 997.6h0M967.4 997.6h0M1063.3 997.6h0M1076.5 997.1h0M1123.5 997.0h0M1181.7 997.6h0M684.9 998.4h0M698.5 998.1h0M704.6 998.1h0M704.7 998.4h0M713.9 998.6h0M717.2 998.4h0M718.0 998.1h0M771.1 998.2h0M774.6 998.3h0M780.7 998.3h0M782.8 998.8h0M793.8 998.8h0M980.7 998.2h0M1200.4 998.8h0M686.1 999.8h0M705.2 999.1h0M799.2 999.7h0M979.1 999.6h0M1006.3 999.7h0M1022.8 999.0h0M1135.0 999.0h0M1153.2 999.1h0M1176.5 999.1h0M1207.9 999.5h0M731.3 1000.0h0M738.8 1000.5h0M775.2 1000.8h0M777.8 1000.4h0M795.3 1000.3h0M817.2 1000.7h0M1005.6 1000.6h0M1042.1 1000.6h0M1070.1 1000.4h0M1141.0 1000.2h0M1141.9 1000.5h0M1172.7 1000.9h0M1187.7 1000.1h0M1196.5 1000.4h0M1209.1 1000.9h0M689.8 1001.7h0M723.7 1001.4h0M737.5 1001.5h0M772.1 1001.8h0M819.3 1001.4h0M999.6 1001.6h0M1009.8 1001.6h0M1040.3 1001.7h0M1126.6 1001.8h0M685.0 1002.9h0M692.0 1002.9h0M692.9 1002.7h0M706.0 1002.3h0M716.2 1002.9h0M721.2 1003.0h0M721.3 1002.8h0M722.5 1002.4h0M723.4 1003.0h0M745.4 1002.7h0M789.3 1002.2h0M971.1 1002.0h0M988.5 1002.5h0M1009.4 1002.9h0M1034.8 1002.7h0M1051.2 1002.5h0M1063.8 1002.7h0M684.3 1003.2h0M688.3 1003.5h0M706.3 1003.9h0M710.1 1003.2h0M728.1 1003.3h0M738.9 1003.8h0M745.0 1003.2h0M756.4 1003.1h0M757.9 1003.3h0M764.4 1003.5h0M785.2 1003.3h0M796.1 1003.6h0M982.5 1003.1h0M999.6 1003.1h0M1018.8 1003.4h0M1025.9 1004.0h0M1027.7 1003.9h0M1052.9 1003.3h0M1154.6 1003.3h0M700.7 1004.8h0M706.4 1004.1h0M713.6 1004.1h0M719.7 1004.4h0M743.8 1004.2h0M748.9 1004.6h0M768.4 1004.1h0M781.4 1004.4h0M801.3 1004.4h0M876.3 1004.6h0M880.6 1004.1h0M889.0 1004.5h0M950.7 1004.4h0M990.9 1004.4h0M1029.6 1005.0h0M1041.7 1004.9h0M1131.5 1004.5h0M687.2 1005.6h0M712.5 1005.9h0M718.4 1005.6h0M738.7 1005.5h0M759.4 1005.7h0M770.2 1005.7h0M775.5 1005.4h0M781.7 1005.9h0M796.4 1005.4h0M804.8 1005.5h0M856.1 1005.5h0M859.2 1005.7h0M879.5 1005.5h0M959.4 1005.6h0M1050.0 1005.7h0M1151.9 1005.9h0M1178.9 1005.0h0M1213.4 1005.6h0M695.8 1006.9h0M706.8 1006.7h0M710.4 1006.6h0M711.8 1006.5h0M781.8 1006.2h0M818.2 1006.5h0M819.3 1006.5h0M981.9 1006.6h0M988.1 1006.4h0M1007.5 1006.1h0M1014.0 1006.1h0M1055.8 1006.8h0M1161.1 1006.9h0M1195.1 1006.6h0M687.0 1007.9h0M701.3 1007.8h0M728.9 1007.7h0M743.9 1007.3h0M765.3 1007.6h0M766.8 1007.9h0M784.7 1007.4h0M804.6 1007.8h0M843.7 1008.0h0M897.8 1007.3h0M908.8 1007.8h0M962.3 1007.8h0M986.0 1007.5h0M1014.7 1007.2h0M1061.0 1007.6h0M1124.8 1007.7h0M1125.8 1007.7h0M1152.3 1008.0h0M1191.8 1007.6h0M721.8 1008.2h0M724.5 1008.5h0M796.5 1008.9h0M853.9 1008.7h0M886.9 1008.1h0M911.6 1008.1h0M980.2 1008.9h0M989.9 1008.8h0M994.9 1008.6h0M1003.8 1008.5h0M1059.0 1008.0h0M1063.3 1008.9h0M1133.3 1008.2h0M1143.8 1008.1h0M1180.0 1008.9h0M1184.3 1009.0h0M684.2 1009.3h0M685.9 1009.0h0M697.9 1009.5h0M700.4 1009.1h0M720.7 1009.8h0M725.7 1009.7h0M725.2 1009.3h0M732.3 1009.2h0M750.7 1009.6h0M778.9 1009.8h0M828.9 1009.8h0M868.6 1009.8h0M870.4 1009.0h0M892.1 1010.0h0M994.1 1009.2h0M1075.6 1009.3h0M1077.8 1009.9h0M1131.3 1009.1h0M1133.2 1009.8h0M1153.2 1009.6h0M1220.7 1009.5h0M695.4 1010.7h0M700.4 1010.7h0M722.6 1010.0h0M746.0 1010.9h0M746.1 1010.7h0M767.0 1010.3h0M770.2 1010.2h0M780.0 1010.8h0M817.1 1010.9h0M818.3 1011.0h0M860.9 1010.4h0M985.9 1010.4h0M988.8 1010.2h0M1003.8 1010.3h0M1005.4 1010.6h0M1006.0 1010.2h0M1019.5 1010.8h0M1036.4 1010.3h0M1074.0 1010.6h0M1099.6 1010.2h0M702.8 1012.0h0M721.5 1011.1h0M736.1 1011.8h0M747.4 1011.4h0M790.8 1011.4h0M805.4 1011.8h0M813.0 1011.1h0M826.9 1011.9h0M861.2 1011.4h0M1019.5 1011.5h0M1100.3 1011.1h0M696.3 1012.4h0M716.2 1012.3h0M738.2 1012.2h0M762.5 1012.3h0M765.4 1012.7h0M806.1 1012.6h0M824.6 1012.5h0M886.0 1012.4h0M985.6 1012.5h0M1020.9 1012.7h0M1060.7 1012.6h0M1082.9 1012.7h0M1092.3 1013.0h0M1102.6 1012.3h0M1104.4 1012.3h0M1218.3 1012.9h0M708.2 1013.6h0M982.1 1013.8h0M1001.0 1013.4h0M1011.2 1013.4h0M1014.0 1013.9h0M1015.1 1013.3h0M1032.4 1013.0h0M1040.4 1013.9h0M1042.8 1013.2h0M1058.2 1013.5h0M1065.5 1013.5h0M1091.2 1014.0h0M689.8 1014.0h0M693.1 1014.0h0M730.2 1015.0h0M738.4 1014.8h0M742.3 1014.0h0M745.8 1014.3h0M861.0 1014.7h0M976.5 1014.3h0M997.5 1014.2h0M1054.6 1014.4h0M1057.1 1014.3h0M1146.9 1014.1h0M1149.9 1015.0h0M1160.2 1014.1h0M1204.6 1014.1h0M686.5 1015.9h0M723.1 1015.1h0M729.1 1015.3h0M747.7 1015.1h0M768.5 1015.2h0M777.1 1016.0h0M803.9 1015.1h0M806.4 1015.4h0M903.4 1015.6h0M941.8 1015.8h0M1006.2 1015.9h0M1009.0 1016.0h0M1043.8 1015.4h0M1169.0 1015.9h0M1214.1 1015.1h0M687.7 1016.6h0M728.5 1016.7h0M748.4 1016.9h0M787.0 1016.9h0M793.5 1016.7h0M808.0 1016.4h0M824.2 1016.5h0M829.4 1016.8h0M849.7 1016.7h0M892.7 1016.6h0M945.8 1016.8h0M1024.9 1016.0h0M1035.9 1016.0h0M1051.2 1016.2h0M1119.1 1016.5h0M1183.8 1016.4h0M757.1 1017.7h0M794.0 1017.1h0M885.3 1017.7h0M890.6 1017.6h0M895.4 1017.7h0M933.3 1017.0h0M1007.4 1017.4h0M1069.2 1017.1h0M1140.5 1017.4h0M1167.6 1017.7h0M684.5 1018.4h0M685.1 1018.5h0M706.0 1018.5h0M728.9 1018.6h0M731.3 1018.2h0M739.1 1018.1h0M749.3 1019.0h0M760.3 1018.6h0M760.2 1018.6h0M824.9 1018.2h0M876.1 1018.3h0M884.8 1018.8h0M986.8 1019.0h0M989.8 1018.1h0M990.4 1018.8h0M1022.5 1018.6h0M1026.6 1018.9h0M1037.2 1018.4h0M1044.7 1018.8h0M1058.6 1018.8h0M1207.4 1018.4h0M690.6 1019.4h0M692.2 1019.4h0M695.3 1019.7h0M705.1 1019.5h0M711.7 1019.6h0M759.7 1019.7h0M794.6 1019.9h0M1006.5 1019.9h0M1013.4 1019.9h0M1043.2 1019.4h0M1129.2 1019.5h0M1182.7 1019.4h0M720.0 1020.7h0M721.4 1020.8h0M755.3 1021.0h0M775.7 1020.8h0M796.2 1020.8h0M862.5 1021.0h0M889.1 1020.2h0M983.1 1020.1h0M984.4 1020.6h0M991.7 1020.8h0M1025.9 1020.7h0M1040.7 1020.8h0M1157.5 1020.9h0M1183.1 1020.2h0M1208.8 1020.1h0M695.1 1021.1h0M715.0 1021.3h0M817.2 1021.1h0M822.0 1021.6h0M859.4 1021.4h0M916.5 1021.7h0M933.2 1021.8h0M957.4 1021.0h0M991.1 1021.0h0M1070.6 1021.4h0M1169.9 1021.9h0M1197.3 1021.2h0M701.1 1023.0h0M772.3 1022.4h0M774.5 1022.4h0M789.9 1022.2h0M792.3 1022.5h0M823.9 1022.2h0M904.4 1022.9h0M1173.6 1022.4h0M1195.0 1022.2h0M712.6 1024.0h0M736.5 1023.2h0M753.0 1023.5h0M775.9 1023.2h0M783.6 1023.4h0M795.9 1024.0h0M821.3 1024.0h0M825.4 1023.2h0M954.5 1023.4h0M986.9 1023.3h0M999.3 1023.3h0M1006.8 1023.6h0M1056.7 1023.2h0M1149.1 1023.6h0M1174.2 1023.1h0M1198.0 1023.4h0M698.4 1024.2h0M738.8 1024.2h0M823.4 1024.8h0M933.2 1024.3h0M1034.3 1024.9h0M1050.9 1025.0h0M1058.8 1024.3h0M681.7 1025.6h0M710.2 1025.5h0M717.1 1025.9h0M721.4 1025.8h0M810.0 1025.7h0M818.9 1025.9h0M910.1 1025.5h0M922.0 1025.9h0M1021.0 1025.6h0M1024.4 1025.1h0M1061.2 1025.5h0M1139.8 1025.2h0M1224.1 1025.1h0M694.0 1026.3h0M702.5 1026.1h0M706.9 1026.0h0M715.6 1026.3h0M724.4 1026.2h0M780.8 1026.9h0M1065.8 1026.4h0M1196.2 1026.1h0M718.5 1027.6h0M724.8 1027.3h0M736.6 1027.2h0M809.1 1027.4h0M877.9 1027.9h0M909.3 1028.0h0M935.9 1027.4h0M955.8 1027.4h0M980.4 1027.3h0M1017.8 1027.9h0M1032.6 1027.5h0M1056.1 1027.3h0M1189.7 1027.9h0M1213.9 1027.2h0M707.7 1028.1h0M745.0 1029.0h0M767.5 1028.5h0M938.3 1028.7h0M965.5 1028.6h0M999.9 1028.5h0M1047.1 1028.8h0M1198.8 1029.0h0M1207.2 1028.3h0M703.6 1029.6h0M716.6 1029.3h0M771.9 1029.3h0M812.0 1029.3h0M925.7 1029.4h0M932.3 1029.9h0M1006.9 1029.5h0M1029.4 1029.9h0M1060.2 1030.0h0M689.5 1030.2h0M699.8 1030.5h0M717.9 1030.0h0M742.8 1030.9h0M755.1 1030.4h0M816.7 1030.9h0M869.2 1030.8h0M915.8 1030.4h0M1043.2 1030.1h0M1046.2 1030.6h0M1154.3 1030.1h0M1162.4 1030.7h0M1170.2 1030.6h0M717.2 1031.1h0M719.0 1031.5h0M747.6 1031.5h0M770.5 1031.4h0M771.0 1031.7h0M784.8 1031.7h0M807.5 1031.7h0M896.1 1032.0h0M921.1 1031.7h0M949.0 1031.2h0M985.7 1031.1h0M997.3 1031.6h0M1022.4 1031.2h0M1047.7 1032.0h0M1054.2 1031.6h0M1067.9 1031.9h0M1068.2 1031.9h0M707.3 1032.1h0M759.2 1032.3h0M775.1 1032.9h0M789.0 1032.6h0M903.1 1032.5h0M939.3 1032.2h0M1065.5 1032.2h0M692.3 1033.4h0M779.1 1033.2h0M780.8 1033.9h0M799.4 1033.4h0M815.0 1033.4h0M838.1 1033.5h0M919.3 1033.6h0M924.6 1033.1h0M953.2 1034.0h0M979.6 1033.3h0M998.0 1033.7h0M1006.4 1033.7h0M1018.9 1033.0h0M1025.3 1033.6h0M1027.3 1033.8h0M1071.0 1033.9h0M1075.5 1033.4h0M1169.4 1033.2h0M1200.9 1033.4h0M692.9 1034.9h0M717.4 1034.9h0M734.4 1034.9h0M801.4 1034.5h0M852.6 1034.9h0M922.5 1034.5h0M995.2 1034.9h0M1206.3 1034.6h0M696.6 1035.2h0M713.9 1035.2h0M715.6 1035.6h0M768.3 1035.7h0M783.0 1035.6h0M789.4 1035.4h0M858.1 1035.4h0M894.2 1035.9h0M914.1 1035.5h0M983.2 1035.9h0M990.0 1035.2h0M1002.2 1035.7h0M1005.8 1035.3h0M1038.0 1035.1h0M1053.6 1035.5h0M1204.9 1035.0h0M686.1 1036.0h0M692.3 1036.4h0M713.5 1036.9h0M740.6 1036.8h0M904.0 1036.6h0M913.8 1036.2h0M922.2 1036.2h0M923.2 1036.4h0M1012.4 1036.2h0M1019.5 1036.0h0M1065.9 1036.8h0M697.1 1037.9h0M720.1 1037.8h0M726.1 1037.2h0M729.7 1037.4h0M741.2 1037.2h0M780.3 1037.1h0M787.4 1037.6h0M834.4 1037.2h0M841.8 1037.6h0M854.9 1037.0h0M940.2 1037.3h0M1015.5 1037.4h0M1063.9 1037.4h0M1174.9 1038.0h0M1184.1 1037.1h0M1212.0 1037.7h0M691.6 1038.6h0M730.2 1038.9h0M732.4 1038.5h0M769.5 1039.0h0M780.1 1038.5h0M784.7 1038.1h0M845.5 1038.4h0M985.8 1038.1h0M1031.3 1038.8h0M1041.7 1038.0h0M1050.7 1038.6h0M1066.7 1038.3h0M1169.7 1038.3h0M1193.7 1038.0h0M689.0 1039.5h0M707.3 1039.8h0M734.7 1039.3h0M767.9 1039.1h0M774.6 1039.2h0M791.0 1039.7h0M849.1 1039.5h0M1017.0 1039.5h0M1024.3 1039.4h0M1188.8 1039.7h0M1219.7 1039.3h0M684.4 1040.3h0M690.2 1040.1h0M697.3 1040.3h0M706.3 1040.1h0M709.4 1040.2h0M815.7 1040.3h0M853.5 1040.3h0M906.1 1040.7h0M933.0 1040.4h0M954.6 1040.1h0M973.9 1040.1h0M994.2 1040.4h0M1002.5 1040.7h0M1068.9 1040.4h0M1071.9 1040.7h0M1164.5 1040.3h0M1197.7 1040.5h0M1203.1 1040.3h0M759.9 1041.1h0M784.8 1041.2h0M810.2 1041.1h0M839.0 1041.4h0M922.9 1041.1h0M930.3 1041.3h0M945.2 1041.5h0M997.7 1041.5h0M1031.0 1041.2h0M1056.4 1041.6h0M1075.6 1041.4h0M1198.9 1041.1h0M689.8 1042.1h0M707.0 1042.6h0M718.5 1042.8h0M729.5 1042.4h0M788.5 1042.7h0M802.4 1042.2h0M910.6 1043.0h0M928.1 1042.3h0M958.2 1042.0h0M991.6 1042.6h0M1000.5 1042.2h0M1015.1 1042.8h0M1052.7 1042.9h0M1201.9 1042.8h0M1222.6 1042.5h0M685.5 1043.6h0M689.6 1043.4h0M699.6 1043.3h0M711.0 1043.7h0M711.2 1043.8h0M715.4 1043.7h0M719.5 1043.8h0M722.8 1044.0h0M727.9 1043.5h0M732.7 1044.0h0M734.1 1043.9h0M738.7 1043.2h0M752.7 1043.5h0M754.8 1043.5h0M758.6 1043.0h0M775.9 1043.3h0M800.7 1043.4h0M899.7 1043.9h0M900.0 1043.1h0M924.2 1044.0h0M973.5 1043.7h0M1002.5 1043.3h0M1022.9 1043.3h0M1072.9 1043.2h0M707.7 1044.6h0M747.7 1044.0h0M753.9 1044.3h0M755.2 1044.6h0M913.6 1044.2h0M914.5 1044.2h0M949.0 1044.8h0M957.8 1044.7h0M985.1 1044.6h0M992.2 1044.1h0M1001.5 1044.4h0M1008.4 1044.4h0M1017.7 1044.6h0M1071.3 1044.8h0M705.3 1045.3h0M824.7 1045.3h0M840.2 1045.3h0M845.7 1045.5h0M897.4 1045.5h0M906.7 1045.0h0M935.9 1045.9h0M942.3 1045.1h0M959.9 1045.7h0M1056.5 1045.8h0M1210.0 1045.6h0M776.9 1046.6h0M776.0 1046.4h0M861.5 1046.3h0M928.8 1046.1h0M955.4 1046.5h0M968.9 1046.1h0M1007.4 1046.0h0M1045.8 1046.7h0M1050.5 1046.0h0M1165.1 1046.6h0M703.4 1047.9h0M717.0 1048.0h0M726.3 1047.6h0M747.8 1047.8h0M783.7 1047.3h0M789.2 1047.6h0M848.9 1047.5h0M937.7 1047.9h0M984.9 1047.9h0M1065.2 1048.0h0M694.0 1048.4h0M712.0 1048.0h0M715.6 1048.7h0M716.6 1048.8h0M718.6 1048.7h0M719.2 1048.5h0M726.2 1049.0h0M774.6 1048.9h0M805.2 1048.3h0M967.2 1048.1h0M997.6 1048.6h0M1010.0 1048.2h0M1013.2 1048.7h0M1037.1 1048.9h0M1051.3 1048.7h0M1182.0 1048.7h0M1196.0 1048.4h0M689.5 1049.8h0M712.8 1049.5h0M721.1 1049.3h0M732.0 1049.9h0M893.7 1049.6h0M924.0 1049.6h0M931.4 1049.6h0M940.9 1049.5h0M941.9 1049.7h0M963.0 1049.8h0M964.2 1049.7h0M983.8 1049.2h0M1163.0 1049.4h0M1176.0 1049.1h0M1176.0 1049.7h0M1194.9 1049.4h0M698.2 1051.0h0M699.4 1050.6h0M748.0 1050.1h0M760.0 1050.8h0M780.7 1050.4h0M810.1 1050.9h0M817.3 1050.2h0M903.7 1050.6h0M952.1 1050.3h0M997.6 1050.2h0M1043.4 1050.4h0M1066.7 1050.3h0M1203.4 1050.5h0M717.3 1051.9h0M737.6 1051.5h0M759.2 1051.4h0M819.0 1051.3h0M819.4 1051.7h0M831.8 1051.2h0M853.9 1051.3h0M877.1 1051.7h0M892.1 1051.7h0M920.1 1051.6h0M935.5 1051.6h0M962.4 1051.4h0M977.9 1051.5h0M1000.8 1051.2h0M1004.5 1051.3h0M1029.2 1052.0h0M1073.4 1051.6h0M1162.4 1051.6h0M1175.7 1051.2h0M1176.6 1051.1h0M1212.9 1051.7h0M742.1 1052.0h0M745.1 1052.8h0M746.0 1052.1h0M765.3 1052.9h0M783.7 1052.4h0M819.3 1052.7h0M820.0 1052.9h0M823.4 1052.0h0M884.8 1052.5h0M891.8 1052.6h0M925.9 1052.0h0M999.0 1052.6h0M1058.7 1052.9h0M1070.7 1052.7h0M1183.5 1052.9h0M694.8 1054.0h0M711.5 1053.4h0M732.9 1053.0h0M790.8 1053.9h0M805.5 1053.3h0M808.1 1053.3h0M820.7 1053.4h0M847.7 1053.4h0M857.7 1053.4h0M862.8 1053.1h0M906.3 1053.1h0M907.9 1053.8h0M922.2 1053.3h0M927.7 1053.5h0M947.8 1053.5h0M965.8 1053.4h0M1017.7 1053.7h0M1027.3 1053.2h0M1163.2 1053.4h0M1202.0 1053.2h0M724.7 1054.1h0M762.0 1054.3h0M798.5 1054.3h0M901.8 1054.2h0M988.9 1054.2h0M1004.1 1054.6h0M1022.7 1054.2h0M1189.4 1054.9h0M1197.2 1054.7h0M708.6 1055.9h0M710.6 1055.5h0M739.5 1055.4h0M750.2 1056.0h0M768.1 1055.8h0M782.4 1055.1h0M785.7 1055.3h0M819.9 1056.0h0M850.7 1055.9h0M884.9 1055.0h0M900.0 1055.1h0M902.6 1055.6h0M906.8 1055.7h0M975.5 1055.1h0M1003.7 1055.5h0M1026.9 1055.6h0M1051.7 1055.5h0M1207.0 1055.4h0M691.7 1056.9h0M695.2 1056.5h0M724.6 1056.3h0M734.5 1056.5h0M743.0 1056.8h0M746.5 1056.0h0M819.5 1056.2h0M828.0 1056.4h0M835.9 1056.8h0M894.7 1056.2h0M923.7 1056.6h0M945.7 1056.3h0M973.4 1056.1h0M997.0 1056.8h0M1029.7 1056.6h0M1034.6 1056.9h0M1039.6 1056.4h0M1064.1 1056.0h0M1178.3 1056.4h0M1197.6 1056.5h0M716.4 1057.1h0M720.3 1057.6h0M726.8 1057.4h0M768.0 1057.8h0M770.2 1057.8h0M783.0 1057.7h0M790.7 1057.2h0M795.2 1057.4h0M848.9 1057.3h0M884.8 1057.2h0M892.4 1057.8h0M914.2 1057.3h0M953.0 1057.9h0M965.0 1057.3h0M976.9 1057.8h0M982.2 1057.3h0M998.9 1058.0h0M1008.7 1057.4h0M731.8 1058.9h0M767.4 1058.4h0M790.6 1058.2h0M801.9 1058.0h0M897.0 1058.7h0M899.3 1058.4h0M914.5 1058.4h0M948.1 1059.0h0M952.1 1058.8h0M967.8 1058.5h0M989.4 1058.8h0M1005.1 1058.6h0M1036.0 1058.9h0M1041.7 1058.6h0M1065.9 1058.5h0M1186.5 1058.8h0M1195.6 1059.0h0M1201.4 1058.9h0M692.0 1059.9h0M704.9 1059.1h0M728.9 1059.3h0M730.8 1060.0h0M733.9 1059.9h0M736.3 1059.2h0M744.4 1059.3h0M822.3 1059.4h0M853.1 1059.9h0M891.8 1059.2h0M937.5 1059.5h0M1027.0 1059.4h0M1059.9 1059.7h0M1165.9 1059.5h0M711.6 1060.0h0M715.2 1060.3h0M765.2 1060.3h0M775.3 1060.6h0M776.2 1060.9h0M893.9 1061.0h0M930.4 1060.3h0M960.6 1060.5h0M961.0 1060.1h0M969.4 1060.3h0M1003.3 1060.6h0M1008.2 1060.5h0M1041.1 1060.7h0M729.2 1061.2h0M741.8 1061.0h0M757.0 1061.1h0M794.4 1061.9h0M795.6 1061.8h0M834.9 1061.5h0M934.4 1061.0h0M942.9 1061.2h0M961.9 1061.9h0M968.9 1061.5h0M980.2 1062.0h0M982.4 1061.6h0M707.8 1062.1h0M709.6 1062.3h0M720.6 1062.2h0M741.3 1062.1h0M755.8 1062.2h0M806.9 1062.4h0M855.1 1062.5h0M885.0 1062.2h0M900.0 1062.1h0M906.6 1062.8h0M906.5 1062.9h0M962.0 1062.5h0M1020.2 1062.8h0M1041.7 1062.6h0M1162.3 1063.0h0M1188.6 1062.6h0M716.9 1063.6h0M726.5 1063.4h0M729.4 1064.0h0M754.1 1063.4h0M778.9 1063.1h0M915.0 1063.1h0M915.0 1063.7h0M943.8 1063.2h0M1000.7 1063.8h0M1031.0 1063.9h0M1032.3 1063.5h0M1052.0 1063.2h0M819.6 1064.6h0M825.0 1064.6h0M841.5 1064.1h0M908.6 1064.1h0M914.0 1064.3h0M916.5 1064.6h0M930.3 1064.8h0M995.4 1064.9h0M1047.5 1064.4h0M693.3 1065.1h0M697.0 1065.6h0M867.0 1065.3h0M938.0 1065.8h0M988.1 1065.8h0M1003.6 1065.6h0M722.3 1066.2h0M735.2 1066.8h0M785.7 1066.8h0M860.4 1066.3h0M881.3 1066.2h0M895.8 1066.9h0M959.3 1066.2h0M988.8 1066.8h0M703.7 1067.9h0M730.4 1067.8h0M732.4 1067.0h0M771.8 1067.0h0M834.5 1067.9h0M879.9 1067.8h0M1011.3 1067.6h0M1032.5 1067.3h0M1053.4 1067.5h0M1057.2 1067.1h0M1162.1 1067.2h0M1190.3 1067.5h0M701.4 1068.4h0M706.9 1068.5h0M718.2 1068.5h0M742.9 1068.5h0M742.1 1068.5h0M765.4 1068.1h0M779.0 1068.6h0M790.7 1068.1h0M924.5 1068.7h0M960.3 1068.1h0M988.8 1068.0h0M1002.8 1068.9h0M1041.5 1068.6h0M1053.5 1068.7h0M723.2 1069.4h0M810.9 1069.1h0M825.3 1069.8h0M830.8 1069.6h0M839.3 1069.2h0M893.6 1069.6h0M967.3 1069.9h0M993.3 1069.3h0M1009.3 1069.6h0M1021.8 1069.9h0M1057.0 1070.0h0M1060.4 1069.6h0M1062.9 1069.3h0M693.2 1070.4h0M727.0 1070.6h0M730.3 1070.4h0M751.8 1070.0h0M785.9 1070.6h0M799.3 1071.0h0M811.3 1070.1h0M904.6 1070.9h0M918.6 1070.3h0M1049.9 1070.3h0M1052.9 1070.4h0M1194.8 1070.8h0M693.4 1071.5h0M714.9 1071.8h0M758.0 1071.7h0M773.8 1071.9h0M795.6 1071.4h0M809.8 1071.6h0M821.7 1071.0h0M827.4 1071.2h0M899.6 1071.6h0M905.4 1071.2h0M950.4 1072.0h0M975.1 1071.4h0M979.7 1071.2h0M988.4 1071.5h0M1000.7 1071.5h0M1015.8 1071.1h0M1021.8 1071.9h0M1028.8 1072.0h0M1059.7 1072.0h0M703.6 1072.1h0M703.3 1072.0h0M709.6 1072.9h0M713.8 1072.3h0M763.5 1072.1h0M768.8 1072.6h0M771.2 1072.2h0M783.3 1072.6h0M881.7 1072.8h0M905.8 1072.7h0M964.8 1072.5h0M996.8 1072.9h0M1055.3 1072.6h0M1160.1 1073.0h0M717.7 1073.4h0M746.5 1073.2h0M747.8 1073.9h0M759.2 1073.2h0M786.7 1073.9h0M804.9 1073.3h0M815.0 1074.0h0M846.3 1073.5h0M893.8 1073.1h0M906.8 1073.6h0M923.7 1073.3h0M929.2 1073.6h0M976.3 1073.7h0M979.2 1074.0h0M993.8 1074.0h0M1013.0 1073.7h0M1014.2 1073.2h0M1184.2 1073.5h0M1188.0 1074.0h0M718.4 1074.5h0M726.8 1074.3h0M729.2 1074.8h0M743.0 1074.7h0M748.9 1074.7h0M766.5 1074.9h0M770.0 1074.0h0M875.9 1074.1h0M918.0 1074.3h0M923.6 1074.9h0M1163.5 1074.7h0M701.1 1075.3h0M705.5 1075.9h0M710.8 1075.5h0M712.8 1075.8h0M719.8 1075.8h0M760.2 1075.6h0M780.5 1075.0h0M786.2 1075.9h0M791.5 1075.4h0M862.2 1075.8h0M894.3 1075.8h0M909.1 1075.6h0M911.5 1075.9h0M930.7 1075.3h0M940.7 1075.1h0M967.5 1075.4h0M974.9 1075.5h0M1043.7 1075.4h0M1156.2 1075.4h0M695.4 1076.2h0M725.4 1076.9h0M726.0 1077.0h0M727.3 1076.6h0M731.6 1076.3h0M733.2 1076.0h0M745.6 1076.2h0M785.6 1076.2h0M897.2 1077.0h0M911.2 1076.3h0M975.4 1076.8h0M1016.6 1076.6h0M1156.6 1076.1h0M709.6 1077.0h0M717.8 1077.4h0M724.9 1077.4h0M769.1 1077.7h0M774.9 1077.4h0M798.8 1077.7h0M810.3 1077.8h0M906.9 1077.5h0M985.1 1077.0h0M989.8 1077.6h0M992.5 1077.6h0M1161.8 1077.1h0M742.3 1078.6h0M794.1 1078.6h0M815.0 1078.0h0M838.9 1078.8h0M844.6 1078.7h0M855.9 1078.6h0M875.4 1078.5h0M903.2 1078.1h0M994.6 1078.1h0M1004.2 1078.2h0M1168.9 1078.9h0M708.5 1079.3h0M718.2 1079.6h0M724.6 1079.6h0M754.3 1079.7h0M782.3 1079.2h0M802.7 1079.7h0M802.3 1079.4h0M805.3 1079.0h0M805.8 1079.9h0M936.5 1079.6h0M972.0 1079.1h0M1031.4 1079.4h0M696.9 1080.2h0M700.3 1080.4h0M712.1 1080.2h0M789.0 1081.0h0M825.7 1080.8h0M864.0 1080.0h0M927.3 1080.0h0M947.8 1080.4h0M976.1 1080.3h0M1003.3 1080.4h0M1053.9 1081.0h0M695.7 1081.2h0M705.7 1081.9h0M709.6 1081.4h0M749.1 1081.7h0M787.9 1081.0h0M789.7 1081.6h0M805.6 1082.0h0M888.7 1081.3h0M903.4 1081.4h0M923.5 1081.8h0M962.7 1082.0h0M1018.6 1082.0h0M1039.1 1081.8h0M1055.0 1081.8h0M1151.1 1081.6h0M733.3 1082.5h0M756.7 1082.7h0M789.5 1082.0h0M804.9 1082.3h0M912.9 1082.8h0M969.7 1082.1h0M1029.0 1082.5h0M1190.0 1082.8h0M749.6 1083.5h0M770.7 1083.6h0M772.1 1083.8h0M881.6 1083.1h0M897.8 1083.4h0M927.7 1083.2h0M928.5 1083.8h0M943.3 1083.8h0M715.4 1084.1h0M718.7 1084.9h0M722.7 1084.5h0M741.8 1084.9h0M766.6 1084.4h0M781.2 1084.1h0M787.0 1084.7h0M799.7 1084.9h0M806.4 1084.9h0M872.3 1084.5h0M898.2 1084.8h0M939.6 1084.1h0M990.4 1084.6h0M1017.6 1084.5h0M1023.2 1084.1h0M1037.2 1084.3h0M1044.8 1084.2h0M712.2 1085.4h0M715.4 1085.5h0M716.5 1085.8h0M720.2 1085.7h0M752.5 1085.3h0M782.2 1086.0h0M840.1 1085.3h0M844.0 1085.9h0M903.8 1085.1h0M919.9 1085.7h0M936.8 1085.6h0M1001.1 1085.5h0M1030.8 1085.8h0M1176.7 1085.2h0M698.7 1086.3h0M715.1 1086.5h0M726.4 1086.9h0M750.6 1086.2h0M763.6 1086.4h0M770.7 1086.3h0M774.9 1086.3h0M779.2 1086.7h0M816.9 1086.9h0M894.2 1086.8h0M926.6 1087.0h0M1005.4 1086.3h0M1014.6 1086.8h0M1167.9 1086.6h0M1181.0 1086.6h0M704.0 1087.7h0M711.6 1087.7h0M833.0 1087.6h0M858.3 1087.4h0M880.7 1088.0h0M889.6 1087.4h0M911.8 1087.0h0M923.7 1087.7h0M974.7 1087.1h0M1020.7 1087.8h0M1025.8 1087.1h0M1179.5 1087.5h0M722.2 1088.1h0M740.1 1088.7h0M742.5 1088.6h0M769.4 1088.2h0M819.3 1088.9h0M829.9 1088.2h0M891.0 1088.9h0M914.1 1088.9h0M942.2 1088.7h0M951.5 1088.2h0M976.1 1088.8h0M996.3 1088.3h0M999.8 1088.3h0M1005.1 1088.1h0M1034.6 1088.3h0M695.8 1090.0h0M718.7 1089.7h0M722.0 1089.5h0M732.3 1089.4h0M735.7 1089.3h0M736.5 1089.2h0M743.2 1089.5h0M806.7 1089.9h0M887.2 1089.5h0M1002.3 1089.8h0M1028.0 1089.4h0M1042.4 1089.4h0M1055.8 1089.7h0M1184.3 1089.9h0M702.2 1090.6h0M702.2 1090.9h0M718.7 1090.3h0M720.3 1090.4h0M736.6 1090.9h0M742.2 1090.6h0M769.3 1090.3h0M789.7 1090.6h0M883.3 1090.0h0M916.3 1090.3h0M962.2 1090.3h0M1006.0 1090.2h0M1009.3 1090.5h0M1025.9 1090.1h0M725.3 1091.9h0M730.6 1091.5h0M747.1 1091.1h0M787.7 1091.6h0M845.6 1091.5h0M848.3 1091.7h0M888.8 1091.8h0M909.8 1091.3h0M913.0 1091.1h0M984.4 1091.2h0M993.5 1091.5h0M998.9 1091.9h0M1003.3 1091.8h0M1140.3 1091.4h0M1147.9 1091.5h0M737.1 1092.3h0M756.5 1092.6h0M849.3 1092.6h0M915.0 1092.7h0M935.6 1092.5h0M969.5 1092.4h0M998.9 1092.3h0M1044.2 1093.0h0M723.1 1093.1h0M727.7 1093.1h0M733.0 1093.3h0M753.7 1093.1h0M822.7 1093.2h0M898.9 1093.2h0M899.5 1094.0h0M970.2 1093.7h0M977.9 1093.9h0M985.7 1093.9h0M1033.5 1093.1h0M1040.1 1093.5h0M724.0 1094.3h0M736.2 1094.3h0M778.7 1094.9h0M780.1 1094.5h0M784.2 1094.5h0M826.5 1094.5h0M907.1 1094.8h0M967.3 1094.2h0M994.4 1094.9h0M1044.1 1095.0h0M1122.1 1094.7h0M723.3 1095.8h0M732.5 1095.6h0M909.5 1095.8h0M958.9 1095.4h0M988.4 1095.9h0M988.6 1095.4h0M1005.9 1095.1h0M1022.6 1095.3h0M1046.9 1095.1h0M750.7 1096.2h0M784.3 1096.4h0M788.2 1096.7h0M799.7 1096.6h0M824.8 1096.7h0M894.1 1096.5h0M897.7 1096.6h0M963.4 1096.7h0M973.8 1096.5h0M974.9 1096.4h0M1012.4 1096.9h0M1016.2 1096.7h0M1029.1 1096.9h0M1040.7 1096.8h0M1041.8 1096.7h0M1043.3 1096.3h0M1126.4 1096.1h0M1147.7 1097.0h0M746.7 1098.0h0M746.9 1097.1h0M760.8 1097.7h0M774.9 1097.8h0M782.4 1097.4h0M922.9 1098.0h0M1115.8 1097.2h0M749.1 1098.2h0M752.0 1098.4h0M794.7 1098.3h0M800.2 1098.3h0M807.5 1098.8h0M820.9 1098.1h0M837.3 1098.8h0M848.0 1098.9h0M856.2 1098.0h0M886.1 1099.0h0M903.7 1098.0h0M945.7 1098.7h0M955.0 1098.6h0M976.4 1098.6h0M977.3 1098.6h0M988.0 1098.1h0M1113.7 1098.0h0M1136.3 1098.1h0M1150.5 1098.7h0M727.6 1099.7h0M755.6 1099.9h0M770.7 1099.1h0M814.0 1099.7h0M825.1 1099.6h0M827.0 1099.6h0M869.5 1099.1h0M914.5 1099.7h0M928.3 1100.0h0M984.3 1099.8h0M1050.2 1099.3h0M704.0 1100.8h0M718.0 1101.0h0M731.8 1100.6h0M738.0 1100.5h0M764.6 1100.9h0M767.4 1100.8h0M789.8 1100.8h0M799.5 1100.1h0M809.1 1100.5h0M814.8 1100.3h0M929.6 1100.3h0M981.7 1100.3h0M987.8 1100.6h0M1030.4 1100.3h0M1034.3 1100.3h0M1051.0 1100.5h0M1153.4 1100.2h0M721.6 1102.0h0M731.3 1101.8h0M774.2 1101.5h0M783.2 1101.3h0M826.6 1101.4h0M883.6 1101.3h0M917.7 1101.1h0M1025.0 1101.1h0M1036.6 1101.8h0M715.4 1102.1h0M721.1 1102.4h0M771.9 1102.3h0M779.6 1102.7h0M803.2 1102.6h0M807.1 1102.2h0M834.2 1102.8h0M872.3 1102.1h0M883.3 1102.9h0M917.9 1102.8h0M923.3 1102.9h0M966.3 1102.6h0M1012.1 1102.9h0M1152.8 1103.0h0M737.5 1103.8h0M776.0 1103.8h0M885.2 1103.1h0M926.1 1103.4h0M970.9 1103.2h0M994.0 1103.7h0M1118.6 1103.8h0M705.7 1104.1h0M768.5 1104.3h0M837.5 1104.9h0M855.1 1104.4h0M888.8 1104.3h0M891.1 1104.4h0M945.0 1104.8h0M958.8 1104.5h0M998.4 1104.3h0M1154.4 1104.3h0M722.3 1105.5h0M796.1 1105.6h0M807.5 1105.3h0M813.2 1105.9h0M870.0 1105.2h0M882.9 1105.2h0M896.3 1105.4h0M938.2 1105.9h0M983.1 1105.7h0M1001.6 1105.0h0M1026.2 1105.5h0M734.6 1106.5h0M751.8 1106.9h0M813.9 1106.5h0M871.0 1106.5h0M888.9 1106.5h0M919.3 1106.5h0M972.8 1106.3h0M995.9 1106.3h0M1005.0 1106.0h0M1118.6 1107.0h0M787.4 1107.6h0M791.7 1108.0h0M793.7 1107.3h0M863.7 1107.4h0M874.1 1107.8h0M975.9 1107.1h0M979.9 1107.9h0M1006.2 1107.5h0M1115.5 1108.0h0M1140.8 1108.0h0M742.3 1108.2h0M749.8 1108.2h0M761.0 1108.6h0M776.6 1108.7h0M789.3 1109.0h0M864.2 1108.2h0M893.8 1108.0h0M902.3 1108.4h0M963.1 1108.8h0M1022.1 1108.3h0M1042.0 1108.5h0M714.8 1109.8h0M720.5 1109.8h0M724.3 1109.3h0M754.5 1110.0h0M754.6 1109.4h0M776.4 1109.1h0M800.6 1109.5h0M805.0 1109.5h0M819.9 1109.1h0M861.3 1109.6h0M867.8 1109.5h0M906.3 1109.7h0M913.9 1109.2h0M968.6 1109.0h0M991.9 1109.7h0M1033.7 1110.0h0M1128.4 1109.1h0M759.8 1110.7h0M778.6 1110.4h0M790.6 1110.9h0M802.3 1110.0h0M876.6 1110.8h0M910.1 1110.3h0M959.8 1110.9h0M959.9 1110.6h0M998.1 1110.5h0M1000.9 1111.0h0M1001.7 1110.5h0M1039.0 1110.9h0M733.1 1111.7h0M755.1 1111.1h0M771.5 1111.4h0M773.6 1111.7h0M917.9 1111.2h0M928.8 1111.3h0M930.5 1111.2h0M960.9 1111.4h0M989.0 1111.8h0M997.7 1111.8h0M1028.5 1111.1h0M756.6 1112.3h0M773.5 1112.7h0M777.0 1112.2h0M881.2 1112.6h0M894.6 1112.9h0M902.3 1112.9h0M928.5 1112.8h0M934.6 1112.2h0M947.8 1112.6h0M998.0 1112.9h0M1002.2 1112.4h0M1006.8 1112.6h0M770.0 1113.8h0M772.2 1113.5h0M795.6 1113.3h0M797.8 1113.5h0M934.2 1113.5h0M953.9 1113.0h0M1001.0 1113.3h0M1016.2 1113.6h0M1020.0 1113.3h0M1046.7 1113.4h0M1119.6 1113.9h0M778.0 1114.8h0M792.9 1114.6h0M886.5 1114.0h0M892.6 1114.3h0M920.6 1114.8h0M1005.8 1114.7h0M1121.7 1114.7h0M781.6 1115.6h0M988.2 1115.4h0M1010.1 1115.6h0M1022.8 1115.3h0M1029.2 1115.2h0M740.0 1116.4h0M752.9 1116.4h0M755.2 1116.4h0M792.7 1116.4h0M864.9 1116.2h0M867.2 1116.1h0M929.6 1116.7h0M973.1 1116.8h0M1010.3 1116.9h0M752.8 1117.9h0M801.1 1117.8h0M806.8 1117.6h0M877.0 1117.1h0M878.6 1117.9h0M895.2 1117.0h0M938.1 1117.4h0M959.7 1117.2h0M1021.7 1117.4h0M759.4 1118.5h0M831.4 1118.1h0M966.8 1119.0h0M1038.0 1118.8h0M1122.5 1118.5h0M760.9 1119.5h0M769.4 1119.5h0M780.5 1119.5h0M938.8 1119.2h0M970.3 1119.5h0M1044.9 1119.3h0M766.7 1120.9h0M779.4 1120.3h0M912.9 1120.9h0M988.9 1120.9h0M800.5 1121.7h0M804.9 1121.5h0M866.8 1121.1h0M869.1 1121.1h0M878.4 1121.7h0M895.7 1121.7h0M901.8 1121.6h0M907.6 1121.6h0M1021.6 1121.1h0M1035.7 1121.2h0M803.0 1122.4h0M891.6 1122.4h0M918.5 1122.7h0M964.2 1122.5h0M967.0 1122.2h0M972.1 1122.1h0M999.0 1122.3h0M1026.8 1122.7h0M1032.9 1122.9h0M1125.1 1122.5h0M854.4 1123.0h0M899.8 1123.2h0M946.5 1123.9h0M971.8 1123.2h0M978.9 1123.0h0M979.5 1123.8h0M1040.4 1123.2h0M1122.5 1123.1h0M950.1 1124.5h0M999.6 1124.0h0M1008.3 1124.2h0M876.0 1125.8h0M877.3 1125.1h0M877.6 1125.3h0M884.4 1125.2h0M904.1 1125.5h0M946.7 1125.8h0M950.6 1125.2h0M977.8 1125.2h0M1012.1 1125.5h0M1013.2 1125.2h0M1035.7 1125.2h0M821.1 1126.9h0M878.3 1126.6h0M898.9 1126.1h0M919.4 1126.7h0M935.2 1126.8h0M942.6 1126.5h0M949.7 1126.6h0M950.2 1126.1h0M958.0 1126.6h0M960.8 1126.1h0M809.6 1127.1h0M859.1 1127.5h0M904.1 1127.2h0M913.3 1127.4h0M932.4 1127.5h0M944.6 1128.0h0M1055.4 1127.4h0M863.7 1128.2h0M865.3 1128.8h0M868.5 1129.0h0M945.2 1128.1h0M960.2 1128.3h0M1033.6 1128.2h0M1034.7 1128.9h0M1052.4 1128.1h0M1125.2 1128.5h0M854.0 1129.5h0M896.5 1129.6h0M908.4 1129.4h0M1019.4 1129.5h0M1122.3 1129.2h0M839.2 1130.9h0M866.4 1130.9h0M884.3 1130.0h0M890.3 1130.0h0M896.2 1130.8h0M926.7 1130.2h0M937.7 1130.7h0M951.2 1130.7h0M965.7 1130.6h0M987.2 1131.0h0M989.3 1130.5h0M1028.3 1130.7h0M1048.4 1130.0h0M1048.1 1130.6h0M846.2 1131.6h0M856.5 1131.3h0M931.3 1131.7h0M1041.8 1131.4h0M1044.6 1131.0h0M814.5 1133.0h0M863.5 1132.5h0M893.3 1132.2h0M901.9 1132.8h0M906.7 1132.3h0M945.5 1132.8h0M975.4 1132.7h0M1004.8 1132.0h0M829.7 1133.1h0M902.8 1133.9h0M952.2 1133.7h0M972.8 1133.2h0M1003.1 1133.1h0M866.2 1134.9h0M891.8 1134.9h0M912.6 1134.3h0M930.5 1134.0h0M1020.4 1134.4h0M1044.3 1134.0h0M1051.1 1134.2h0M825.6 1135.2h0M855.5 1135.3h0M861.8 1135.9h0M908.8 1135.5h0M948.1 1135.2h0M952.8 1135.9h0M1006.2 1135.9h0M1051.9 1136.0h0M835.7 1136.7h0M868.6 1136.9h0M889.6 1136.5h0M902.0 1136.8h0M912.3 1136.3h0M931.4 1136.1h0M826.6 1137.6h0M836.5 1137.6h0M839.4 1137.0h0M870.3 1137.9h0M1000.0 1137.2h0M1003.7 1138.0h0M1037.9 1137.9h0M1044.5 1137.7h0M830.2 1139.0h0M838.4 1138.9h0M848.6 1138.6h0M864.5 1138.8h0M873.2 1138.7h0M887.0 1138.3h0M889.6 1138.2h0M905.0 1138.3h0M958.7 1138.3h0M960.7 1138.9h0M960.6 1138.2h0M1020.5 1138.6h0M821.7 1139.2h0M828.3 1139.8h0M860.3 1139.5h0M894.6 1139.3h0M930.6 1139.8h0M1101.1 1139.9h0M815.4 1140.2h0M829.6 1140.8h0M846.1 1140.3h0M878.8 1140.1h0M899.4 1140.6h0M941.0 1140.2h0M946.2 1140.2h0M948.3 1140.5h0M962.5 1141.0h0M829.0 1141.2h0M835.8 1141.5h0M841.2 1141.8h0M858.7 1141.2h0M934.3 1141.4h0M949.9 1141.2h0M1089.9 1141.1h0M814.2 1142.8h0M821.6 1142.3h0M905.5 1142.8h0M1027.5 1142.0h0M1031.6 1142.9h0M1034.4 1142.2h0M818.9 1143.7h0M822.6 1143.7h0M834.9 1143.6h0M895.0 1143.8h0M897.1 1143.9h0M959.9 1143.7h0M963.6 1143.6h0M974.3 1143.0h0M974.6 1143.3h0M836.0 1144.0h0M836.5 1144.6h0M851.1 1145.0h0M885.2 1144.9h0M968.2 1144.5h0M975.1 1144.5h0M1010.6 1144.4h0M1033.3 1144.6h0M820.9 1146.0h0M834.0 1145.5h0M847.3 1145.6h0M883.0 1145.8h0M960.5 1145.9h0M818.6 1146.3h0M835.0 1146.7h0M868.9 1146.7h0M940.8 1146.8h0M952.0 1146.7h0M960.2 1146.3h0M980.9 1146.6h0M1022.2 1146.1h0M854.9 1147.8h0M905.3 1147.1h0M922.8 1147.2h0M935.1 1147.4h0M996.8 1147.3h0M1010.9 1147.4h0M1032.9 1147.0h0M826.6 1148.4h0M841.3 1148.8h0M900.2 1148.3h0M901.9 1148.4h0M915.0 1148.2h0M935.8 1148.6h0M975.1 1148.6h0M980.8 1148.4h0M981.8 1148.2h0M1011.5 1148.5h0M1041.5 1148.3h0M1089.9 1148.0h0M817.4 1150.0h0M838.2 1149.5h0M976.6 1149.9h0M1082.6 1149.1h0M820.6 1150.8h0M832.5 1150.9h0M833.8 1150.3h0M837.4 1151.0h0M839.0 1150.1h0M866.9 1150.9h0M869.2 1150.1h0M874.4 1150.6h0M946.1 1150.8h0M973.6 1150.3h0M990.1 1150.8h0M1008.8 1150.1h0M1021.7 1150.8h0M1094.4 1150.5h0M822.2 1151.2h0M883.7 1151.8h0M899.1 1151.4h0M917.3 1151.0h0M958.9 1151.6h0M971.2 1151.5h0M982.8 1151.4h0M985.8 1151.8h0M995.1 1151.1h0M1001.5 1151.6h0M1016.8 1151.3h0M827.6 1152.3h0M868.3 1152.1h0M902.1 1152.6h0M916.9 1152.5h0M941.9 1152.5h0M941.2 1152.3h0M963.8 1152.6h0M1008.3 1152.9h0M823.0 1153.1h0M825.7 1153.3h0M836.4 1153.2h0M843.7 1153.2h0M857.8 1153.4h0M927.2 1153.5h0M944.9 1153.1h0M1056.5 1153.3h0M816.8 1154.9h0M821.6 1155.0h0M828.5 1154.1h0M844.3 1154.0h0M869.6 1154.4h0M913.2 1154.7h0M927.0 1154.4h0M935.3 1154.6h0M981.0 1154.3h0M815.0 1156.0h0M841.5 1155.9h0M894.7 1155.1h0M922.4 1155.3h0M945.1 1155.9h0M969.4 1155.6h0M974.2 1155.6h0M821.7 1156.6h0M833.1 1156.0h0M872.4 1156.8h0M873.9 1156.1h0M877.5 1156.0h0M918.7 1156.8h0M957.0 1156.9h0M1029.6 1156.6h0M833.5 1157.1h0M834.8 1157.8h0M870.2 1157.4h0M936.1 1157.3h0M961.1 1157.1h0M983.9 1157.5h0M1034.6 1157.1h0M825.8 1158.8h0M839.5 1158.5h0M840.4 1158.3h0M842.2 1158.4h0M866.4 1158.6h0M919.1 1158.8h0M940.8 1158.6h0M940.9 1159.0h0M985.2 1158.7h0M1023.5 1158.3h0M1040.7 1158.7h0M1048.1 1158.4h0M817.5 1159.2h0M827.2 1159.2h0M829.4 1159.1h0M831.6 1159.9h0M833.3 1159.3h0M843.8 1159.7h0M854.7 1159.8h0M905.2 1159.6h0M940.0 1159.0h0M1018.9 1159.6h0M1038.3 1159.1h0M1053.8 1159.7h0M846.9 1160.4h0M862.9 1160.1h0M908.3 1160.5h0M953.9 1160.0h0M976.8 1161.0h0M849.0 1161.8h0M871.2 1162.0h0M907.6 1161.9h0M913.4 1161.1h0M987.6 1161.7h0M1072.2 1162.0h0M838.3 1162.1h0M860.0 1162.8h0M887.6 1162.9h0M980.1 1162.4h0M992.9 1162.4h0M998.7 1162.5h0M1035.6 1162.8h0M1043.7 1162.7h0M830.7 1163.9h0M837.7 1163.9h0M839.8 1163.8h0M854.1 1163.3h0M892.9 1164.0h0M918.7 1163.1h0M923.2 1163.8h0M1011.8 1163.4h0M865.6 1164.3h0M897.7 1164.2h0M909.6 1164.8h0M939.9 1164.1h0M966.9 1164.2h0M987.0 1164.6h0M1018.2 1164.5h0M1033.3 1164.1h0M1043.7 1165.0h0M873.0 1165.2h0M912.4 1165.2h0M943.1 1165.7h0M972.9 1166.0h0M1008.6 1165.6h0M866.7 1166.0h0M884.5 1166.3h0M947.2 1167.0h0M964.0 1166.6h0M970.5 1166.0h0M1063.4 1166.8h0M841.2 1168.0h0M916.6 1167.3h0M926.0 1167.8h0M961.3 1167.8h0M1009.7 1167.1h0M1022.5 1167.3h0M1028.2 1167.5h0M859.0 1168.7h0M983.5 1168.9h0M907.4 1169.1h0M948.5 1169.7h0M987.1 1169.4h0M993.1 1169.5h0M995.1 1170.0h0M1053.7 1169.7h0M1064.8 1169.0h0M882.0 1170.0h0M972.6 1170.4h0M982.1 1170.1h0M984.1 1170.4h0M853.4 1171.0h0M860.7 1171.5h0M878.3 1171.6h0M879.1 1171.9h0M880.3 1171.0h0M951.9 1171.1h0M989.4 1171.6h0M992.1 1171.8h0M906.8 1172.4h0M908.8 1172.7h0M920.2 1172.2h0M941.6 1172.3h0M953.6 1172.6h0M964.8 1172.7h0M988.3 1173.0h0M1027.2 1172.1h0M1061.1 1172.4h0M900.0 1173.4h0M905.5 1173.3h0M908.8 1173.5h0M919.2 1173.0h0M926.7 1173.7h0M962.1 1173.0h0M963.9 1173.4h0M972.6 1173.9h0M1010.9 1173.6h0M1050.9 1173.8h0M1059.0 1173.4h0M876.7 1174.1h0M899.9 1174.7h0M911.0 1175.0h0M913.7 1174.5h0M962.5 1174.7h0M973.5 1174.7h0M985.2 1174.2h0M1008.8 1174.3h0M1012.7 1174.9h0M1043.4 1174.7h0M1051.2 1174.6h0M859.0 1176.0h0M898.3 1175.7h0M922.7 1175.2h0M949.6 1175.2h0M1058.1 1175.8h0M849.6 1176.5h0M882.9 1176.5h0M889.6 1176.2h0M934.7 1176.7h0M963.4 1176.7h0M968.6 1176.5h0M994.5 1176.1h0M1007.3 1176.7h0M1045.7 1176.2h0M1071.9 1176.7h0M872.1 1177.2h0M927.5 1177.4h0M929.7 1177.3h0M959.8 1177.6h0M1001.8 1177.7h0M1026.5 1177.1h0M855.2 1178.0h0M990.6 1178.9h0M1024.5 1178.9h0M1040.9 1178.0h0M1044.0 1178.1h0M924.5 1179.9h0M934.4 1179.8h0M939.1 1179.2h0M984.6 1179.5h0M987.2 1179.1h0M1046.6 1179.8h0M1051.9 1179.9h0M1064.4 1179.9h0M1067.0 1179.4h0M880.0 1180.2h0M885.1 1180.2h0M900.9 1180.1h0M905.1 1180.5h0M915.9 1180.7h0M935.8 1180.6h0M959.9 1180.3h0M985.2 1180.4h0M990.6 1180.7h0M1055.5 1180.7h0M1067.7 1180.8h0M862.9 1181.2h0M864.3 1181.9h0M907.4 1181.4h0M918.4 1182.0h0M929.6 1181.4h0M961.0 1181.7h0M1004.1 1181.8h0M1029.4 1181.3h0M1045.0 1181.7h0M1050.9 1181.3h0M889.0 1182.6h0M922.5 1182.2h0M976.4 1182.5h0M977.6 1182.0h0M1007.5 1182.7h0M1027.8 1182.0h0M875.5 1183.4h0M907.2 1183.4h0M914.4 1183.9h0M940.2 1183.9h0M982.7 1183.2h0M1022.8 1183.9h0M1051.1 1183.8h0M1059.2 1183.1h0M958.5 1184.4h0M1008.7 1184.9h0M1016.0 1184.1h0M1035.4 1184.1h0M916.4 1185.8h0M978.4 1185.4h0M1000.1 1185.9h0M1007.0 1185.1h0M1008.6 1185.4h0M878.8 1186.8h0M979.0 1186.8h0M1007.3 1186.2h0M1022.4 1186.4h0M863.7 1187.8h0M889.6 1187.6h0M910.0 1187.6h0M982.9 1187.5h0M1041.2 1187.9h0M1062.9 1187.5h0M876.9 1188.7h0M935.4 1188.7h0M989.7 1188.1h0M1037.8 1188.4h0M867.6 1189.4h0M964.7 1189.9h0M973.7 1189.7h0M1023.6 1189.5h0M872.9 1190.5h0M1012.5 1190.6h0M1019.3 1190.1h0M1022.2 1190.5h0M888.7 1191.4h0M1000.5 1191.4h0M1059.2 1191.0h0M878.9 1192.1h0M904.9 1192.7h0M924.2 1192.3h0M938.8 1192.5h0M1039.1 1192.3h0M877.5 1193.8h0M937.2 1194.0h0M986.0 1193.8h0M909.2 1194.9h0M938.9 1194.5h0M986.8 1194.4h0M992.0 1195.0h0M992.4 1194.7h0M1039.9 1194.2h0M1042.3 1194.6h0M891.0 1195.5h0M920.5 1195.9h0M944.3 1195.9h0M955.3 1195.3h0M987.9 1195.8h0M1005.0 1195.7h0M1050.9 1195.4h0M883.4 1196.3h0M899.2 1196.6h0M950.4 1196.1h0M954.0 1196.1h0M959.8 1196.8h0M992.4 1196.8h0M1027.1 1196.5h0M1033.0 1196.1h0M1041.3 1196.9h0M864.1 1197.2h0M929.7 1197.2h0M936.4 1197.7h0M942.6 1197.5h0M965.7 1197.4h0M973.2 1197.6h0M977.4 1197.2h0M1000.3 1197.8h0M1026.5 1197.0h0M916.3 1198.4h0M966.5 1199.9h0M998.4 1199.6h0M1004.1 1199.5h0M1048.9 1199.0h0M876.8 1200.1h0M904.2 1201.0h0M975.3 1200.5h0M994.3 1200.8h0M1002.5 1200.8h0M870.4 1201.6h0M878.7 1201.0h0M885.3 1201.2h0M887.6 1201.4h0M906.6 1201.9h0M926.3 1201.7h0M984.2 1201.7h0M994.9 1201.9h0M1023.5 1201.8h0M1045.6 1201.3h0M934.0 1202.7h0M951.4 1202.0h0M1004.2 1202.6h0M1032.4 1202.7h0M1035.6 1202.1h0M889.7 1203.5h0M922.6 1203.5h0M904.1 1204.3h0M935.7 1205.0h0M939.1 1205.0h0M968.6 1204.6h0M1025.5 1204.4h0M879.9 1205.4h0M889.9 1205.6h0M939.3 1205.5h0M968.2 1205.6h0M980.4 1205.2h0M1008.1 1205.9h0M1018.4 1205.9h0M974.9 1206.9h0M978.3 1206.4h0M997.2 1206.1h0M1041.1 1206.5h0M875.2 1207.6h0M885.1 1207.6h0M912.1 1207.3h0M1015.8 1207.0h0M1026.9 1207.0h0M1030.0 1207.5h0M1030.7 1207.6h0M1040.2 1207.3h0M883.1 1208.1h0M883.6 1208.7h0M932.7 1208.2h0M964.8 1208.5h0M985.2 1208.7h0M999.5 1208.9h0M887.7 1209.8h0M924.6 1209.2h0M954.0 1209.0h0M973.0 1209.1h0M992.2 1209.5h0M891.1 1210.4h0M907.3 1210.9h0M1014.9 1210.3h0M893.8 1211.1h0M990.6 1211.9h0M1033.6 1211.6h0M913.5 1212.2h0M927.9 1213.0h0M938.1 1212.7h0M967.0 1212.4h0M982.6 1212.2h0M902.7 1213.6h0M1012.7 1213.3h0M912.7 1214.9h0M963.0 1214.4h0M987.4 1214.3h0M1031.6 1214.0h0M884.8 1215.6h0M946.0 1215.5h0M973.6 1215.6h0M993.2 1215.4h0M1003.5 1215.9h0M897.4 1217.0h0M898.7 1216.5h0M917.9 1217.0h0M957.0 1216.3h0M949.0 1217.6h0M965.2 1217.8h0M978.2 1217.3h0M984.1 1217.9h0M1017.0 1217.0h0M923.3 1218.5h0M940.7 1218.6h0M967.1 1218.6h0M977.5 1218.3h0M959.3 1219.6h0M995.6 1219.9h0M918.9 1220.3h0M921.1 1220.7h0M985.1 1220.5h0M1002.7 1220.8h0M911.2 1221.6h0M956.3 1221.5h0M1014.8 1221.3h0M972.6 1222.3h0M976.8 1222.2h0M912.7 1223.4h0M905.4 1224.1h0M940.3 1224.9h0M969.9 1224.8h0M969.9 1224.4h0M991.7 1224.7h0M920.7 1225.9h0M930.5 1226.0h0M932.4 1225.2h0M954.9 1225.8h0M973.0 1226.0h0M978.3 1225.9h0M930.3 1226.5h0M976.7 1226.9h0M992.7 1226.2h0M992.0 1226.5h0M915.9 1227.1h0M950.8 1227.5h0M933.0 1228.9h0M972.5 1228.9h0M995.8 1228.2h0M933.8 1230.0h0M940.1 1229.0h0M961.7 1229.9h0M984.4 1229.6h0M986.0 1230.7h0M914.8 1231.6h0M937.2 1231.8h0M976.5 1231.5h0M930.0 1232.7h0M961.6 1233.0h0M952.7 1233.5h0M924.5 1234.4h0M960.8 1238.7h0M1090.0 851.7h0M1099.2 848.3h0M1128.3 906.7h0M1210.8 920.8h0M1216.7 925.8h0M1285.8 684.7h0M1201.7 725.8h0M1210.0 727.5h0M1208.3 718.3h0M1213.3 715.0h0M1223.3 710.0h0M1231.7 705.0h0M1208.3 698.3h0M1226.7 708.3h0M1110.0 1053.3h0M1105.8 1060.0h0M1107.5 1069.2h0M1122.5 1055.8h0M1133.3 1059.2h0M1136.7 1064.2h0M1133.3 1072.5h0M1123.3 1068.3h0M1145.0 1058.3h0M1103.3 1086.7h0M1110.0 1040.0h0M1120.0 1036.7h0M1105.0 942.5h0M1110.8 955.8h0M1104.2 966.7h0M1094.2 971.3h0M1115.0 984.2h0M1109.2 992.5h0M1085.0 992.5h0M1100.0 1000.8h0M1063.3 1105.0h0M1053.3 1111.7h0M1083.3 1121.7h0M1101.7 1119.2h0M1065.0 1150.0h0M1050.0 1132.5h0M1265.0 965.0h0M1275.0 965.8h0M1245.0 973.3h0M1230.0 1015.0h0M1230.0 1028.3h0M1202.5 945.0h0M1160.8 960.0h0M1173.3 942.5h0M1238.3 988.3h0M1238.8 564.0h0M1244.3 567.8h0M1188.4 303.6h0M1484.0 567.6h0M1491.0 571.6h0M1477.4 585.0h0M1488.0 586.4h0M1464.4 589.4h0M1457.0 594.4h0M1499.6 600.6h0M1520.0 622.4h0M1701.1 822.8h0M1701.6 826.5h0M1709.6 835.6h0M1722.4 832.7h0M1729.3 829.7h0M1724.0 841.5h0M1708.5 847.3h0M1716.0 894.3h0M1708.9 909.0h0M1761.3 810.3h0M1763.5 808.6h0M1765.6 806.8h0M1767.7 805.2h0M614.7 532.0h0M617.3 536.7h0M622.0 540.0h0M614.7 542.7h0M620.7 551.3h0M630.0 538.7h0M628.7 541.3h0M632.0 548.7h0M646.3 549.7h0M635.0 561.7h0M641.7 561.3h0M630.7 566.0h0M629.3 572.0h0M630.7 575.3h0M641.3 566.0h0M633.3 527.0h0M644.0 528.7h0M610.7 530.7h0M613.3 535.3h0M495.5 228.0h0M497.0 229.5h0M380.3 495.5h0M390.5 502.8h0M392.0 503.6h0M297.0 985.0h0M1286.1 684.7h0M1320.8 662.9h0M1330.2 657.5h0M1332.6 658.1h0M1335.0 653.3h0M1338.0 653.6h0M1339.2 649.4h0M1344.0 647.9h0M1347.9 651.2h0M1345.2 652.4h0" stroke="#000004"/>
<path d="M1275.7 359.7h0M1299.9 370.7h0M1262.5 390.0h0M1267.8 476.7h0M1243.8 485.6h0M1281.0 485.3h0M955.1 763.7h0M940.6 798.2h0M1024.1 816.7h0M1003.5 820.5h0M1024.0 824.9h0M1057.3 864.2h0M1061.3 889.1h0M1091.0 919.6h0M1049.0 924.9h0M1085.9 925.9h0M983.4 933.8h0M1061.1 933.4h0M1024.8 936.9h0M1006.4 942.0h0M1021.8 949.8h0M1048.1 957.7h0M1078.4 958.9h0M1028.8 973.4h0M1059.2 973.9h0M986.7 974.2h0M969.9 983.0h0M1060.7 982.3h0M948.1 984.4h0M1002.9 995.4h0M1154.2 1003.4h0M979.2 1014.7h0M1004.9 1058.1h0M1020.3 1098.6h0M1081.4 943.0h0M1096.5 903.7h0M651.8 574.6h0M1001.7 939.7h0M1048.2 935.9h0M1037.2 1016.6h0M1026.9 968.7h0M1030.6 1030.2h0M663.8 570.3h0M1050.2 823.0h0M1022.7 811.4h0M991.6 991.9h0M1295.0 465.8h0M1050.5 890.6h0M976.5 970.0h0M1055.9 1019.3h0M1013.0 987.1h0M950.6 977.3h0M1107.0 896.1h0M914.9 815.9h0M1096.5 906.8h0M1087.8 881.1h0M1063.6 916.2h0M1045.6 891.0h0M1298.8 461.8h0M1015.1 1002.5h0M1050.6 906.5h0M1097.2 889.7h0M941.3 962.6h0M963.4 939.7h0M1262.3 471.7h0M1020.1 1046.1h0M1262.6 470.5h0M1074.4 942.5h0M1083.8 936.6h0M1070.3 900.1h0M986.9 805.1h0M955.1 808.8h0M958.2 706.4h0M662.3 571.0h0M1064.5 864.8h0M1070.5 905.4h0M1227.8 488.8h0M1287.0 373.2h0M1066.4 875.3h0M1296.0 358.9h0M988.1 821.5h0M663.4 560.7h0M1257.3 392.5h0M1017.7 1038.7h0M1254.4 481.7h0M1274.5 361.3h0M1058.7 906.6h0M1000.4 970.3h0M1285.3 378.3h0M1262.1 478.9h0M1223.1 979.5h0M1066.3 920.3h0M1005.1 1085.4h0M661.1 568.2h0M1077.3 962.0h0M1057.7 817.6h0M1050.3 887.0h0M1228.4 480.7h0M982.1 977.8h0M1011.1 823.3h0M986.4 936.0h0M1068.5 899.4h0M1219.2 765.5h0M1058.6 937.1h0M1043.1 871.7h0M1280.0 344.4h0M1257.6 481.2h0M1021.3 1013.9h0M931.1 813.0h0M1020.4 972.6h0M1289.0 456.0h0M1059.1 980.9h0M1079.0 877.9h0M1250.2 361.7h0M1283.2 479.9h0M912.5 817.4h0M1302.9 359.8h0M1005.7 1038.8h0M1069.3 976.5h0M1101.6 928.2h0M986.2 1011.3h0M1020.4 833.4h0M982.2 991.9h0M941.3 715.7h0M1040.7 1015.2h0M1063.6 966.5h0M1058.7 813.8h0M1060.4 902.0h0M1253.5 375.4h0M1264.6 478.0h0M937.1 943.9h0M1029.0 816.1h0M1252.8 489.5h0M1039.3 1013.8h0M995.7 917.9h0M1274.8 483.2h0M1050.3 832.6h0M1074.9 888.8h0M929.1 698.2h0M661.5 563.1h0M942.5 803.9h0M1028.7 1088.7h0M1019.9 1070.2h0M1094.5 948.5h0M1047.2 1056.3h0M998.5 767.4h0M1025.6 819.5h0M1043.4 937.9h0M1020.4 1061.8h0M1040.1 861.0h0M1140.5 999.0h0M1195.7 986.4h0M1269.9 464.4h0M993.3 803.0h0M1077.7 936.3h0M1302.9 355.9h0M1298.0 377.9h0M907.5 803.2h0M1068.8 906.3h0M1085.8 944.4h0M1027.5 830.5h0M661.7 573.7h0M937.2 810.1h0M1034.7 817.4h0M1008.8 758.0h0M1269.5 342.8h0M965.0 977.6h0M657.6 570.1h0M1285.0 379.7h0M1004.2 1042.9h0M1085.5 926.3h0M1084.0 903.2h0M1255.8 498.9h0M1048.9 856.6h0M1073.5 862.6h0M1283.7 369.3h0M660.8 580.8h0M1302.8 376.8h0M1001.0 1019.5h0M993.5 1046.7h0M1026.5 799.8h0M999.3 1076.8h0M1053.3 925.1h0M1094.4 884.5h0M1109.4 904.9h0M1065.1 865.0h0M1288.0 345.4h0M1044.4 911.8h0M1299.7 384.2h0M1150.8 979.2h0M1070.9 972.6h0M1279.9 368.8h0M1040.4 1048.6h0M1248.4 487.8h0M1029.6 1207.4h0M1042.7 823.1h0M921.3 856.1h0M962.0 713.7h0M1187.3 993.0h0M1265.1 402.0h0M1239.2 482.4h0M1061.1 884.7h0M990.2 909.8h0M1011.1 1072.1h0M1049.1 868.9h0M991.2 795.5h0M1043.6 949.8h0M1048.6 896.7h0M953.3 926.9h0M1295.8 404.8h0M1288.4 452.2h0M1271.4 386.3h0M1305.0 360.1h0M956.1 721.0h0M1287.0 332.1h0M931.8 715.0h0M1030.5 1018.8h0M972.6 993.4h0M1298.6 374.1h0M1046.9 902.7h0M916.5 820.7h0M1211.6 770.9h0M988.6 1044.4h0M914.5 814.1h0M1044.6 889.2h0M1309.1 361.3h0M1034.7 967.1h0M1272.2 367.8h0M1049.8 868.3h0M1282.9 373.9h0M662.4 560.4h0M1020.1 961.1h0M1157.4 1003.2h0M1052.8 1018.3h0M951.4 983.7h0M1066.8 902.7h0M964.4 927.3h0M1266.1 478.2h0M1044.9 873.6h0M1015.0 1027.9h0M1245.9 477.0h0M1253.5 359.6h0M1084.8 880.8h0M1106.6 804.1h0M1256.4 358.0h0M1054.4 919.5h0M1260.5 382.0h0M1283.5 476.8h0M1057.1 899.8h0M1070.5 988.0h0M1066.2 926.8h0M954.4 967.4h0M1260.8 385.0h0M1046.4 994.1h0M988.9 1026.1h0M976.4 718.9h0" stroke="#3d0f71"/>
<path d="M1198.9 957.1h0M1208.9 965.7h0M1289.4 336.6h0M1232.4 494.2h0M1083.3 949.0h0M1062.7 946.6h0M1283.4 357.5h0M1286.1 339.4h0M992.9 998.2h0M984.0 1050.9h0M1274.1 458.0h0M1038.3 1041.0h0M1057.9 1043.4h0M979.9 789.6h0M1298.0 463.5h0M1219.5 985.1h0M1023.2 834.7h0M1016.5 819.5h0M1222.1 957.9h0M1301.5 364.6h0M1020.2 949.6h0M1071.6 887.2h0M1009.8 1051.9h0M1133.6 997.9h0M1286.5 362.8h0M1255.1 308.7h0M1019.5 942.8h0M1029.8 1050.5h0M1068.8 977.7h0M966.0 799.2h0M1013.2 1019.2h0M795.7 1086.1h0M1150.7 1002.3h0M1003.9 1075.8h0M941.5 996.0h0M1109.1 865.0h0M1174.7 996.2h0M927.8 707.9h0M1050.1 1014.1h0M1287.3 369.1h0M1012.7 1090.5h0M1071.5 1007.7h0M1171.7 989.1h0M957.8 713.7h0M1053.1 1030.7h0M1290.2 395.1h0M821.4 874.4h0M1061.3 980.5h0M1283.0 458.1h0M1060.4 1005.9h0M1248.0 479.4h0M1276.3 386.4h0M1019.8 835.1h0M1016.3 817.6h0M1057.4 800.7h0M1225.5 786.7h0M1063.0 1071.6h0M1034.4 802.6h0M981.4 970.4h0M1227.8 374.8h0M1072.3 989.9h0M964.0 709.1h0M1128.5 1095.9h0M1190.5 968.7h0M905.3 812.0h0M1049.6 1073.2h0M937.8 794.7h0M1202.8 952.5h0M1070.8 863.1h0M1000.9 1040.1h0M1033.2 1022.5h0M986.5 1024.8h0M946.3 810.3h0M999.4 777.1h0M1239.9 480.3h0M929.0 708.1h0M941.3 817.0h0M1124.6 983.5h0M945.5 954.8h0M1016.6 1021.9h0M1180.3 335.1h0M949.7 1084.4h0M651.0 571.7h0M945.6 934.0h0M988.3 805.2h0M1185.4 1000.2h0M1056.9 845.9h0M1188.3 1079.0h0M1058.4 878.4h0M1238.2 953.0h0M1234.7 781.9h0M1010.3 1099.3h0M1198.7 1049.7h0M1287.4 387.6h0M1063.2 830.1h0M1297.4 471.1h0M942.7 960.2h0M1042.9 863.7h0M1240.2 371.1h0M1251.1 360.6h0M960.8 759.0h0M1268.1 461.5h0M1076.1 845.9h0M936.9 800.0h0M953.0 1233.0h0M977.0 963.5h0M1030.8 926.0h0M1031.0 1104.2h0M985.7 741.9h0M1273.1 480.1h0M996.1 964.2h0M1115.0 1017.4h0M1076.7 989.0h0M982.1 1019.7h0M938.3 701.9h0M1263.6 475.4h0M1188.6 988.8h0M991.1 807.9h0M1044.6 954.2h0M949.2 723.9h0M668.3 569.4h0M1119.3 1014.9h0M1036.4 1030.1h0M983.4 741.2h0M910.5 802.1h0M1298.8 351.3h0M1099.3 889.7h0M899.1 725.2h0M1305.1 350.6h0M1218.4 982.0h0M1259.8 488.3h0M661.3 564.2h0M1259.3 493.9h0M1046.4 985.4h0M1158.6 988.9h0M1201.7 785.3h0M1270.8 472.2h0M1064.4 911.9h0M1283.2 337.5h0M1292.0 358.2h0M1197.6 1002.6h0M1008.9 1043.5h0M1075.6 889.3h0M988.5 1042.1h0M1231.4 353.1h0M983.5 734.3h0M1257.1 399.9h0M1080.1 960.0h0M1052.6 932.6h0M1233.8 499.1h0M1280.2 456.3h0M1077.2 951.7h0M987.0 795.3h0M1035.9 1036.1h0M1217.2 337.9h0M961.4 794.0h0M1190.9 982.8h0M1263.7 395.4h0M1260.9 339.2h0M1153.0 1003.3h0M1231.8 487.2h0M1138.2 831.2h0M1269.8 401.8h0M920.5 804.6h0M1264.7 469.1h0M981.2 720.7h0M1080.8 962.9h0M1066.5 1048.3h0M1147.4 996.8h0M1241.6 511.4h0M1207.2 1061.2h0M1280.0 454.7h0M1052.3 1067.8h0M1018.3 1052.9h0M1027.2 1000.7h0M1013.1 1073.4h0M920.2 704.1h0M1241.2 950.8h0M655.6 569.4h0M1248.0 486.6h0M943.2 1161.8h0M1267.1 481.1h0M1026.3 984.9h0M1239.9 474.8h0M1118.6 1006.0h0M979.3 806.7h0M1048.5 1004.4h0M902.2 845.2h0M671.3 569.3h0M1182.1 1023.9h0M1074.6 962.6h0M1175.6 965.4h0M1237.4 476.0h0M1041.9 1051.3h0M1000.8 1230.5h0M1298.1 371.2h0M1285.6 467.3h0M1294.5 470.7h0M1270.5 472.9h0M1182.7 1008.2h0M1128.6 983.0h0M905.8 1053.0h0M1158.6 782.2h0M1018.2 804.6h0M963.7 980.1h0M1168.9 836.0h0M1132.1 983.3h0M1115.3 894.7h0M1294.6 460.9h0M657.0 571.0h0M1236.7 372.0h0M1260.4 495.9h0M1262.8 477.3h0M1261.1 329.4h0M1000.7 1018.3h0M1067.8 1005.7h0M912.3 884.6h0M1055.5 901.8h0M1164.4 972.7h0M1224.0 389.7h0M1188.1 806.2h0M1196.7 998.6h0" stroke="#4a1079"/>
<path d="M1202.6 1013.0h0M1185.9 1081.1h0M955.7 754.2h0M1061.5 930.0h0M1246.6 401.7h0M1055.5 961.1h0M840.5 1152.7h0M1269.4 351.4h0M1227.3 331.2h0M934.2 816.0h0M1239.7 536.2h0M1232.8 479.9h0M977.9 797.6h0M1267.0 397.7h0M1124.9 860.1h0M1285.7 359.8h0M1003.0 1039.0h0M1034.0 829.5h0M992.4 1212.7h0M977.7 736.0h0M1001.0 1010.6h0M934.7 700.8h0M668.8 564.9h0M945.6 712.3h0M1045.4 981.3h0M1051.3 1084.8h0M961.5 771.9h0M1249.3 332.0h0M929.7 712.9h0M1005.8 1052.6h0M1074.7 883.1h0M1074.7 998.0h0M1039.9 996.4h0M926.9 798.7h0M1071.2 901.4h0M910.9 745.1h0M994.9 911.4h0M1164.8 845.8h0M1281.9 391.0h0M876.9 1152.3h0M1267.2 352.9h0M1169.7 976.3h0M914.1 1049.9h0M982.4 1047.0h0M940.9 716.5h0M1243.9 345.0h0M1240.9 489.1h0M996.0 732.9h0M1108.3 1030.0h0M1115.8 1029.2h0M1104.2 1044.2h0M1130.0 1051.7h0M1121.7 1076.3h0M1251.7 986.7h0M1005.0 804.0h0M1110.1 912.6h0M1241.5 493.4h0M926.2 1026.3h0M1272.6 371.2h0M1273.8 338.7h0M1209.7 322.8h0M1261.6 382.6h0M949.8 816.8h0M1212.7 945.6h0M1277.2 482.5h0M1259.3 464.4h0M1151.9 1019.1h0M1257.7 463.4h0M978.9 1032.5h0M1245.9 482.5h0M1277.9 332.0h0M1233.0 345.7h0M919.6 1163.4h0M1255.1 495.0h0M1044.0 879.1h0M1296.8 350.3h0M1067.2 1029.0h0M924.4 806.1h0M1076.5 844.9h0M1047.9 1067.4h0M1619.2 715.4h0M1022.1 983.1h0M1204.5 344.9h0M1144.6 1011.6h0M1172.6 973.0h0M996.1 729.1h0M1255.3 387.9h0M1095.0 894.3h0M948.9 724.9h0M881.1 1130.2h0M1219.4 333.2h0M908.4 1197.4h0M1106.7 860.4h0M1280.4 371.9h0M1177.0 954.1h0M847.2 817.1h0M1215.8 954.0h0M1151.5 1003.0h0M1014.9 1218.8h0M1204.9 774.3h0M1071.8 869.3h0M1050.2 1043.9h0M1004.3 1087.2h0M1288.9 395.1h0M1018.5 823.5h0M899.3 838.9h0M871.4 789.3h0M1293.9 364.3h0M1069.4 1055.6h0M1248.8 387.9h0M1005.9 981.5h0M1010.9 797.2h0M1299.6 345.0h0M1095.6 937.6h0M851.6 790.9h0M900.8 1083.1h0M1056.6 904.8h0M878.3 1154.2h0M1021.2 839.0h0M1226.7 958.8h0M1132.9 861.3h0M1222.3 1048.3h0M1029.0 1013.1h0M1245.1 428.7h0M879.6 738.1h0M1281.0 403.3h0M665.5 558.5h0M1027.4 812.2h0M900.1 1150.5h0M1247.4 347.7h0M1045.4 974.5h0M1141.0 1100.2h0M1248.9 346.4h0M965.6 965.0h0M993.4 814.5h0M879.6 1190.1h0M1049.0 880.8h0M1237.4 488.3h0M988.5 912.1h0M878.2 871.8h0M983.2 1029.2h0M1148.4 862.6h0M863.6 801.7h0M923.5 805.6h0M1081.8 922.4h0M1239.5 480.9h0M942.7 705.1h0M1221.5 306.2h0M1032.5 1105.7h0M1294.8 465.3h0M1260.9 347.8h0M1091.1 890.5h0M1182.9 815.9h0M900.0 1219.8h0M1031.3 1048.4h0M983.6 1031.7h0M1116.1 1003.4h0M993.4 1015.0h0M988.7 1061.3h0M943.8 811.5h0M1042.6 916.2h0M914.0 1119.0h0M1073.2 948.1h0M1064.7 940.6h0M893.1 1175.4h0M1235.8 379.5h0M1003.4 1004.3h0M1044.7 1092.0h0M1065.5 1052.7h0M958.0 1028.6h0M1137.0 833.3h0M1167.5 961.0h0M926.7 804.9h0M1168.0 1089.8h0M1304.6 337.2h0M1269.4 334.4h0M1037.1 1076.5h0M915.4 908.2h0M1098.4 864.1h0M1119.7 1092.3h0M967.6 792.4h0M883.6 1160.1h0M1289.4 336.3h0M886.9 833.0h0M1058.8 1035.0h0M1122.9 976.8h0M1037.1 868.9h0M1229.4 483.7h0M1222.4 433.2h0M854.5 762.2h0M901.3 1126.9h0M799.2 1095.7h0M1010.4 1077.9h0M1222.8 962.4h0M1287.9 332.4h0M1126.5 860.3h0M1022.0 1048.6h0M1198.7 1032.1h0M1141.1 1017.2h0M1021.5 1014.5h0M1171.7 1004.4h0M1047.1 975.8h0M894.6 1081.6h0M1216.2 310.1h0M1211.1 992.4h0M867.0 869.9h0M1001.0 1032.6h0M1215.3 935.9h0M845.1 794.2h0M897.2 1125.2h0M998.2 1197.5h0M1253.7 491.6h0M866.0 1108.0h0M1125.4 1001.0h0M983.5 1014.1h0M819.0 1123.6h0M1118.3 829.4h0M945.1 1218.7h0M809.6 1104.3h0M1162.6 1014.6h0M967.9 963.3h0M1211.4 1043.4h0M1103.0 899.8h0M1250.9 400.2h0M1251.9 339.4h0M965.7 711.4h0M998.7 1054.4h0M1113.8 1114.8h0M816.1 865.6h0M1012.2 1099.3h0M990.0 1021.6h0M1030.8 1097.0h0M1029.5 1025.9h0M1049.6 878.3h0M1218.2 361.7h0M1293.0 475.3h0M649.5 571.9h0M1019.3 1031.2h0M890.9 855.5h0M1179.6 1067.4h0M1249.5 335.3h0M1167.3 990.3h0M940.6 707.7h0M865.0 768.0h0M1078.8 935.0h0M937.4 831.1h0M1015.7 1088.0h0M1109.5 1133.1h0M1214.2 983.5h0M1055.0 1091.8h0M832.1 793.5h0M1266.9 394.1h0M953.3 726.5h0M1053.3 801.5h0M1118.5 833.6h0M961.9 1182.6h0M1289.3 475.1h0M1179.1 1008.5h0M824.8 819.5h0M878.2 834.1h0M1301.0 339.5h0M869.6 799.3h0M1222.0 771.9h0M1272.1 482.4h0M1260.3 333.2h0M931.5 1077.8h0M1295.1 396.2h0M1275.5 401.3h0M1028.6 814.1h0M1135.4 1014.8h0" stroke="#56147d"/>
<path d="M1050.9 1025.8h0M1286.4 395.8h0M1036.7 975.8h0M1297.6 354.4h0M1219.7 1044.8h0M1232.2 362.8h0M874.9 1170.3h0M1227.7 374.7h0M1237.4 321.8h0M1175.2 1072.9h0M834.3 1160.8h0M1152.4 358.6h0M915.0 820.9h0M1041.8 1190.8h0M1211.3 995.5h0M975.2 1075.6h0M1184.5 319.9h0M1191.8 442.7h0M1264.6 487.8h0M1240.0 361.9h0M1083.5 887.2h0M1180.1 794.7h0M1272.2 362.4h0M1268.1 379.1h0M859.0 809.4h0M1200.3 957.0h0M907.9 1163.7h0M1246.9 463.8h0M1041.4 915.9h0M1029.5 806.0h0M964.4 1231.2h0M1233.6 484.4h0M808.1 833.8h0M1134.1 972.7h0M1002.3 1041.8h0M1056.5 903.8h0M1243.4 823.1h0M1043.0 930.5h0M1207.1 1043.4h0M1143.9 1022.4h0M1189.3 971.8h0M797.8 818.9h0M960.1 708.0h0M1257.5 324.1h0M995.8 760.4h0M1169.4 1011.0h0M1007.3 1226.8h0M1121.3 1003.4h0M1167.8 1073.3h0M1286.6 373.6h0M1219.2 763.1h0M952.5 1136.8h0M1053.7 970.0h0M1010.6 1203.9h0M1190.6 997.1h0M1145.2 1021.0h0M917.5 1139.5h0M1131.0 1018.3h0M1271.5 463.6h0M847.9 1154.4h0M1067.9 1009.3h0M882.5 1205.3h0M1213.1 974.6h0M1300.4 386.5h0M1105.1 922.5h0M1003.1 1118.9h0M1146.9 1017.9h0M1038.4 1002.5h0M899.1 716.4h0M1164.0 960.3h0M815.6 850.1h0M1168.6 1018.5h0M1279.2 329.5h0M1239.7 345.1h0M799.0 833.4h0M975.4 1053.7h0M972.9 794.7h0M1163.5 1005.3h0M1032.3 1070.9h0M1080.6 875.4h0M982.5 718.7h0M1133.7 316.4h0M1242.1 764.8h0M1295.5 336.2h0M898.2 787.2h0M1080.8 1142.5h0M293.4 981.6h0M1153.6 1048.6h0M1231.1 389.3h0M1286.7 471.2h0M1026.0 925.8h0M1297.5 337.8h0M1297.4 363.1h0M898.1 1081.0h0M908.8 832.7h0M1260.4 374.3h0M1244.1 494.2h0M959.1 1169.0h0M1013.2 1198.5h0M1273.7 378.2h0M1043.7 1186.7h0M1080.0 823.1h0M1048.0 1050.7h0M1230.6 311.9h0M917.9 1180.9h0M973.1 1177.8h0M1260.8 321.9h0M1019.0 819.6h0M927.1 943.2h0M1251.3 307.9h0M1030.2 990.8h0M1205.1 759.8h0M1260.0 322.9h0M1248.7 496.6h0M1038.4 1070.0h0M938.8 1182.9h0M891.0 1081.9h0M725.2 1109.0h0M1280.7 335.1h0M886.4 1093.2h0M812.5 956.2h0M1183.0 1000.1h0M1017.0 963.7h0M903.9 793.8h0M846.6 790.6h0M1174.4 820.4h0M998.1 1214.9h0M1053.4 1133.7h0M1223.7 778.0h0M1181.0 330.0h0M1184.7 1063.7h0M1266.1 400.2h0M914.9 802.4h0M1227.1 391.1h0M945.5 1098.3h0M1207.4 1034.7h0M1184.9 1080.3h0M852.2 801.9h0M881.0 822.5h0M901.8 825.9h0M943.0 1174.9h0M922.4 1172.5h0M852.2 1162.6h0M1048.6 1170.1h0M1002.7 942.1h0M1248.1 483.7h0M1211.7 1029.3h0M1200.4 335.6h0M1084.9 966.1h0M848.0 895.3h0M1121.8 832.9h0M1235.7 378.7h0M834.8 814.7h0M832.5 794.5h0M1234.3 519.3h0M872.6 1178.2h0M1175.2 820.6h0M969.7 1080.5h0M1240.8 507.5h0M864.3 821.2h0M1106.0 861.5h0M881.2 870.0h0M995.0 821.7h0M1283.2 377.8h0M909.6 1074.4h0M899.4 1053.3h0M897.8 795.8h0M752.7 1078.6h0M917.1 1058.6h0M940.9 1150.8h0M846.6 751.6h0M1257.6 473.4h0M1216.2 388.6h0M1186.0 956.1h0M1293.7 366.0h0M1035.7 1147.8h0M1115.0 1108.9h0M910.4 838.3h0M1228.5 403.7h0M1083.2 1010.2h0M1040.0 1078.1h0M1031.1 1067.5h0M1145.6 336.6h0M996.7 741.8h0M1135.0 1010.4h0M1118.6 1012.1h0M1262.2 449.4h0M1274.6 322.5h0M1165.0 950.1h0M891.8 801.3h0M1197.1 954.1h0M1168.2 1030.2h0M1608.9 695.0h0M877.1 875.7h0M1015.8 1058.8h0M1209.7 981.1h0M1309.6 351.3h0M1073.8 1003.9h0M1037.9 1109.8h0M1132.3 863.1h0M992.3 1201.9h0M921.7 841.7h0M887.8 1136.0h0M1252.9 368.2h0M1040.7 909.4h0M951.9 1158.7h0M972.1 1087.8h0M1637.7 721.4h0M987.3 1001.2h0M958.8 1094.4h0M1214.9 955.8h0M999.9 1074.3h0M965.2 1217.4h0M817.2 791.2h0M829.3 949.1h0M920.7 868.2h0M825.3 838.8h0M852.0 747.8h0M1003.5 777.6h0M923.3 1208.5h0M1045.0 972.4h0M1011.5 1206.5h0M955.6 1104.3h0M1218.0 419.4h0M1194.6 1022.8h0M1221.1 1021.7h0M1146.1 1027.2h0M926.3 716.1h0M1039.1 1024.8h0M1165.8 1095.9h0M1011.5 1052.4h0M1260.1 381.3h0M1191.7 1053.8h0M975.7 1028.3h0M911.2 1040.3h0M1189.2 969.3h0M1117.8 824.8h0M943.5 1139.1h0M1242.8 490.7h0M1157.0 1013.5h0M1301.1 359.5h0M1265.7 406.2h0M1200.9 277.7h0M1208.6 435.3h0M908.8 827.8h0M1171.1 1016.7h0M1044.4 1134.4h0M845.3 831.1h0M1049.1 1064.2h0M1229.5 788.1h0M1242.4 486.7h0" stroke="#601880"/>
<path d="M1168.5 1069.0h0M1066.4 1167.1h0M986.9 1148.6h0M1122.2 1104.4h0M964.1 1195.6h0M1292.3 325.9h0M1179.8 331.4h0M1166.4 973.8h0M1004.4 1099.4h0M1276.7 350.3h0M939.3 710.0h0M825.0 1082.3h0M789.8 1036.7h0M1030.2 800.4h0M975.3 1043.1h0M1232.5 951.4h0M1209.1 850.2h0M810.2 827.8h0M1246.6 483.1h0M1022.5 1073.2h0M1284.2 401.7h0M800.9 818.6h0M1000.6 1202.5h0M1184.8 969.2h0M1005.2 1117.0h0M1181.6 316.7h0M837.8 827.5h0M836.4 839.3h0M950.8 1182.9h0M920.8 1153.9h0M988.4 1124.6h0M1022.3 1049.2h0M850.1 743.9h0M851.4 852.9h0M1205.6 1014.5h0M1210.5 941.6h0M951.6 961.7h0M944.4 1174.6h0M1272.0 458.7h0M898.7 731.9h0M877.6 730.1h0M1072.3 830.7h0M1640.3 733.1h0M848.3 1136.1h0M1134.1 747.0h0M1064.1 1155.2h0M1094.4 917.5h0M1265.0 367.6h0M1207.5 1029.2h0M899.5 886.8h0M860.7 1177.9h0M1013.9 1181.1h0M1015.4 967.2h0M1088.0 927.3h0M928.5 710.2h0M980.0 1226.1h0M907.5 905.4h0M985.2 1153.9h0M896.0 1096.0h0M1629.9 718.5h0M1211.7 1012.6h0M1160.5 1031.1h0M787.7 1053.7h0M1126.5 1123.8h0M1239.3 337.7h0M978.3 758.6h0M1249.2 499.8h0M874.0 1179.5h0M872.6 879.1h0M1031.4 989.1h0M1015.9 985.0h0M933.9 711.2h0M872.5 727.0h0M937.9 1057.4h0M1300.9 377.4h0M1149.7 1095.4h0M1007.6 893.1h0M926.3 889.5h0M949.0 1069.3h0M1201.5 334.9h0M814.4 798.3h0M1609.8 708.0h0M1251.7 325.1h0M890.4 1188.2h0M1171.9 853.0h0M961.6 1108.7h0M973.9 1172.7h0M918.7 1058.1h0M1273.3 370.5h0M873.3 860.7h0M1537.1 523.8h0M1062.7 950.7h0M870.9 823.2h0M1282.6 328.0h0M1220.4 974.2h0M975.1 1106.9h0M922.8 1173.8h0M836.6 885.8h0M1661.6 742.4h0M1718.7 839.9h0M1711.9 856.2h0M1711.0 877.9h0M1719.7 908.7h0M656.0 561.3h0M916.3 823.2h0M1233.5 753.4h0M1541.4 537.8h0M1159.0 1093.3h0M1261.2 323.2h0M910.6 997.8h0M981.7 1211.9h0M808.9 805.4h0M1000.1 989.8h0M877.8 733.9h0M1254.7 357.8h0M1174.4 1051.4h0M1187.2 994.0h0M946.2 1162.6h0M1135.8 314.2h0M1203.9 325.2h0M858.5 1124.4h0M898.6 717.7h0M815.4 806.3h0M909.7 1155.7h0M913.4 904.7h0M1198.7 286.4h0M958.2 774.8h0M1242.8 315.4h0M810.3 812.3h0M977.2 1076.1h0M1142.3 311.6h0M1161.2 823.0h0M982.8 1175.1h0M1038.9 920.9h0M1177.2 1094.8h0M1190.9 438.0h0M1252.1 337.8h0M906.9 716.4h0M1079.1 909.2h0M1177.9 1040.3h0M1028.1 1183.2h0M950.4 1047.4h0M1030.5 1149.4h0M1118.4 1114.7h0M1180.2 955.6h0M995.0 1195.2h0M974.3 1191.0h0M904.1 714.3h0M1215.9 983.9h0M895.8 1116.5h0M834.2 1039.5h0M1187.2 330.1h0M1074.8 1160.9h0M797.6 1125.3h0M782.1 1047.2h0M950.5 1053.5h0M899.8 1189.2h0M1171.0 1042.9h0M1094.2 898.1h0M1307.1 348.3h0M1129.5 819.7h0M1026.6 1209.1h0M944.7 1052.7h0M985.5 1002.6h0M1066.9 1008.1h0M1189.2 381.3h0M870.3 1129.8h0M919.3 754.3h0M1235.0 315.8h0M965.3 1115.7h0M1118.1 837.2h0M833.5 831.7h0M827.2 850.6h0M1017.4 1179.9h0M875.0 753.3h0M999.4 1027.2h0M890.9 823.6h0M739.4 977.7h0M1051.5 1018.9h0M1136.1 1109.7h0M926.1 1146.9h0M1191.8 1034.5h0M891.3 862.2h0M893.2 838.4h0M1189.3 1084.5h0M843.2 831.5h0M897.5 881.6h0M993.3 989.6h0M843.0 758.8h0M1236.2 499.9h0M1152.7 1081.8h0M1204.6 1070.4h0M885.0 750.5h0M1230.8 422.4h0M1129.8 308.0h0M1196.8 442.4h0M1136.9 966.3h0M1236.9 948.3h0M1605.8 700.9h0M880.9 894.3h0M888.2 818.2h0M1294.9 455.2h0M1235.6 321.9h0M1528.8 530.6h0M910.7 897.1h0M1153.5 1001.4h0M809.9 895.6h0M1107.2 896.7h0M931.1 1011.5h0M1120.6 1116.0h0M1190.2 847.3h0M1033.9 1015.2h0M1223.4 334.9h0M982.0 1167.0h0M894.6 1105.5h0M858.8 815.1h0M848.0 734.6h0M857.4 1122.2h0M887.1 847.7h0M1203.9 381.1h0M880.3 716.7h0M1139.1 1095.1h0M1013.1 1099.8h0M1163.7 1024.1h0M1191.1 1055.1h0M960.9 1105.5h0M1201.6 844.6h0M889.1 1062.3h0M1301.4 370.6h0M974.9 1213.6h0M1220.9 1057.7h0M1186.2 1084.8h0M1176.2 1058.2h0M1010.1 1176.9h0M999.3 724.5h0M1235.4 779.6h0M1056.1 1166.2h0M938.0 1130.0h0M821.3 1151.4h0M852.1 1157.9h0M797.8 828.3h0M711.0 1102.1h0M1223.3 1027.6h0M899.8 1203.4h0M963.4 1047.8h0M974.8 1013.4h0M1160.1 973.3h0M1203.2 1008.5h0M840.5 751.4h0M921.8 1157.8h0" stroke="#6d1d81"/>
<path d="M1195.3 1037.9h0M1205.6 1000.1h0M1184.0 962.7h0M1132.7 1103.2h0M1214.9 326.0h0M997.0 1199.4h0M1208.2 1052.0h0M1232.4 324.0h0M1135.1 1113.1h0M1152.0 827.3h0M1017.1 1064.5h0M910.1 875.9h0M917.9 1042.6h0M1035.8 1001.8h0M1161.5 1073.5h0M854.9 859.0h0M1283.7 399.9h0M1607.2 695.3h0M969.7 1136.3h0M888.9 746.3h0M1128.3 1012.9h0M778.8 1082.6h0M831.4 798.7h0M1586.9 634.2h0M865.2 851.9h0M1114.2 827.9h0M1167.8 965.4h0M983.9 1065.5h0M826.0 1106.1h0M873.3 839.4h0M1179.1 1024.7h0M741.1 920.5h0M1025.7 937.8h0M852.6 843.6h0M797.0 822.4h0M1129.6 823.1h0M1195.0 1047.1h0M1500.4 544.3h0M940.9 1034.1h0M1171.0 1085.4h0M1258.5 470.6h0M838.8 793.5h0M1265.8 972.6h0M936.1 1202.3h0M892.9 1121.4h0M1143.0 339.7h0M913.8 1225.8h0M1221.4 1027.5h0M1011.4 1130.3h0M910.9 1180.1h0M1253.4 483.9h0M1149.3 315.7h0M932.2 911.5h0M1161.4 748.5h0M871.1 847.1h0M1190.6 1077.6h0M958.2 714.3h0M1216.3 329.3h0M1219.9 444.3h0M951.4 1084.5h0M818.4 821.3h0M1164.1 1010.7h0M1255.9 310.2h0M1159.6 1066.1h0M852.6 852.7h0M857.1 742.4h0M1046.1 820.3h0M1233.7 371.4h0M1183.0 1049.8h0M1194.4 444.3h0M1064.4 825.4h0M869.3 1193.3h0M1199.2 398.4h0M1214.7 455.4h0M868.9 859.2h0M1601.7 642.4h0M873.5 792.2h0M928.9 1075.6h0M855.4 862.0h0M1215.7 946.7h0M855.6 744.5h0M705.3 939.2h0M964.7 1057.1h0M1019.6 799.7h0M824.7 1045.6h0M1166.6 735.6h0M1235.9 338.0h0M867.1 1151.0h0M898.7 724.7h0M929.6 1034.4h0M985.7 1105.3h0M790.8 1078.5h0M1059.3 916.8h0M1130.2 829.8h0M843.2 799.8h0M782.9 919.2h0M1060.8 854.8h0M806.4 893.6h0M1167.1 1078.7h0M927.2 703.1h0M892.6 876.7h0M1242.9 434.6h0M1007.0 831.8h0M924.3 1120.8h0M964.9 1126.8h0M1610.5 696.8h0M852.3 1102.7h0M994.0 1076.2h0M886.6 734.7h0M1176.9 1040.2h0M1127.7 979.5h0M1219.7 1033.5h0M813.2 815.8h0M983.1 718.1h0M851.2 823.8h0M950.2 1054.3h0M1045.5 1163.4h0M981.7 1193.7h0M866.5 804.3h0M817.6 860.5h0M825.7 866.0h0M1082.4 966.7h0M808.3 1096.6h0M1529.3 516.3h0M906.1 1190.8h0M1156.5 1036.4h0M900.2 885.6h0M887.9 716.7h0M1242.6 436.9h0M1026.1 1143.9h0M1189.0 964.0h0M715.3 923.8h0M803.3 839.3h0M936.7 893.7h0M1220.0 1027.9h0M1021.8 1108.2h0M1533.2 545.9h0M1585.2 636.7h0M774.2 918.9h0M873.8 850.4h0M817.3 855.6h0M1154.4 827.2h0M1586.5 505.4h0M856.4 1142.9h0M1205.6 1017.7h0M1184.8 1037.7h0M1184.6 1001.1h0M1064.5 1016.1h0M1223.4 995.1h0M1012.4 1187.9h0M981.5 1119.1h0M944.3 1209.5h0M963.3 1071.9h0M1218.0 324.2h0M1217.1 1010.3h0M892.5 1128.6h0M1634.7 714.6h0M850.9 1039.7h0M922.9 1058.2h0M908.5 1193.2h0M1146.9 320.6h0M1190.5 272.0h0M1548.6 521.8h0M957.1 1123.7h0M927.6 1233.9h0M1295.7 407.5h0M1251.2 480.2h0M920.3 873.2h0M808.1 808.5h0M808.2 982.8h0M890.7 737.7h0M936.5 1226.1h0M914.5 1026.3h0M904.6 911.4h0M850.7 1166.6h0M748.8 1105.8h0M1133.9 864.2h0M976.3 1110.6h0M903.4 1206.9h0M1193.4 1073.6h0M1195.6 1024.2h0M907.4 935.5h0M1116.1 1096.2h0M1128.9 830.4h0M1234.8 951.1h0M886.9 847.4h0M1633.5 703.0h0M1047.1 1181.6h0M1627.0 677.4h0M886.2 725.5h0M899.4 872.5h0M936.4 1151.3h0M809.2 1016.2h0M1123.9 1007.9h0M1141.1 972.3h0M877.9 1195.8h0M1039.5 1140.1h0M893.8 802.7h0M970.9 1095.3h0M1139.7 322.3h0M999.9 1193.2h0M957.1 1123.7h0M1033.3 1172.8h0M903.3 791.2h0M850.3 844.7h0M992.0 1090.1h0M877.8 1149.9h0M1214.3 452.0h0M1201.1 945.1h0M1230.6 949.6h0M1162.7 1059.6h0M970.5 1228.6h0M1632.3 680.8h0M1181.1 317.8h0M1620.1 653.2h0M1189.6 395.9h0M1241.6 754.0h0M1156.7 1030.7h0M877.3 834.0h0M917.3 1169.5h0M1056.5 898.2h0M1196.4 272.8h0M957.3 1026.3h0M861.4 813.1h0M1110.5 1097.2h0M1147.1 1094.7h0M1105.8 1108.9h0M919.6 1182.9h0M1599.6 689.1h0M1134.5 309.9h0M900.7 798.2h0M904.5 715.8h0M960.7 1080.6h0M1071.2 1003.6h0M1186.3 339.7h0M1172.2 1012.5h0M1005.1 1147.2h0M1204.0 1060.9h0M866.7 798.0h0M1168.0 849.1h0M777.8 1112.0h0M925.5 1036.4h0M873.3 1083.3h0M985.6 1117.1h0M1175.9 1039.3h0M924.6 1135.3h0M912.3 1200.3h0" stroke="#782281"/>
<path d="M935.5 916.5h0M736.8 1110.1h0M996.0 1171.9h0M1219.5 977.5h0M823.3 938.4h0M927.0 1014.5h0M768.6 974.2h0M1057.0 867.7h0M934.0 994.2h0M1074.0 1155.8h0M1133.6 1108.2h0M1118.7 1099.2h0M895.0 824.2h0M1228.6 1038.9h0M887.0 810.0h0M942.1 709.8h0M951.6 1225.5h0M1029.9 1189.9h0M1155.4 981.9h0M784.3 948.1h0M1152.5 1038.9h0M1204.8 1014.5h0M1228.8 990.7h0M820.1 1074.3h0M922.6 1224.0h0M1200.0 397.9h0M1168.2 1054.0h0M1620.7 720.1h0M847.7 737.9h0M873.4 1173.3h0M970.7 1063.3h0M769.5 913.5h0M1287.8 375.0h0M897.0 1041.7h0M1189.6 974.3h0M1077.9 983.6h0M1002.1 805.5h0M813.0 807.1h0M933.7 1231.5h0M888.9 903.5h0M992.8 1090.8h0M1529.5 534.0h0M1173.0 1080.1h0M1291.4 374.6h0M1259.0 497.2h0M1126.0 860.6h0M1179.3 390.2h0M941.3 716.4h0M1078.4 1158.8h0M862.3 855.5h0M871.6 737.8h0M782.1 883.7h0M1273.6 409.4h0M921.7 911.9h0M1168.6 744.0h0M1159.8 1023.0h0M974.5 1057.7h0M1561.1 521.0h0M928.7 713.9h0M853.2 895.1h0M1278.2 367.8h0M868.6 797.8h0M879.3 1045.6h0M1273.6 324.2h0M1218.3 788.7h0M1530.8 555.7h0M918.9 1023.4h0M809.6 793.6h0M984.6 1081.5h0M1040.0 1187.8h0M894.4 732.6h0M983.0 791.0h0M1194.8 286.5h0M723.3 949.0h0M1221.0 1042.4h0M1649.1 709.9h0M994.4 1149.2h0M1208.1 400.4h0M872.6 1071.9h0M868.7 1114.0h0M829.1 820.2h0M861.6 826.1h0M1240.7 959.1h0M865.2 830.1h0M776.4 914.5h0M895.6 1153.5h0M980.3 732.2h0M1620.4 716.5h0M1225.3 341.7h0M798.7 815.6h0M1513.6 563.5h0M1259.8 307.4h0M1006.9 1192.9h0M881.3 1110.2h0M1249.1 323.6h0M1024.2 1178.2h0M1151.5 471.2h0M858.9 1086.8h0M1201.5 848.1h0M941.5 1021.1h0M829.1 793.4h0M873.1 807.2h0M1153.1 1038.9h0M908.6 714.6h0M906.0 704.7h0M857.5 731.2h0M990.3 1086.6h0M764.6 1042.9h0M1553.3 521.8h0M1015.0 1183.3h0M992.4 736.5h0M809.7 832.2h0M1184.4 1044.6h0M1045.8 875.9h0M747.2 913.1h0M1203.0 1005.0h0M1604.4 647.4h0M705.8 954.3h0M980.6 1185.1h0M1051.6 1140.7h0M919.9 1114.1h0M869.0 1149.3h0M977.8 1181.0h0M871.5 839.9h0M864.8 1110.7h0M1124.7 338.2h0M901.2 801.6h0M989.6 1107.1h0M1238.6 956.8h0M1193.1 973.2h0M787.1 917.9h0M1248.8 329.0h0M876.1 736.2h0M847.4 888.2h0M897.5 711.5h0M1622.7 689.9h0M1182.6 1051.6h0M1499.0 540.5h0M1221.7 435.9h0M1190.5 322.2h0M1026.3 1030.3h0M1272.5 967.9h0M981.4 1159.6h0M1175.5 1058.9h0M1654.6 717.6h0M763.2 977.7h0M1196.5 290.3h0M1201.3 396.7h0M1166.8 1075.3h0M803.3 838.0h0M1129.2 1080.8h0M1225.8 995.0h0M1233.3 991.7h0M1082.5 1150.0h0M1726.1 843.1h0M1770.9 802.0h0M1772.5 800.9h0M487.4 220.3h0M388.0 501.0h0M294.6 982.4h0M880.4 1166.3h0M1178.2 1075.7h0M1218.2 1026.0h0M1185.8 342.3h0M1582.1 510.4h0M1026.8 1170.9h0M1168.0 1033.8h0M932.9 806.5h0M1110.7 413.4h0M902.9 1095.0h0M1156.2 1100.1h0M1195.4 1008.4h0M1024.8 1160.7h0M816.9 797.3h0M1185.0 1050.1h0M1137.4 407.2h0M1129.9 1096.9h0M1612.5 713.4h0M1151.3 1089.0h0M1239.2 404.8h0M953.4 1083.6h0M974.3 1158.2h0M885.0 808.6h0M1294.5 355.6h0M1196.4 1074.1h0M1132.1 412.1h0M1534.2 519.5h0M931.9 1061.8h0M1168.3 1041.9h0M924.9 1058.6h0M901.7 829.2h0M782.1 1036.7h0M918.3 1193.2h0M1628.2 664.3h0M1539.5 523.9h0M1562.1 524.1h0M883.9 812.9h0M837.0 798.5h0M879.7 1177.8h0M943.6 1135.6h0M1656.8 723.6h0M1256.3 325.6h0M1168.0 1017.2h0M861.5 813.7h0M1140.0 308.1h0M1205.9 1054.4h0M850.7 870.3h0M840.8 884.3h0M815.0 789.3h0M936.7 1161.9h0M826.4 830.9h0M805.0 904.2h0M1184.9 387.2h0M1154.7 1055.1h0M1641.7 707.8h0M884.5 855.0h0M1618.1 704.9h0M1607.3 697.3h0M847.0 852.9h0M914.8 1217.8h0M1134.1 316.2h0M708.8 1046.5h0M1201.2 954.5h0M1600.3 507.5h0M1209.9 452.6h0M1293.5 461.1h0M1620.8 651.8h0M1187.5 269.4h0M967.7 1127.4h0M937.1 1098.4h0M847.9 1095.7h0M870.3 788.6h0M834.2 868.1h0M822.7 822.7h0M1158.6 1070.9h0M1532.9 562.0h0" stroke="#832681"/>
<path d="M800.3 819.0h0M1546.2 516.5h0M1157.4 324.3h0M982.0 1151.3h0M1149.0 1101.9h0M754.7 897.8h0M1156.4 1100.5h0M1612.0 648.8h0M947.3 1224.9h0M871.0 1160.3h0M1577.1 514.6h0M756.4 1010.2h0M1127.2 1106.9h0M911.1 698.1h0M847.0 835.4h0M714.6 929.4h0M822.3 838.2h0M870.2 1112.3h0M843.9 1112.0h0M903.2 1163.6h0M1628.0 730.0h0M709.8 999.2h0M1215.0 456.0h0M1274.8 979.8h0M1654.0 725.9h0M875.2 797.2h0M1529.4 566.7h0M849.1 1107.4h0M870.7 1191.1h0M887.0 811.1h0M1612.5 698.8h0M1148.2 324.3h0M810.0 784.9h0M1228.6 460.6h0M760.0 1044.5h0M1174.1 967.2h0M750.1 1070.2h0M1136.4 1113.5h0M861.9 808.3h0M1008.2 1211.9h0M1213.1 340.4h0M1647.7 707.4h0M1208.5 315.7h0M1008.0 1136.0h0M1257.3 974.6h0M838.0 791.4h0M887.5 896.3h0M846.7 1085.6h0M813.8 860.6h0M850.3 843.0h0M1101.8 1136.6h0M1185.4 1054.0h0M811.0 783.4h0M1032.5 1123.1h0M1002.4 1141.2h0M1503.2 560.5h0M900.5 1098.4h0M1200.5 285.1h0M1135.6 330.5h0M711.0 1097.3h0M953.3 1074.6h0M875.1 794.1h0M896.1 843.0h0M1161.1 1097.7h0M913.7 719.1h0M1221.3 773.1h0M1199.2 993.8h0M955.0 1059.0h0M1639.9 709.5h0M951.3 1069.5h0M1009.4 1130.8h0M934.0 1169.4h0M1209.7 953.5h0M1582.4 509.1h0M1223.0 1043.3h0M1055.2 1192.8h0M1612.3 717.5h0M978.7 1207.1h0M1171.9 1093.1h0M914.2 1209.3h0M1112.8 1122.3h0M903.8 707.3h0M847.7 751.2h0M953.2 1215.7h0M1621.7 650.2h0M1102.4 1126.0h0M929.2 1031.6h0M887.0 852.3h0M1646.9 733.2h0M908.3 897.1h0M990.1 1207.1h0M1219.5 939.8h0M1014.3 1142.9h0M1152.4 315.6h0M1078.2 857.7h0M1132.2 326.3h0M704.9 946.4h0M911.5 1187.7h0M1228.1 437.9h0M1607.9 644.3h0M950.4 1220.4h0M1027.6 812.5h0M1016.2 1178.7h0M848.1 835.1h0M1010.4 1060.3h0M1628.8 687.3h0M886.0 714.2h0M1008.7 1003.0h0M917.6 1118.2h0M1133.2 406.1h0M688.3 1025.5h0M1131.5 365.6h0M995.3 1096.5h0M862.8 792.8h0M1060.2 1182.0h0M947.8 1054.0h0M866.8 849.5h0M886.3 744.6h0M815.1 809.9h0M805.6 849.5h0M826.1 857.3h0M1136.2 334.0h0M1008.6 1156.4h0M726.5 932.8h0M1245.9 307.0h0M701.5 1000.1h0M1483.8 518.5h0M955.3 1130.6h0M815.3 801.9h0M844.6 825.4h0M1246.7 686.7h0M1148.3 1063.3h0M1080.0 1134.2h0M1094.2 1138.3h0M1459.0 595.4h0M1704.8 835.1h0M1724.0 848.4h0M1712.3 872.9h0M1714.4 898.0h0M1704.3 907.6h0M646.7 567.3h0M381.5 496.3h0M884.4 717.1h0M834.6 789.4h0M1601.4 644.3h0M1143.2 338.5h0M1240.0 327.5h0M1122.3 316.8h0M1070.1 1156.1h0M1116.8 1095.3h0M1156.5 1087.9h0M1036.9 1025.5h0M1230.9 312.0h0M1235.5 952.8h0M834.8 820.6h0M1153.9 977.9h0M1027.5 1119.5h0M1260.3 329.1h0M995.4 1219.7h0M841.3 858.2h0M936.4 1174.4h0M1296.4 351.9h0M1166.2 385.4h0M1169.4 1092.9h0M1525.1 527.2h0M978.8 1097.0h0M1645.7 735.5h0M908.6 1062.4h0M727.6 1103.2h0M1600.5 685.4h0M1134.3 315.3h0M708.3 1000.8h0M1653.7 722.2h0M1515.4 526.2h0M897.3 808.9h0M1620.6 686.2h0M1143.5 337.5h0M1153.8 309.2h0M1494.4 523.1h0" stroke="#902a81"/>
<path d="M1207.1 431.4h0M732.6 996.1h0M800.3 1113.7h0M898.6 1072.1h0M1165.1 1086.4h0M698.1 986.4h0M1621.9 659.2h0M865.8 837.7h0M873.8 1038.8h0M1504.3 529.0h0M1588.6 638.9h0M1588.4 694.8h0M938.0 1108.0h0M992.8 1184.0h0M1283.1 337.1h0M1140.4 336.5h0M736.1 939.4h0M1144.8 1099.1h0M1177.4 1068.2h0M951.8 1093.1h0M855.3 891.0h0M903.7 1207.1h0M854.2 815.8h0M1590.7 696.8h0M1158.7 1020.9h0M1158.0 324.7h0M1621.9 654.1h0M925.0 781.0h0M1112.9 1135.0h0M695.5 982.7h0M1135.9 341.0h0M1184.8 1048.9h0M993.2 1164.1h0M1156.7 334.3h0M1061.1 904.3h0M1122.8 1125.9h0M1568.4 520.3h0M1638.6 702.8h0M814.6 826.5h0M1162.3 1045.8h0M966.6 1081.9h0M1163.1 1073.0h0M1270.2 969.1h0M919.8 1128.6h0M1250.1 353.0h0M882.6 1065.0h0M812.3 849.1h0M1119.9 1096.7h0M1594.7 501.3h0M938.1 1139.2h0M943.6 1122.5h0M865.6 984.4h0M1138.7 1105.6h0M1047.6 884.0h0M1120.0 417.4h0M901.7 1039.3h0M982.7 1182.6h0M1224.3 312.7h0M1177.2 970.7h0M1491.1 523.3h0M1006.2 1199.6h0M1223.9 791.4h0M855.9 747.2h0M858.9 806.3h0M902.3 1150.9h0M743.4 987.3h0M1239.1 814.2h0M901.7 1070.2h0M859.2 841.9h0M937.5 1088.2h0M1564.3 522.5h0M1217.2 436.0h0M869.2 799.7h0M1204.7 441.7h0M1303.2 378.5h0M837.9 815.6h0M871.8 1033.8h0M1166.8 371.6h0M707.0 945.8h0M1144.3 325.3h0M1639.1 726.4h0M871.1 745.8h0M1252.6 963.0h0M1571.7 511.1h0M874.1 750.7h0M877.6 844.9h0M1159.3 1078.3h0M775.5 1013.3h0M959.5 1068.5h0M734.6 1070.8h0M1112.2 1093.6h0M1137.5 340.7h0M814.8 809.4h0M1218.5 1028.3h0M695.6 1011.5h0M1174.6 1070.5h0M1145.9 329.7h0M1119.8 320.5h0M1153.4 331.9h0M1660.3 728.5h0M1131.7 746.1h0M1038.2 1006.7h0M1211.4 464.0h0M1595.6 683.0h0M726.7 1036.4h0M876.1 817.5h0M816.2 1130.3h0M1507.5 531.3h0M1205.2 442.3h0M1190.7 264.1h0M923.3 1165.6h0M1116.0 843.2h0M1171.8 379.3h0M915.5 1136.0h0M1622.2 683.8h0M1281.2 466.9h0M1151.4 370.4h0M1247.5 942.5h0M1706.9 830.8h0M1722.9 844.7h0M1705.9 895.9h0M663.0 566.7h0M489.0 221.8h0M1642.3 707.5h0M1162.4 314.2h0M891.8 1188.9h0M1140.2 1094.5h0M1597.8 501.0h0M844.3 1036.2h0M884.0 1154.4h0M874.9 826.1h0M1193.9 282.1h0M714.6 979.7h0M965.2 1102.3h0M1149.8 310.7h0M730.0 1070.1h0M1197.0 390.4h0M902.4 1061.0h0M874.1 1122.2h0M917.9 711.1h0M1278.7 479.3h0M1216.4 448.0h0M1613.5 697.2h0M738.2 925.6h0M1292.0 339.8h0M1130.4 311.4h0M724.7 1026.8h0M840.7 816.7h0M1629.7 672.2h0M919.4 1143.1h0M1155.8 1087.2h0M1520.7 570.0h0M944.7 1036.1h0" stroke="#9b2e7f"/>
<path d="M1272.6 482.2h0M1491.3 515.3h0M995.7 1226.6h0M1507.2 522.3h0M1178.7 1021.8h0M1027.7 1019.0h0M1603.1 706.7h0M1645.3 713.8h0M883.1 1124.0h0M718.1 989.7h0M1030.8 1052.4h0M909.0 1117.6h0M1157.9 322.0h0M855.4 855.9h0M1162.5 328.1h0M1629.9 700.4h0M1182.2 1084.7h0M1615.4 710.0h0M902.0 717.7h0M1189.0 268.8h0M1171.2 1047.7h0M903.5 888.4h0M1225.4 1034.3h0M1580.2 514.4h0M1116.5 1097.3h0M862.8 1029.3h0M1182.6 386.5h0M816.1 828.4h0M1222.7 319.0h0M1148.1 330.1h0M1258.6 490.8h0M1525.3 563.4h0M941.6 1046.3h0M1039.5 1134.6h0M1214.5 462.8h0M831.6 1091.3h0M927.1 1075.3h0M880.5 1151.6h0M1635.1 672.4h0M700.9 1035.5h0M858.7 838.5h0M1593.4 644.1h0M872.0 851.0h0M1623.9 693.4h0M1196.1 1010.3h0M899.3 705.0h0M720.3 920.6h0M1111.8 420.6h0M1214.2 1043.7h0M1187.9 391.5h0M806.1 814.9h0M1132.8 317.0h0M879.6 742.9h0M750.1 998.9h0M878.8 1178.2h0M1635.6 669.6h0M1198.1 818.7h0M1212.3 466.3h0M1234.1 496.2h0M896.1 711.8h0M990.6 816.1h0M1187.4 1048.0h0M1163.7 323.0h0M1238.9 320.6h0M1531.3 577.6h0M1488.4 534.5h0M824.3 805.9h0M1159.1 317.8h0M1167.3 368.1h0M715.1 989.7h0M1199.9 292.6h0M1141.2 324.4h0M757.7 1093.1h0M1170.0 435.1h0M1173.0 981.3h0M1122.6 410.5h0M1148.8 337.0h0M856.1 803.7h0M832.9 1146.0h0M1137.9 314.7h0M1219.2 1013.1h0M1646.6 711.9h0M991.9 1158.8h0M1209.5 313.5h0M1166.5 312.1h0M1112.3 1095.7h0M1130.9 1122.6h0M854.0 859.7h0M1142.8 331.3h0M723.6 945.4h0M807.2 853.6h0M863.8 1001.7h0M1637.5 721.1h0M1503.1 540.9h0M903.3 1121.4h0M1160.7 1041.9h0M1004.4 781.8h0M1257.2 323.8h0M873.9 1080.8h0M873.1 857.3h0M991.7 1006.4h0M1182.0 1002.0h0M1050.8 1146.4h0M861.6 807.3h0M1493.5 518.5h0M951.0 1041.7h0M1037.0 1193.8h0M911.9 1024.1h0M1206.8 1050.9h0M924.0 1009.8h0M949.5 1221.0h0M1197.9 435.8h0M1500.9 515.5h0M936.0 1146.7h0M1151.0 322.3h0M956.1 1177.7h0M1651.6 714.9h0M746.3 899.4h0M1628.3 722.2h0M1150.6 316.8h0M1199.8 293.4h0M1287.0 347.0h0M786.3 899.8h0M1493.6 510.0h0M953.5 1185.6h0M1194.7 339.9h0M942.6 924.1h0M1165.0 742.5h0M1697.9 818.9h0M1701.6 832.4h0M1714.9 834.5h0M1710.1 896.9h0M1704.8 899.1h0M1717.6 905.5h0M622.3 544.3h0M633.0 568.7h0M1501.4 515.7h0M1509.8 519.1h0M1584.3 633.9h0M1592.2 639.2h0M1191.1 1015.3h0M1167.1 1060.0h0M1591.4 699.1h0M718.2 1077.1h0M899.5 818.5h0" stroke="#a8327d"/>
<path d="M804.2 1041.7h0M1533.1 559.6h0M1136.1 309.7h0M1643.0 719.3h0M1480.7 511.5h0M1136.8 321.1h0M1538.8 524.0h0M913.8 1192.8h0M1501.3 526.8h0M1131.4 310.3h0M1160.1 368.0h0M1116.3 411.7h0M1217.1 1004.6h0M1133.5 340.5h0M902.1 1116.6h0M1603.6 682.0h0M1624.2 660.2h0M960.2 1151.2h0M1639.4 714.7h0M911.7 1205.5h0M1128.1 322.6h0M833.6 864.7h0M921.1 1093.3h0M1582.5 627.9h0M1581.0 514.3h0M1631.5 679.2h0M1194.9 262.6h0M1178.7 393.7h0M897.2 930.1h0M799.6 820.4h0M698.0 954.8h0M1604.6 643.0h0M836.9 1067.4h0M1622.3 698.5h0M867.4 1079.2h0M1134.2 838.2h0M922.3 1034.5h0M1486.4 532.3h0M774.4 878.2h0M899.0 1158.1h0M856.9 1092.8h0M1511.1 527.8h0M1211.3 458.3h0M1128.2 411.8h0M1140.9 327.5h0M894.5 1005.1h0M1129.3 402.2h0M1510.8 525.9h0M1283.8 370.4h0M1164.4 325.0h0M1153.9 365.8h0M1157.8 362.7h0M1245.8 332.4h0M922.7 1136.1h0M1616.3 692.5h0M1592.1 693.6h0M698.6 984.3h0M1533.6 529.6h0M726.3 1019.5h0M1138.0 405.3h0M1296.8 417.8h0M1119.1 311.8h0M1119.0 309.1h0M922.9 1051.1h0M1131.7 1018.2h0M1503.0 516.3h0M1512.4 521.3h0M1163.0 381.9h0M703.8 1046.6h0M1173.5 1037.3h0M911.5 695.2h0M1490.5 508.3h0M1289.9 337.1h0M854.9 1095.0h0M923.1 752.2h0M1045.6 1128.3h0M1038.2 1197.2h0M1196.5 286.2h0M1499.0 518.9h0M1133.6 1094.2h0M703.3 1046.6h0M1633.2 670.3h0M1599.2 508.5h0M1513.7 523.2h0M1138.6 333.1h0M1574.0 517.8h0M1104.4 420.7h0M706.8 963.2h0M1628.3 676.2h0M909.0 810.4h0M867.8 1078.6h0M1179.9 1089.3h0" stroke="#b3367a"/>
<path d="M1716.5 902.3h0M626.7 559.3h0M824.8 886.6h0M708.3 1009.4h0M1148.6 318.6h0M1603.2 703.2h0M1656.9 724.5h0M915.7 710.2h0M1627.0 722.6h0M1499.5 517.5h0M1138.8 335.2h0M1488.6 524.7h0M1575.9 520.6h0M1574.0 628.0h0M1508.9 527.5h0M1208.6 462.7h0M1537.8 552.9h0M1613.6 693.6h0M1193.1 389.0h0M929.3 1039.0h0M1132.5 328.9h0M874.4 1109.8h0M1176.2 1010.7h0M1554.0 517.8h0M871.4 737.5h0M891.6 1010.1h0M835.8 824.1h0M1062.6 1148.3h0M1640.5 731.1h0M1606.7 709.3h0M1148.6 376.3h0M1164.9 328.7h0M829.9 1027.4h0M1117.5 321.8h0M1219.8 457.0h0M1179.0 373.5h0M937.6 1202.2h0M1497.3 509.0h0M1161.0 362.0h0M1222.5 838.6h0M1642.2 715.4h0M951.5 1115.8h0M948.4 1185.2h0M1153.9 305.9h0M1093.6 419.5h0M1206.8 1000.9h0M1520.5 573.8h0M1169.2 1077.6h0M803.9 795.5h0M703.2 980.5h0M1618.3 712.0h0M1628.1 683.4h0M1235.6 334.6h0M1159.7 390.0h0M1506.0 512.5h0M1108.7 418.9h0M692.5 962.6h0M1585.7 506.8h0M1491.6 531.2h0M1154.1 325.9h0M1015.5 1203.4h0M1074.9 1159.2h0M1157.2 374.2h0M1529.2 558.5h0M1184.5 1004.7h0M1040.4 1111.8h0M1138.0 339.6h0M1140.8 1093.5h0M1626.4 718.5h0M1152.2 1097.1h0M1575.4 515.5h0M1599.8 647.5h0" stroke="#bf3a77"/>
<path d="M1165.1 312.5h0M844.4 1021.0h0M1484.5 510.8h0M1207.1 457.2h0M719.8 997.1h0M1506.8 513.2h0M1510.0 522.5h0M860.8 817.4h0M1214.2 736.7h0M628.7 556.7h0M1104.2 414.7h0M1528.6 554.6h0M1178.7 377.6h0M1599.4 713.6h0M1162.0 379.3h0M877.5 740.5h0M1627.6 678.4h0M1501.4 570.7h0M1504.8 510.5h0M1568.7 522.6h0M1036.0 1107.6h0M1598.1 642.4h0M1149.0 312.0h0M1126.2 321.4h0M1128.7 329.9h0M844.5 828.5h0M738.1 954.8h0M827.7 1041.4h0M754.2 1080.6h0M1522.8 561.8h0M1594.7 508.9h0M1127.0 324.6h0M1540.1 523.2h0M1110.8 417.5h0M1014.7 1007.1h0M1146.8 1088.6h0M1200.8 276.4h0M1113.6 1104.1h0M795.4 842.5h0M731.0 919.0h0M1487.0 515.2h0M865.0 1115.7h0M1177.9 372.8h0M1486.4 524.1h0M856.0 1047.8h0M1132.6 325.4h0M1135.1 406.2h0M906.1 920.6h0M1493.1 517.5h0M1530.8 566.5h0M747.5 919.7h0M1189.1 391.1h0M1528.5 553.0h0M1502.9 516.7h0M793.5 1033.5h0M892.5 1104.3h0" stroke="#cc3f71"/>
<path d="M813.1 832.9h0M1617.9 694.3h0M1130.4 412.6h0M1491.5 519.7h0M1180.6 1020.1h0M1520.2 515.2h0M889.0 1164.8h0M1119.1 327.1h0M1501.8 522.9h0M1222.3 369.9h0M1583.9 508.6h0M1090.7 422.8h0M1145.0 874.7h0M1235.8 755.0h0M1130.8 776.3h0M1539.0 584.2h0M599.3 531.3h0M1496.3 523.7h0M1607.8 644.1h0M1090.1 424.9h0M1487.4 512.3h0M1481.5 509.8h0M926.1 715.2h0M1500.6 524.5h0M812.9 935.4h0M1196.8 1071.1h0M1097.5 419.2h0M711.0 978.8h0M723.6 924.3h0M1486.4 531.7h0M1515.6 559.4h0M1056.6 1159.4h0M1047.7 1166.7h0M1498.9 511.2h0M1159.2 312.6h0M840.9 1049.4h0M1576.1 630.3h0M1099.8 422.1h0M859.2 1098.0h0M1209.3 1034.2h0M1610.2 706.6h0M853.1 1047.6h0M1624.4 702.8h0M1499.0 516.6h0M921.4 1083.5h0M859.8 842.5h0M720.1 920.6h0M724.2 1001.1h0M703.4 1046.1h0M1517.6 570.1h0M1499.3 522.2h0M1502.0 524.6h0M909.9 1171.3h0M1517.3 568.0h0M831.6 1075.8h0" stroke="#d6456c"/>
<path d="M979.1 1214.8h0M890.4 1200.3h0M854.9 1045.7h0M1156.0 379.7h0M719.8 1058.3h0M880.3 829.3h0M1057.8 844.0h0M1188.1 1014.5h0M1508.8 520.9h0M1172.5 710.8h0M1240.0 436.8h0M1710.1 846.6h0M1710.7 857.5h0M1592.2 644.1h0M1525.7 527.8h0M1205.8 1014.7h0M1144.4 315.6h0M809.7 909.5h0M1602.6 704.4h0M954.8 1196.3h0M1501.4 529.5h0M1527.7 559.2h0M700.4 1081.9h0M1586.1 511.4h0M857.6 1118.0h0M1615.7 699.0h0M1504.9 524.5h0M1565.1 519.9h0M853.1 1070.7h0M1175.3 380.0h0M1512.8 553.7h0M801.0 814.3h0M1125.7 324.2h0M296.4 984.8h0M1331.4 656.3h0M1341.9 650.3h0M1156.6 382.4h0M1625.2 722.9h0M894.6 731.0h0M1198.5 440.4h0M1498.5 511.7h0" stroke="#e24d66"/>
<path d="M1607.9 695.4h0M1487.6 511.5h0M1515.2 562.1h0M694.9 996.2h0M1511.6 523.6h0M1232.4 949.9h0M1140.7 324.1h0M1478.8 519.9h0M1150.8 308.1h0M1237.7 326.2h0M879.0 776.7h0M1137.5 865.3h0M1250.8 705.0h0M1254.2 708.7h0M1713.3 847.0h0M1717.1 845.7h0M654.3 574.0h0M1207.0 1027.1h0M795.6 1064.0h0M701.9 1052.6h0M826.8 1081.3h0M1147.1 1088.2h0M1481.8 517.3h0M769.9 1120.7h0" stroke="#ea5661"/>
<path d="M1489.3 522.5h0M1240.9 964.2h0M1562.8 524.4h0M1138.7 317.3h0M1626.9 680.1h0M842.0 756.7h0M1178.9 379.8h0M1521.1 566.4h0M1174.0 412.3h0M670.0 565.0h0M1133.0 372.2h0M1136.6 322.7h0M1624.9 713.0h0M1482.2 516.4h0M1522.3 527.8h0M1145.2 1098.5h0M1567.1 520.9h0M1165.9 318.6h0M855.8 752.3h0M1526.7 563.2h0" stroke="#f1605d"/>
<path d="M1521.5 556.5h0M1513.1 552.1h0M936.8 1022.2h0M1502.4 517.1h0M860.7 1066.0h0M1137.6 335.1h0M1502.0 515.9h0M1145.9 368.9h0M1595.7 702.3h0M1595.5 509.2h0M1619.8 684.7h0M1152.8 377.6h0M753.6 1078.4h0M1585.3 696.6h0M1585.0 631.7h0M1637.9 718.7h0M1570.4 517.3h0M1708.0 902.3h0M1712.3 902.8h0M383.0 497.5h0M1202.3 278.7h0M861.6 854.0h0M1508.6 531.7h0M1132.8 312.6h0" stroke="#f66e5c"/>
<path d="M982.0 1122.6h0M1191.7 1025.1h0M1173.3 1026.3h0M1505.8 521.4h0M1139.1 1107.1h0M1588.1 512.9h0M1507.9 513.3h0M1488.8 509.5h0M1517.4 522.8h0M1485.4 527.4h0M1488.3 525.3h0M1507.5 517.5h0M1117.5 1038.3h0M1258.3 965.3h0M491.0 223.5h0M493.5 226.0h0M385.5 499.5h0M1609.6 702.9h0M1126.0 315.9h0" stroke="#f97b5d"/>
<path d="M1099.4 1098.1h0M1508.5 521.2h0M1095.8 420.3h0M1499.0 514.1h0M1148.9 377.3h0" stroke="#fc8a62"/>
<path d="M1630.1 675.1h0M1154.1 364.2h0M695.1 1027.5h0M866.1 1033.8h0M1166.6 376.9h0M1141.6 327.6h0M1141.6 336.0h0" stroke="#fd9869"/>
<path d="M873.9 1040.9h0" stroke="#fea571"/>
<path d="M1172.5 743.8h0M1730.9 831.7h0M1718.1 911.0h0M1089.4 427.2h0M1134.1 310.8h0M1489.0 519.3h0M1145.5 313.4h0" stroke="#feb47b"/>
<path d="M1132.3 337.7h0M1734.1 828.1h0" stroke="#fec185"/>
<path d="M1528.0 572.3h0M1501.6 507.6h0" stroke="#fecf92"/>
<path d="M1224.7 768.3h0M850.0 1024.6h0M1617.1 650.6h0" stroke="#fddc9e"/>
<path d="M1150.2 321.8h0M1126.7 329.7h0M1166.9 319.4h0" stroke="#fde9aa"/>
<path d="M721.9 1068.4h0M1077.5 863.0h0M726.5 1040.8h0" stroke="#fcf7b9"/>
</g>
<path d="M205.4 142.8V1302.5H1871.2" fill="none" stroke="#000" stroke-width="4.6" stroke-linejoin="miter"/>
<path d="M190.8 245.55H205.4" stroke="#000" stroke-width="4.6"/>
<text transform="translate(178.50 263.15) scale(1 1.03)" font-size="50" text-anchor="end">15</text>
<path d="M190.8 484.70H205.4" stroke="#000" stroke-width="4.6"/>
<text transform="translate(178.50 502.30) scale(1 1.03)" font-size="50" text-anchor="end">10</text>
<path d="M190.8 723.85H205.4" stroke="#000" stroke-width="4.6"/>
<text transform="translate(178.50 741.45) scale(1 1.03)" font-size="50" text-anchor="end">5</text>
<path d="M190.8 963.00H205.4" stroke="#000" stroke-width="4.6"/>
<text transform="translate(178.50 980.60) scale(1 1.03)" font-size="50" text-anchor="end">0</text>
<path d="M190.8 1202.15H205.4" stroke="#000" stroke-width="4.6"/>
<text transform="translate(178.50 1219.75) scale(1 1.03)" font-size="50" text-anchor="end">-5</text>
<path d="M232.20 1302.5V1317" stroke="#000" stroke-width="4.6"/>
<text transform="translate(232.20 1366.40) scale(1 1.03)" font-size="50" text-anchor="middle">-10</text>
<path d="M720.00 1302.5V1317" stroke="#000" stroke-width="4.6"/>
<text transform="translate(720.00 1366.40) scale(1 1.03)" font-size="50" text-anchor="middle">0</text>
<path d="M1207.80 1302.5V1317" stroke="#000" stroke-width="4.6"/>
<text transform="translate(1207.80 1366.40) scale(1 1.03)" font-size="50" text-anchor="middle">10</text>
<path d="M1695.60 1302.5V1317" stroke="#000" stroke-width="4.6"/>
<text transform="translate(1695.60 1366.40) scale(1 1.03)" font-size="50" text-anchor="middle">20</text>
<text transform="translate(1037.50 1435.00) scale(1 1.068)" font-size="58.33" text-anchor="middle">UMAP_1</text>
<text transform="translate(95 722.5) rotate(-90) scale(1 1.068)" font-size="58.33" text-anchor="middle">UMAP_2</text>
<text transform="translate(1037.50 100.90) scale(1 1.063)" font-size="66.67" text-anchor="middle" font-weight="bold">GNA12</text>
<defs><linearGradient id="mg" x1="0" y1="0" x2="0" y2="1"><stop offset="0.00" stop-color="#fcfdbf"/><stop offset="0.05" stop-color="#fde7a9"/><stop offset="0.10" stop-color="#fecf92"/><stop offset="0.15" stop-color="#feb77e"/><stop offset="0.20" stop-color="#fe9f6d"/><stop offset="0.25" stop-color="#fc8961"/><stop offset="0.30" stop-color="#f7705c"/><stop offset="0.35" stop-color="#ed5a5f"/><stop offset="0.40" stop-color="#de4968"/><stop offset="0.45" stop-color="#ca3e72"/><stop offset="0.50" stop-color="#b73779"/><stop offset="0.55" stop-color="#a1307e"/><stop offset="0.60" stop-color="#8c2981"/><stop offset="0.65" stop-color="#782281"/><stop offset="0.70" stop-color="#641a80"/><stop offset="0.75" stop-color="#51127c"/><stop offset="0.80" stop-color="#3b0f70"/><stop offset="0.85" stop-color="#251255"/><stop offset="0.90" stop-color="#140e36"/><stop offset="0.95" stop-color="#06051a"/><stop offset="1.00" stop-color="#000004"/></linearGradient></defs>
<rect x="1926.9" y="578" width="64" height="319.5" fill="url(#mg)"/>
<path d="M1926.9 897.50h12.8M1990.9 897.50h-12.8" stroke="#fff" stroke-width="2.1"/>
<text transform="translate(2019.50 916.90) scale(1 1.03)" font-size="50" text-anchor="start">0</text>
<path d="M1926.9 795.70h12.8M1990.9 795.70h-12.8" stroke="#fff" stroke-width="2.1"/>
<text transform="translate(2019.50 815.10) scale(1 1.03)" font-size="50" text-anchor="start">1</text>
<path d="M1926.9 693.90h12.8M1990.9 693.90h-12.8" stroke="#fff" stroke-width="2.1"/>
<text transform="translate(2019.50 713.30) scale(1 1.03)" font-size="50" text-anchor="start">2</text>
<path d="M1926.9 592.10h12.8M1990.9 592.10h-12.8" stroke="#fff" stroke-width="2.1"/>
<text transform="translate(2019.50 611.50) scale(1 1.03)" font-size="50" text-anchor="start">3</text>
</svg>
</body></html>
